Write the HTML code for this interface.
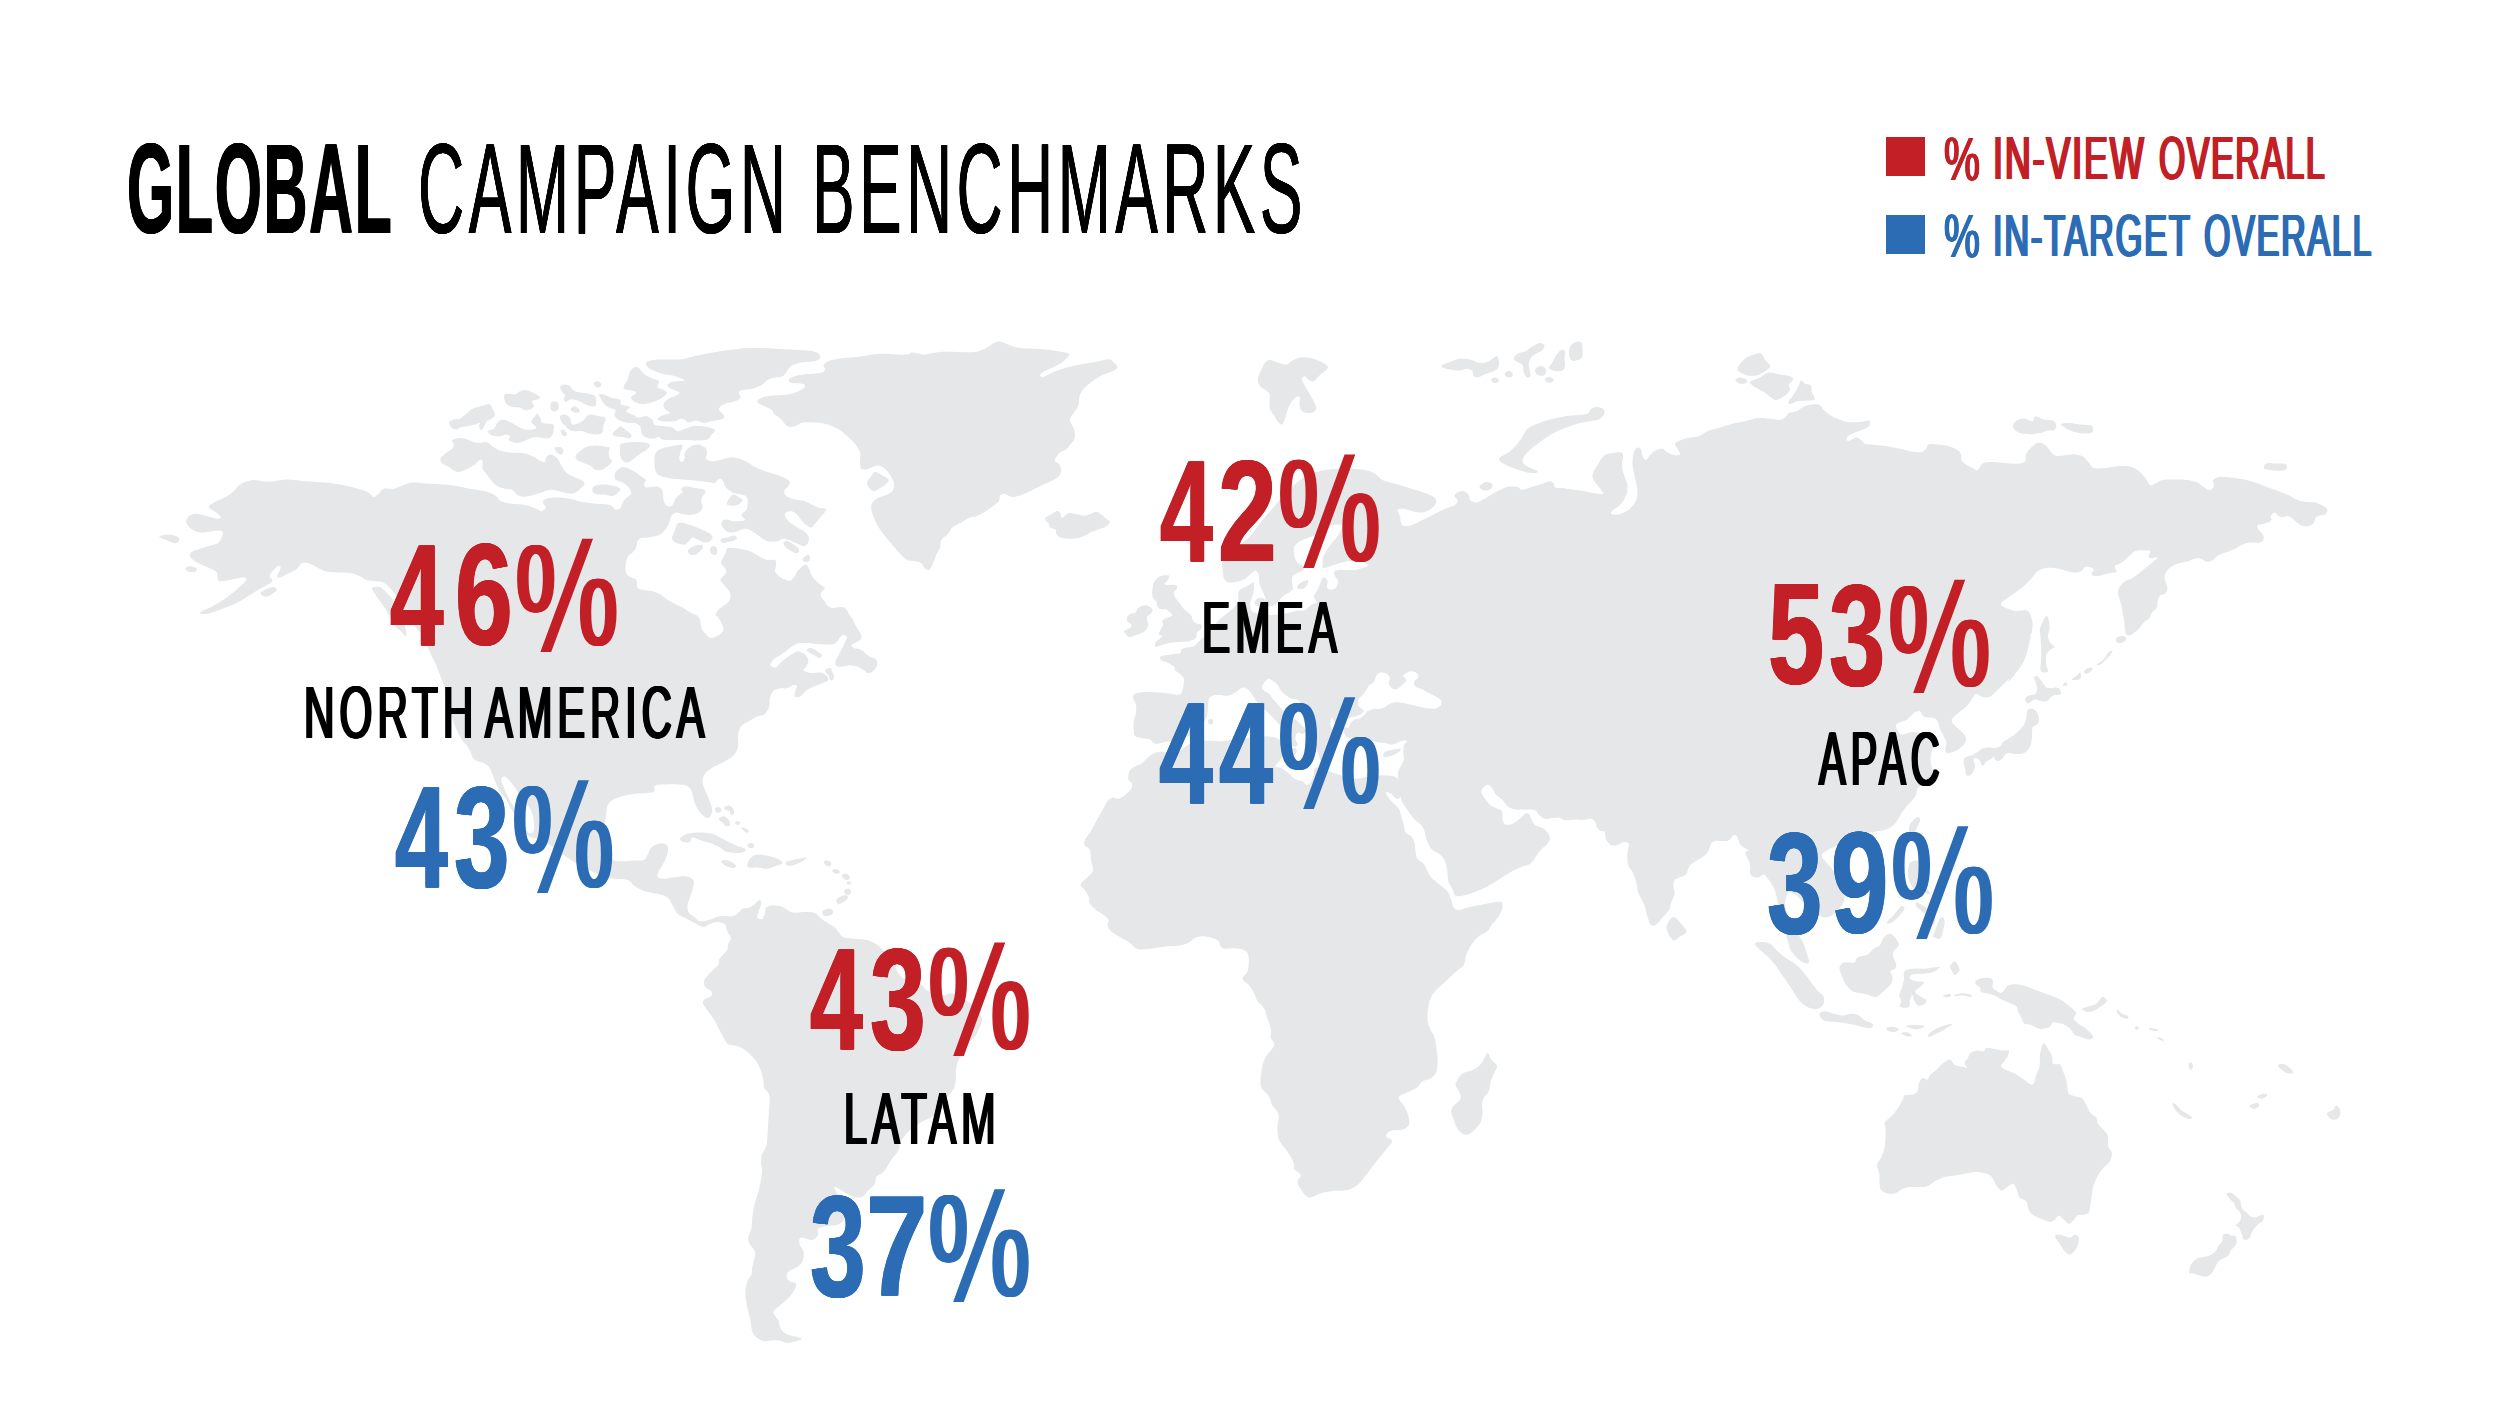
<!DOCTYPE html>
<html lang="en"><head><meta charset="utf-8"><title>Global Campaign Benchmarks</title>
<style>
html,body{margin:0;padding:0;background:#fff;}
body{width:2500px;height:1408px;position:relative;overflow:hidden;font-family:"Liberation Sans",sans-serif;}
svg.map{position:absolute;left:0;top:0;}
h1,ul,li,section{margin:0;padding:0;list-style:none;font-size:0;font-weight:normal;}
.t{position:absolute;display:block;font-family:"Liberation Sans",sans-serif;font-size:200px;line-height:1;white-space:nowrap;transform-origin:0 0;}
.t.b{font-weight:700} .t.r{font-weight:400}

.pc{position:absolute;display:block;width:98.9px;height:113.9px;transform-origin:0 0;font-size:0;white-space:nowrap;}
.pc>span,.pc::before,.pc::after{position:absolute;left:0;top:0;display:block;font:400 200px/1 "Liberation Sans",sans-serif;white-space:nowrap;transform-origin:0 0;}
.pc::before,.pc::after{content:"%";text-shadow:3.5px 0 0 currentColor,-3.5px 0 0 currentColor,1.75px 0 0 currentColor,-1.75px 0 0 currentColor;}
.pc::before{transform:matrix(0.5362,0,0,0.777,-1.877,-17.11);clip-path:polygon(0px 25px,78px 25px,78px 95px,60px 122px,0px 122px);}
.pc::after{transform:matrix(0.5261,0,0,0.7761,7.10,-23.64);clip-path:polygon(118px 78px,178px 78px,178px 175px,100px 175px,100px 105px);}
.pc>span{transform:matrix(0.7067,0,0.1609,0.8254,-29.73,-25.59);clip-path:polygon(123px 28px,144px 28px,55px 172px,34px 172px);}
.sw{position:absolute;display:block;width:39px;height:39px;}
</style></head><body>
<svg class="map" width="2500" height="1408" viewBox="0 0 2500 1408"><path fill="#e6e7e8" d="M160.0,536.2C161.2,535.8 164.8,534.5 167.5,534.5C170.2,534.5 174.2,535.4 176.2,536.2C178.2,537.1 179.5,538.3 179.5,539.5C179.5,540.7 177.6,542.8 176.2,543.2C174.9,543.7 173.1,542.6 171.2,542.0C169.4,541.4 166.9,540.2 165.0,539.5C163.1,538.8 160.8,538.0 160.0,537.5C159.2,537.0 158.8,536.8 160.0,536.2ZM185.8,567.5C186.7,567.0 189.4,566.0 191.2,566.2C193.1,566.5 196.2,567.8 196.8,568.8C197.3,569.7 195.8,571.5 194.5,572.0C193.2,572.5 190.2,572.4 188.8,572.0C187.3,571.6 186.2,570.2 185.8,569.5C185.2,568.8 184.8,568.0 185.8,567.5ZM260.8,592.5C261.6,591.4 265.3,589.7 267.5,588.8C269.7,587.8 272.2,586.8 273.8,587.0C275.3,587.2 277.0,588.9 276.8,590.0C276.5,591.1 274.1,592.6 272.5,593.8C270.9,594.9 268.7,596.5 267.0,596.8C265.3,597.0 263.5,596.2 262.5,595.5C261.5,594.8 259.9,593.6 260.8,592.5ZM449.2,422.0C449.7,420.7 452.0,420.0 453.8,419.5C455.5,419.0 457.9,419.7 460.0,418.8C462.1,417.8 464.2,415.4 466.2,413.8C468.3,412.1 469.8,410.1 472.5,408.8C475.2,407.4 479.7,406.5 482.5,405.8C485.3,405.0 487.8,403.8 489.5,404.2C491.2,404.8 491.6,407.0 492.5,408.8C493.4,410.5 495.2,413.3 495.0,415.0C494.8,416.7 492.7,417.6 491.2,418.8C489.8,419.9 487.5,420.5 486.2,422.0C485.0,423.5 484.6,426.2 483.8,427.5C482.9,428.8 482.1,430.2 481.2,430.0C480.4,429.8 479.0,427.4 478.8,426.2C478.5,425.1 480.6,423.3 480.0,423.0C479.4,422.7 477.1,424.0 475.0,424.5C472.9,425.0 469.8,425.8 467.5,426.2C465.2,426.7 463.1,426.5 461.2,427.0C459.4,427.5 457.9,429.4 456.2,429.5C454.6,429.6 452.4,428.8 451.2,427.5C450.1,426.2 448.8,423.3 449.2,422.0ZM452.5,440.0C453.8,438.9 458.5,438.0 461.2,438.0C464.0,438.0 466.0,439.2 468.8,440.0C471.5,440.8 474.6,442.7 477.5,443.0C480.4,443.3 483.8,441.5 486.2,442.0C488.8,442.5 490.2,444.8 492.5,446.2C494.8,447.7 497.1,449.5 500.0,450.5C502.9,451.5 506.2,452.1 510.0,452.5C513.8,452.9 518.8,452.4 522.5,453.0C526.2,453.6 529.6,455.0 532.5,456.2C535.4,457.5 537.9,459.5 540.0,460.5C542.1,461.5 544.0,462.6 545.0,462.0C546.0,461.4 545.2,458.2 546.2,457.0C547.3,455.8 549.5,454.3 551.2,454.5C553.0,454.7 555.3,456.2 557.0,458.0C558.7,459.8 559.9,462.8 561.2,465.0C562.6,467.2 563.1,469.4 565.0,471.2C566.9,473.1 569.8,474.8 572.5,476.2C575.2,477.7 579.2,478.8 581.2,480.0C583.2,481.2 584.5,482.4 584.5,483.8C584.5,485.1 582.6,486.6 581.2,488.0C579.9,489.4 577.9,491.0 576.2,492.0C574.6,493.0 573.3,493.7 571.2,493.8C569.2,493.8 566.2,493.0 563.8,492.5C561.2,492.0 558.8,490.9 556.2,490.5C553.8,490.1 551.5,489.6 548.8,490.0C546.0,490.4 542.9,492.1 540.0,493.0C537.1,493.9 534.0,494.9 531.2,495.5C528.5,496.1 526.0,496.8 523.8,496.8C521.5,496.7 519.4,496.1 517.5,495.0C515.6,493.9 514.6,491.0 512.5,490.0C510.4,489.0 507.5,489.4 505.0,488.8C502.5,488.1 499.8,487.6 497.5,486.2C495.2,484.9 493.1,482.6 491.2,480.5C489.4,478.4 487.7,475.8 486.2,473.8C484.8,471.7 483.1,470.3 482.5,468.2C481.9,466.2 483.0,462.6 482.5,461.2C482.0,459.9 480.8,459.5 479.5,460.0C478.2,460.5 477.0,463.0 475.0,464.5C473.0,466.0 470.2,467.5 467.5,468.8C464.8,470.0 461.0,471.7 458.8,472.0C456.5,472.3 455.6,471.5 453.8,470.5C451.9,469.5 449.6,467.6 447.5,466.2C445.4,464.9 442.4,463.9 441.2,462.5C440.1,461.1 439.9,459.6 440.8,458.0C441.6,456.4 444.3,454.5 446.2,453.0C448.2,451.5 451.2,450.2 452.5,448.8C453.8,447.3 453.8,446.0 453.8,444.5C453.8,443.0 451.2,441.1 452.5,440.0ZM487.5,431.2C487.7,430.1 492.1,430.2 493.8,428.8C495.4,427.3 496.0,424.0 497.5,422.5C499.0,421.0 500.4,419.6 502.5,419.5C504.6,419.4 507.5,420.9 510.0,422.0C512.5,423.1 515.0,425.0 517.5,426.2C520.0,427.5 522.5,429.0 525.0,429.5C527.5,430.0 530.6,429.8 532.5,429.5C534.4,429.2 536.5,428.8 536.2,427.5C536.0,426.2 531.5,423.9 531.2,422.0C531.0,420.1 534.0,417.6 535.0,416.2C536.0,414.9 536.7,413.5 537.5,413.8C538.3,414.0 539.2,416.0 540.0,417.5C540.8,419.0 541.0,422.0 542.5,423.0C544.0,424.0 546.9,423.4 548.8,423.8C550.6,424.1 553.0,423.5 553.8,425.0C554.5,426.5 553.6,430.3 553.0,432.5C552.4,434.7 551.8,437.1 550.0,438.0C548.2,438.9 545.0,438.2 542.5,438.0C540.0,437.8 537.5,436.8 535.0,437.0C532.5,437.2 530.0,438.6 527.5,439.5C525.0,440.4 522.3,442.0 520.0,442.5C517.7,443.0 515.6,442.9 513.8,442.5C511.9,442.1 509.4,441.0 508.8,440.0C508.1,439.0 510.4,437.2 510.0,436.2C509.6,435.3 507.9,434.5 506.2,434.5C504.6,434.5 502.3,436.1 500.0,436.2C497.7,436.4 494.6,436.3 492.5,435.5C490.4,434.7 487.3,432.4 487.5,431.2ZM504.5,394.5C505.4,393.5 508.2,393.8 510.0,393.8C511.8,393.8 513.3,394.9 515.0,394.5C516.7,394.1 518.3,392.0 520.0,391.2C521.7,390.5 522.9,389.8 525.0,390.0C527.1,390.2 530.0,391.3 532.5,392.5C535.0,393.7 539.2,395.8 540.0,397.0C540.8,398.2 538.3,398.8 537.0,399.5C535.7,400.2 532.5,400.1 532.0,401.2C531.5,402.4 534.1,404.9 533.8,406.2C533.4,407.6 531.7,408.9 530.0,409.5C528.3,410.1 525.4,410.3 523.8,410.0C522.1,409.7 521.9,408.0 520.0,407.5C518.1,407.0 514.7,407.5 512.5,407.0C510.3,406.5 508.3,405.8 507.0,404.5C505.7,403.2 504.9,401.2 504.5,399.5C504.1,397.8 503.6,395.5 504.5,394.5ZM550.8,403.8C551.4,402.4 553.2,401.2 554.5,401.2C555.8,401.2 557.6,402.5 558.2,403.8C558.9,405.0 558.8,407.5 558.2,408.8C557.7,410.0 556.2,411.4 555.0,411.5C553.8,411.6 551.5,410.8 550.8,409.5C550.0,408.2 550.1,405.1 550.8,403.8ZM560.0,387.0C560.5,385.9 563.3,384.6 565.0,384.5C566.7,384.4 568.5,385.2 570.0,386.2C571.5,387.2 572.1,389.5 573.8,390.5C575.4,391.5 577.5,392.0 580.0,392.5C582.5,393.0 586.2,393.1 588.8,393.8C591.2,394.4 593.8,395.0 595.0,396.2C596.2,397.5 596.2,399.6 596.2,401.2C596.2,402.9 596.2,405.5 595.0,406.2C593.8,407.0 590.8,406.3 588.8,405.8C586.7,405.2 584.6,404.0 582.5,403.0C580.4,402.0 578.3,400.6 576.2,400.0C574.2,399.4 571.7,399.2 570.0,399.5C568.3,399.8 567.3,402.0 566.2,402.0C565.2,402.0 564.0,400.6 563.8,399.5C563.5,398.4 565.3,396.9 565.0,395.5C564.7,394.1 562.8,392.7 562.0,391.2C561.2,389.8 559.5,388.1 560.0,387.0ZM571.2,408.0C571.9,407.3 573.8,406.1 575.0,406.2C576.2,406.4 578.0,407.8 578.8,408.8C579.5,409.7 580.1,411.4 579.5,412.0C578.9,412.6 576.4,412.8 575.0,412.5C573.6,412.2 571.9,411.2 571.2,410.5C570.6,409.8 570.6,408.7 571.2,408.0ZM593.8,383.0C594.0,382.0 596.2,381.1 597.5,381.2C598.8,381.4 600.8,382.8 601.2,383.8C601.7,384.7 600.9,386.5 600.0,387.0C599.1,387.5 596.8,387.7 595.8,387.0C594.7,386.3 593.5,384.0 593.8,383.0ZM560.0,416.2C560.6,415.1 563.4,414.3 565.0,414.5C566.6,414.7 568.2,415.8 569.5,417.5C570.8,419.2 571.0,423.6 572.5,424.5C574.0,425.4 576.9,423.8 578.8,423.0C580.6,422.2 582.3,421.2 583.8,420.0C585.2,418.8 586.0,416.4 587.5,415.5C589.0,414.6 590.6,414.4 592.5,414.5C594.4,414.6 596.8,415.8 598.8,416.2C600.8,416.7 603.4,416.3 604.5,417.0C605.6,417.7 605.8,419.0 605.5,420.5C605.2,422.0 603.5,424.2 603.0,426.2C602.5,428.2 603.4,431.1 602.5,432.5C601.6,433.9 599.6,434.3 597.5,434.5C595.4,434.7 592.5,434.3 590.0,433.8C587.5,433.2 585.0,431.7 582.5,431.2C580.0,430.8 577.2,431.5 575.0,431.2C572.8,431.0 571.2,431.0 569.5,430.0C567.8,429.0 566.4,427.0 565.0,425.5C563.6,424.0 562.1,422.8 561.2,421.2C560.4,419.7 559.4,417.4 560.0,416.2ZM560.8,430.5C561.0,429.8 562.8,429.5 563.8,430.0C564.8,430.5 566.5,432.7 566.8,433.8C567.0,434.8 565.8,436.1 565.0,436.2C564.2,436.4 562.7,435.5 562.0,434.5C561.3,433.5 560.5,431.2 560.8,430.5ZM554.5,448.0C554.8,447.0 558.0,446.8 559.5,447.0C561.0,447.2 562.8,448.3 563.2,449.5C563.7,450.7 563.0,453.7 562.0,454.2C561.0,454.8 558.8,454.0 557.5,453.0C556.2,452.0 554.2,449.0 554.5,448.0ZM598.8,394.5C599.2,393.8 601.5,393.9 603.8,394.5C606.0,395.1 609.8,397.2 612.5,398.0C615.2,398.8 618.5,398.4 620.0,399.5C621.5,400.6 619.6,403.2 621.2,404.5C622.9,405.8 629.2,405.9 630.0,407.0C630.8,408.1 625.6,409.9 626.2,411.2C626.9,412.6 631.9,414.0 633.8,415.0C635.6,416.0 635.4,417.3 637.5,417.5C639.6,417.7 643.8,415.8 646.2,416.2C648.8,416.7 651.0,418.5 652.5,420.0C654.0,421.5 652.9,424.0 655.0,425.0C657.1,426.0 662.1,425.8 665.0,426.2C667.9,426.7 670.4,426.7 672.5,427.5C674.6,428.3 675.4,431.0 677.5,431.2C679.6,431.5 682.5,429.6 685.0,428.8C687.5,427.9 689.6,426.7 692.5,426.2C695.4,425.8 699.4,426.0 702.5,426.2C705.6,426.5 709.2,427.3 711.2,428.0C713.3,428.7 715.0,429.3 715.0,430.5C715.0,431.7 712.5,433.5 711.2,435.0C710.0,436.5 709.8,438.6 707.5,439.5C705.2,440.4 701.2,440.4 697.5,440.5C693.8,440.6 689.2,440.1 685.0,440.0C680.8,439.9 676.2,440.1 672.5,440.0C668.8,439.9 664.8,440.0 662.5,439.5C660.2,439.0 660.4,437.1 658.8,437.0C657.1,436.9 654.6,438.7 652.5,438.8C650.4,438.8 648.0,438.3 646.2,437.5C644.5,436.7 643.0,435.6 642.0,433.8C641.0,431.9 641.2,428.0 640.0,426.2C638.8,424.5 637.3,423.6 635.0,423.0C632.7,422.4 629.0,423.0 626.2,422.5C623.5,422.0 620.7,421.2 618.8,420.0C616.8,418.8 615.0,416.7 614.5,415.0C614.0,413.3 616.5,411.2 615.5,410.0C614.5,408.8 610.7,408.5 608.8,407.5C606.8,406.5 605.0,405.2 603.8,403.8C602.5,402.3 602.1,400.3 601.2,398.8C600.4,397.2 598.3,395.2 598.8,394.5ZM623.8,386.2C624.2,384.7 626.5,382.3 627.5,380.0C628.5,377.7 628.5,374.6 629.5,372.5C630.5,370.4 632.2,368.2 633.8,367.5C635.3,366.8 637.1,367.0 638.8,368.0C640.4,369.0 641.7,372.1 643.8,373.8C645.8,375.4 648.8,376.8 651.2,378.0C653.8,379.2 657.7,379.8 658.8,381.2C659.8,382.8 656.7,385.5 657.5,387.0C658.3,388.5 662.2,389.0 663.8,390.0C665.3,391.0 667.2,391.8 667.0,393.0C666.8,394.2 664.5,396.1 662.5,397.5C660.5,398.9 657.7,400.2 655.0,401.2C652.3,402.3 648.8,403.3 646.2,403.8C643.8,404.2 642.1,404.2 640.0,403.8C637.9,403.3 635.2,402.4 633.8,401.2C632.3,400.1 630.8,398.4 631.2,397.0C631.7,395.6 636.0,394.1 636.2,393.0C636.5,391.9 634.4,391.1 632.5,390.5C630.6,389.9 626.5,390.2 625.0,389.5C623.5,388.8 623.3,387.8 623.8,386.2ZM620.5,444.5C621.8,443.5 624.7,442.9 627.5,442.5C630.3,442.1 634.4,441.9 637.5,442.0C640.6,442.1 644.2,442.4 646.2,443.0C648.3,443.6 650.0,444.3 650.0,445.5C650.0,446.7 647.9,448.6 646.2,450.0C644.6,451.4 642.1,452.3 640.0,453.8C637.9,455.2 635.8,457.3 633.8,458.8C631.7,460.2 629.4,462.2 627.5,462.5C625.6,462.8 623.8,461.8 622.5,460.5C621.2,459.2 620.4,457.0 620.0,455.0C619.6,453.0 619.9,450.5 620.0,448.8C620.1,447.0 619.2,445.5 620.5,444.5ZM575.8,455.5C576.2,454.0 578.2,452.7 580.0,451.2C581.8,449.8 584.0,448.0 586.2,447.0C588.5,446.0 591.0,445.6 593.8,445.5C596.5,445.4 599.9,445.9 602.5,446.2C605.1,446.6 608.5,446.5 609.5,447.5C610.5,448.5 608.8,450.8 608.8,452.5C608.8,454.2 609.0,456.0 609.5,457.5C610.0,459.0 612.3,459.8 612.0,461.2C611.7,462.7 609.3,464.8 607.5,466.2C605.7,467.7 603.3,469.5 601.2,470.0C599.2,470.5 596.9,470.2 595.0,469.5C593.1,468.8 592.1,466.7 590.0,465.5C587.9,464.3 584.7,463.4 582.5,462.5C580.3,461.6 578.1,461.2 577.0,460.0C575.9,458.8 575.2,457.0 575.8,455.5ZM612.5,433.8C612.8,432.5 616.2,430.0 617.5,428.8C618.8,427.5 619.2,426.1 620.5,426.2C621.8,426.4 623.2,428.1 625.0,429.5C626.8,430.9 630.4,433.1 631.2,434.5C632.1,435.9 631.5,437.6 630.0,438.0C628.5,438.4 624.9,437.3 622.5,437.0C620.1,436.7 617.2,436.8 615.5,436.2C613.8,435.7 612.2,435.0 612.5,433.8ZM592.5,488.0C593.2,486.8 595.2,485.6 597.5,485.0C599.8,484.4 603.3,484.3 606.2,484.5C609.2,484.7 612.6,485.5 615.0,486.2C617.4,487.0 620.1,487.6 620.5,488.8C620.9,489.9 618.8,491.8 617.5,493.0C616.2,494.2 614.6,496.0 612.5,496.2C610.4,496.5 607.5,494.8 605.0,494.5C602.5,494.2 599.5,494.9 597.5,494.5C595.5,494.1 593.8,493.1 593.0,492.0C592.2,490.9 591.8,489.2 592.5,488.0ZM727.0,502.5C727.3,501.2 728.9,498.8 730.0,497.5C731.1,496.2 732.3,494.6 733.8,494.5C735.2,494.4 737.3,496.1 738.8,497.0C740.2,497.9 742.4,498.9 742.5,500.0C742.6,501.1 741.0,502.8 739.5,503.8C738.0,504.7 735.7,505.5 733.8,505.8C731.8,506.0 729.1,505.5 728.0,505.0C726.9,504.5 726.7,503.8 727.0,502.5ZM672.0,537.5C672.1,535.8 673.7,533.4 674.5,531.2C675.3,529.1 675.9,526.0 677.0,524.5C678.1,523.0 679.1,522.4 681.2,522.5C683.4,522.6 686.9,524.0 690.0,525.0C693.1,526.0 696.9,527.4 700.0,528.8C703.1,530.1 706.7,531.6 708.8,533.0C710.8,534.4 712.3,535.6 712.5,537.0C712.7,538.4 711.5,540.3 710.0,541.2C708.5,542.2 705.8,542.8 703.8,542.5C701.7,542.2 699.4,540.3 697.5,539.5C695.6,538.7 694.0,537.2 692.5,537.5C691.0,537.8 690.0,540.1 688.8,541.2C687.5,542.4 686.7,544.1 685.0,544.5C683.3,544.9 680.6,544.3 678.8,543.8C676.9,543.2 674.9,542.3 673.8,541.2C672.6,540.2 671.9,539.2 672.0,537.5ZM688.0,550.0C688.7,548.8 691.8,547.1 693.8,546.2C695.8,545.4 698.5,544.9 700.0,545.0C701.5,545.1 703.2,546.0 703.0,547.0C702.8,548.0 700.2,550.0 698.8,551.2C697.3,552.5 696.0,554.1 694.5,554.5C693.0,554.9 690.6,554.5 689.5,553.8C688.4,553.0 687.3,551.2 688.0,550.0ZM710.8,547.5C711.4,546.7 713.5,546.1 714.5,546.5C715.5,546.9 716.7,548.7 717.0,550.0C717.3,551.3 717.0,553.8 716.2,554.5C715.5,555.2 713.4,555.0 712.5,554.5C711.6,554.0 711.0,552.4 710.8,551.2C710.5,550.1 710.1,548.3 710.8,547.5ZM721.2,538.8C722.4,538.1 725.4,538.0 727.5,537.5C729.6,537.0 732.2,535.4 733.8,535.5C735.3,535.6 737.0,537.2 737.0,538.0C737.0,538.8 735.3,539.8 733.8,540.5C732.2,541.2 729.2,541.6 727.5,542.0C725.8,542.4 724.9,543.1 723.8,543.0C722.6,542.9 721.2,542.0 720.8,541.2C720.3,540.5 720.1,539.4 721.2,538.8ZM646.2,362.5C647.0,361.2 649.4,360.5 652.5,360.0C655.6,359.5 660.4,359.6 665.0,359.5C669.6,359.4 676.2,359.8 680.0,359.5C683.8,359.2 684.2,358.8 687.5,358.0C690.8,357.2 693.8,356.2 700.0,355.0C706.2,353.8 716.7,351.7 725.0,350.5C733.3,349.3 741.7,348.3 750.0,348.0C758.3,347.7 766.7,348.4 775.0,348.8C783.3,349.1 793.8,349.6 800.0,350.0C806.2,350.4 809.4,350.6 812.5,351.2C815.6,351.9 817.5,352.6 818.8,353.8C820.0,354.9 820.6,356.8 820.0,358.0C819.4,359.2 817.5,360.6 815.0,361.2C812.5,361.9 808.1,361.6 805.0,362.0C801.9,362.4 798.8,362.9 796.2,363.8C793.8,364.6 791.7,365.5 790.0,367.0C788.3,368.5 787.5,371.0 786.2,372.5C785.0,374.0 784.4,375.4 782.5,376.2C780.6,377.1 777.5,376.9 775.0,377.5C772.5,378.1 769.6,378.8 767.5,380.0C765.4,381.2 765.0,383.0 762.5,384.5C760.0,386.0 755.8,387.8 752.5,388.8C749.2,389.7 744.8,389.4 742.5,390.0C740.2,390.6 739.1,391.2 738.8,392.5C738.4,393.8 741.1,396.0 740.5,397.5C739.9,399.0 737.6,400.2 735.0,401.2C732.4,402.3 727.7,402.5 725.0,403.8C722.3,405.0 719.2,407.1 718.8,408.8C718.3,410.4 721.5,412.3 722.5,413.8C723.5,415.2 725.1,416.5 724.5,417.5C723.9,418.5 721.0,419.4 718.8,420.0C716.5,420.6 713.8,420.8 711.2,421.2C708.8,421.8 706.2,423.1 703.8,423.0C701.2,422.9 698.8,420.6 696.2,420.5C693.8,420.4 690.6,422.6 688.8,422.5C686.9,422.4 686.5,420.6 685.0,420.0C683.5,419.4 681.7,418.5 680.0,418.8C678.3,419.0 677.9,420.8 675.0,421.2C672.1,421.7 665.4,421.7 662.5,421.2C659.6,420.8 657.5,419.7 657.5,418.8C657.5,417.8 660.4,416.5 662.5,415.5C664.6,414.5 669.6,414.1 670.0,413.0C670.4,411.9 666.0,410.3 665.0,408.8C664.0,407.2 663.1,405.4 663.8,403.8C664.4,402.1 666.7,400.1 668.8,398.8C670.8,397.4 674.5,396.5 676.2,395.5C678.0,394.5 679.9,393.4 679.5,392.5C679.1,391.6 675.8,391.0 673.8,390.0C671.8,389.0 668.1,387.5 667.5,386.2C666.9,385.0 668.3,383.3 670.0,382.5C671.7,381.7 675.0,381.6 677.5,381.2C680.0,380.9 685.4,381.3 685.0,380.5C684.6,379.7 678.3,377.2 675.0,376.2C671.7,375.2 668.3,375.3 665.0,374.5C661.7,373.7 657.8,372.4 655.0,371.2C652.2,370.1 649.5,369.0 648.0,367.5C646.5,366.0 645.5,363.8 646.2,362.5ZM823.8,365.0C824.6,363.6 826.5,361.7 830.0,360.5C833.5,359.3 839.6,358.7 845.0,358.0C850.4,357.3 856.7,357.0 862.5,356.2C868.3,355.5 874.6,354.0 880.0,353.8C885.4,353.5 890.4,354.4 895.0,354.5C899.6,354.6 904.6,354.8 907.5,354.5C910.4,354.2 909.6,352.5 912.5,352.5C915.4,352.5 920.4,354.6 925.0,354.5C929.6,354.4 934.6,352.4 940.0,352.0C945.4,351.6 951.7,352.0 957.5,352.0C963.3,352.0 970.2,352.7 975.0,352.0C979.8,351.3 982.9,349.6 986.2,348.0C989.6,346.4 992.5,343.5 995.0,342.5C997.5,341.5 998.8,341.2 1001.2,341.8C1003.8,342.2 1006.9,344.5 1010.0,345.5C1013.1,346.5 1015.8,347.5 1020.0,348.0C1024.2,348.5 1030.0,348.4 1035.0,348.8C1040.0,349.1 1045.4,349.5 1050.0,350.0C1054.6,350.5 1059.2,351.3 1062.5,352.0C1065.8,352.7 1068.9,353.1 1069.5,354.2C1070.1,355.4 1067.8,357.2 1066.2,358.8C1064.7,360.3 1062.7,362.1 1060.0,363.8C1057.3,365.4 1052.9,367.3 1050.0,368.8C1047.1,370.2 1044.2,371.4 1042.5,372.5C1040.8,373.6 1039.8,374.8 1040.0,375.5C1040.2,376.2 1041.7,377.2 1043.8,376.8C1045.8,376.2 1049.0,374.0 1052.5,372.5C1056.0,371.0 1060.4,369.3 1065.0,368.0C1069.6,366.7 1075.0,365.5 1080.0,364.5C1085.0,363.5 1090.2,362.9 1095.0,362.0C1099.8,361.1 1105.6,359.2 1108.8,359.2C1111.9,359.3 1112.3,361.1 1113.8,362.5C1115.2,363.9 1117.7,366.0 1117.5,367.5C1117.3,369.0 1115.0,370.0 1112.5,371.2C1110.0,372.5 1105.8,373.3 1102.5,375.0C1099.2,376.7 1095.6,379.0 1092.5,381.2C1089.4,383.5 1085.9,386.2 1083.8,388.8C1081.6,391.2 1080.3,393.8 1079.5,396.2C1078.7,398.8 1079.5,401.2 1078.8,403.8C1078.0,406.2 1076.5,408.8 1075.0,411.2C1073.5,413.8 1070.6,416.7 1070.0,418.8C1069.4,420.8 1070.5,421.9 1071.2,423.8C1072.0,425.6 1073.7,427.5 1074.2,430.0C1074.8,432.5 1075.2,436.2 1074.5,438.8C1073.8,441.2 1071.4,443.2 1070.0,445.0C1068.6,446.8 1067.9,448.2 1066.2,449.5C1064.6,450.8 1061.9,450.8 1060.0,452.5C1058.1,454.2 1055.2,458.1 1055.0,460.0C1054.8,461.9 1057.7,462.1 1058.8,463.8C1059.8,465.4 1061.2,467.9 1061.2,470.0C1061.2,472.1 1060.2,474.5 1058.8,476.2C1057.3,478.0 1055.2,479.0 1052.5,480.5C1049.8,482.0 1045.8,483.4 1042.5,485.0C1039.2,486.6 1035.8,488.4 1032.5,490.0C1029.2,491.6 1025.8,493.3 1022.5,494.5C1019.2,495.7 1015.6,497.1 1012.5,497.0C1009.4,496.9 1005.8,493.9 1003.8,493.8C1001.7,493.6 1000.8,495.0 1000.0,496.2C999.2,497.5 1000.2,499.4 998.8,501.2C997.3,503.1 993.8,505.6 991.2,507.5C988.8,509.4 986.2,511.0 983.8,512.5C981.2,514.0 978.5,515.4 976.2,516.2C974.0,517.1 972.5,516.5 970.0,517.5C967.5,518.5 964.2,520.8 961.2,522.5C958.3,524.2 954.4,526.0 952.5,527.5C950.6,529.0 951.0,529.9 950.0,531.2C949.0,532.6 947.7,534.0 946.2,535.5C944.8,537.0 942.3,538.0 941.2,540.0C940.2,542.0 940.8,545.0 940.0,547.5C939.2,550.0 937.3,552.7 936.2,555.0C935.2,557.3 934.6,559.2 933.8,561.2C932.9,563.3 932.1,566.0 931.2,567.5C930.4,569.0 929.8,569.8 928.8,570.0C927.7,570.2 926.2,569.9 925.0,568.8C923.8,567.6 922.9,564.2 921.2,563.0C919.6,561.8 917.3,561.8 915.0,561.2C912.7,560.8 910.0,561.2 907.5,560.0C905.0,558.8 902.5,556.2 900.0,553.8C897.5,551.2 895.0,547.9 892.5,545.0C890.0,542.1 887.3,539.2 885.0,536.2C882.7,533.3 880.6,530.6 878.8,527.5C876.9,524.4 875.0,520.6 873.8,517.5C872.5,514.4 871.5,511.2 871.2,508.8C871.0,506.2 871.2,504.4 872.5,502.5C873.8,500.6 876.2,498.8 878.8,497.5C881.2,496.2 885.1,495.8 887.5,494.5C889.9,493.2 892.0,492.0 893.0,490.0C894.0,488.0 894.2,485.0 893.8,482.5C893.2,480.0 891.5,477.3 890.0,475.0C888.5,472.7 886.9,470.3 885.0,468.8C883.1,467.2 880.8,465.8 878.8,465.5C876.7,465.2 874.6,466.3 872.5,467.0C870.4,467.7 868.1,469.2 866.2,469.5C864.4,469.8 862.3,469.9 861.2,468.8C860.2,467.6 860.2,465.2 860.0,462.5C859.8,459.8 860.8,455.6 860.0,452.5C859.2,449.4 857.1,446.5 855.0,443.8C852.9,441.0 850.2,438.6 847.5,436.2C844.8,433.9 842.1,431.5 838.8,429.5C835.4,427.5 831.2,425.7 827.5,424.5C823.8,423.3 820.4,422.8 816.2,422.5C812.1,422.2 806.0,421.9 802.5,422.5C799.0,423.1 797.5,425.6 795.0,426.2C792.5,426.9 789.8,427.4 787.5,426.2C785.2,425.1 783.5,421.6 781.2,419.5C779.0,417.4 775.2,415.2 773.8,413.8C772.3,412.2 773.8,411.6 772.5,410.5C771.2,409.4 768.5,408.1 766.2,407.0C764.0,405.9 760.2,404.8 758.8,403.8C757.3,402.7 756.7,401.6 757.5,400.5C758.3,399.4 760.8,397.8 763.8,397.0C766.7,396.2 771.0,395.9 775.0,395.5C779.0,395.1 783.5,395.2 787.5,394.5C791.5,393.8 795.8,392.6 798.8,391.2C801.7,389.9 804.4,387.5 805.0,386.2C805.6,385.0 804.4,384.2 802.5,383.8C800.6,383.2 796.0,383.7 793.8,383.2C791.5,382.8 789.2,382.2 788.8,381.2C788.3,380.3 789.0,378.6 791.2,377.5C793.5,376.4 799.0,375.1 802.5,374.5C806.0,373.9 809.2,374.1 812.5,373.8C815.8,373.4 820.4,373.3 822.5,372.5C824.6,371.7 824.8,370.0 825.0,368.8C825.2,367.5 822.9,366.4 823.8,365.0ZM867.0,482.5C867.4,480.6 869.9,478.0 871.2,476.2C872.6,474.5 873.1,472.1 875.0,472.0C876.9,471.9 880.2,474.2 882.5,475.5C884.8,476.8 888.3,478.4 888.8,480.0C889.2,481.6 886.7,483.5 885.0,485.0C883.3,486.5 880.6,487.7 878.8,488.8C876.9,489.8 875.4,491.5 873.8,491.2C872.1,491.0 869.9,489.0 868.8,487.5C867.6,486.0 866.6,484.4 867.0,482.5ZM1045.0,518.8C1045.2,517.3 1048.1,516.2 1050.0,515.0C1051.9,513.8 1054.6,511.7 1056.2,511.2C1057.9,510.8 1059.0,511.4 1060.0,512.5C1061.0,513.6 1061.0,517.7 1062.0,518.0C1063.0,518.3 1064.9,515.3 1066.2,514.5C1067.6,513.7 1068.1,513.0 1070.0,513.0C1071.9,513.0 1075.0,514.1 1077.5,514.5C1080.0,514.9 1082.7,515.6 1085.0,515.5C1087.3,515.4 1089.4,514.4 1091.2,513.8C1093.1,513.1 1094.6,511.6 1096.2,511.8C1097.9,511.9 1099.6,513.3 1101.2,514.5C1102.9,515.7 1104.8,517.5 1106.2,518.8C1107.7,520.0 1110.0,520.8 1110.0,522.0C1110.0,523.2 1108.1,525.0 1106.2,526.2C1104.4,527.5 1101.2,528.3 1098.8,529.2C1096.2,530.2 1093.5,531.0 1091.2,532.0C1089.0,533.0 1087.3,534.5 1085.0,535.5C1082.7,536.5 1080.4,537.7 1077.5,538.2C1074.6,538.8 1070.4,538.9 1067.5,538.8C1064.6,538.6 1061.9,538.3 1060.0,537.5C1058.1,536.7 1057.0,535.1 1056.2,533.8C1055.5,532.4 1056.5,530.5 1055.5,529.5C1054.5,528.5 1051.1,528.5 1050.0,527.5C1048.9,526.5 1049.6,525.2 1048.8,523.8C1047.9,522.3 1044.8,520.2 1045.0,518.8ZM655.0,455.0C655.7,452.5 656.7,451.3 658.8,450.0C660.8,448.7 664.8,447.8 667.5,447.0C670.2,446.2 672.5,445.8 675.0,445.5C677.5,445.2 681.7,443.6 682.5,445.0C683.3,446.4 680.5,451.2 680.0,453.8C679.5,456.2 679.1,458.6 679.5,460.0C679.9,461.4 681.7,462.2 682.5,462.0C683.3,461.8 684.1,460.3 684.5,458.8C684.9,457.2 684.1,454.5 685.0,452.5C685.9,450.5 687.9,448.3 690.0,447.0C692.1,445.7 695.0,444.4 697.5,444.5C700.0,444.6 703.4,446.2 705.0,447.5C706.6,448.8 706.8,450.6 707.0,452.5C707.2,454.4 705.5,457.3 706.2,458.8C707.0,460.2 709.0,461.0 711.2,461.2C713.5,461.5 716.9,460.6 720.0,460.0C723.1,459.4 726.7,457.7 730.0,457.5C733.3,457.3 736.7,457.7 740.0,458.8C743.3,459.8 747.7,462.5 750.0,463.8C752.3,465.0 751.2,465.0 753.8,466.2C756.2,467.5 761.0,469.8 765.0,471.2C769.0,472.7 774.0,473.8 777.5,475.0C781.0,476.2 784.2,477.5 786.2,478.8C788.3,480.0 789.8,481.1 790.0,482.5C790.2,483.9 788.4,485.8 787.5,487.0C786.6,488.2 784.9,488.8 784.5,490.0C784.1,491.2 784.1,493.2 785.0,494.5C785.9,495.8 787.9,497.1 790.0,498.0C792.1,498.9 795.0,499.5 797.5,500.0C800.0,500.5 802.5,500.4 805.0,501.2C807.5,502.1 810.0,503.9 812.5,505.0C815.0,506.1 817.8,507.4 820.0,508.0C822.2,508.6 825.0,508.0 825.8,508.8C826.5,509.5 825.5,511.0 824.5,512.5C823.5,514.0 821.6,515.6 820.0,517.5C818.4,519.4 816.5,522.1 815.0,523.8C813.5,525.4 812.7,527.3 811.2,527.5C809.8,527.7 807.9,526.2 806.2,525.0C804.6,523.8 802.9,521.9 801.2,520.0C799.6,518.1 797.9,515.2 796.2,513.8C794.6,512.3 792.9,511.5 791.2,511.2C789.6,511.0 787.3,511.7 786.2,512.5C785.2,513.3 784.4,514.6 785.0,516.2C785.6,517.9 787.9,520.6 790.0,522.5C792.1,524.4 795.0,525.9 797.5,527.5C800.0,529.1 803.1,530.3 805.0,532.0C806.9,533.7 808.3,535.5 808.8,537.5C809.2,539.5 808.3,542.3 807.5,543.8C806.7,545.2 805.4,546.2 803.8,546.2C802.1,546.2 800.0,544.8 797.5,543.8C795.0,542.7 791.2,540.8 788.8,540.0C786.2,539.2 784.4,538.5 782.5,538.8C780.6,539.0 780.0,540.8 777.5,541.2C775.0,541.7 770.8,542.3 767.5,541.2C764.2,540.2 760.4,536.9 757.5,535.0C754.6,533.1 752.3,531.0 750.0,530.0C747.7,529.0 745.8,528.5 743.8,528.8C741.7,529.0 739.8,530.6 737.5,531.2C735.2,531.9 732.1,532.7 730.0,532.5C727.9,532.3 726.5,531.5 725.0,530.0C723.5,528.5 721.2,525.5 721.2,523.8C721.2,522.0 722.7,519.9 725.0,519.5C727.3,519.1 731.7,521.2 735.0,521.2C738.3,521.3 744.0,521.0 745.0,520.0C746.0,519.0 741.0,516.7 741.2,515.0C741.5,513.3 745.2,511.7 746.2,510.0C747.3,508.3 747.5,507.3 747.5,505.0C747.5,502.7 748.8,498.3 746.2,496.2C743.8,494.2 736.0,494.2 732.5,492.5C729.0,490.8 726.5,487.9 725.0,486.2C723.5,484.6 724.4,483.7 723.8,482.5C723.1,481.3 722.3,479.7 721.2,479.2C720.2,478.8 718.5,479.4 717.5,480.0C716.5,480.6 716.7,482.7 715.0,483.0C713.3,483.3 710.8,482.4 707.5,482.0C704.2,481.6 699.2,480.9 695.0,480.5C690.8,480.1 686.2,479.8 682.5,479.5C678.8,479.2 676.0,479.3 672.5,478.8C669.0,478.2 664.0,477.3 661.2,476.2C658.5,475.2 657.4,474.4 656.2,472.5C655.1,470.6 654.7,467.9 654.5,465.0C654.3,462.1 654.3,457.5 655.0,455.0ZM783.8,542.5C784.2,541.7 785.9,540.6 788.0,541.2C790.1,541.9 794.4,544.8 796.2,546.2C798.1,547.7 799.0,548.8 799.2,550.0C799.5,551.2 798.8,553.0 797.5,553.2C796.2,553.5 793.3,552.4 791.2,551.2C789.2,550.1 786.2,547.7 785.0,546.2C783.8,544.8 783.2,543.3 783.8,542.5ZM807.1,649.2C807.5,648.6 809.0,647.9 810.2,647.9C811.3,647.9 812.6,648.5 814.0,649.2C815.3,649.9 817.0,651.1 818.3,652.1C819.7,653.1 821.7,654.3 822.1,655.2C822.5,656.1 821.5,656.9 820.8,657.3C820.2,657.7 819.4,658.0 818.3,657.7C817.3,657.4 815.9,656.2 814.6,655.4C813.2,654.7 811.4,654.0 810.2,653.3C809.0,652.6 808.0,652.1 807.4,651.4C806.9,650.7 806.6,649.8 807.1,649.2ZM825.2,670.2C825.4,669.4 826.8,668.6 827.7,668.3C828.7,668.0 830.1,667.7 830.9,668.3C831.6,669.0 831.6,670.9 832.1,672.1C832.6,673.2 833.7,674.2 834.0,675.2C834.3,676.3 834.2,677.5 833.7,678.3C833.3,679.2 832.2,680.4 831.5,680.5C830.8,680.6 830.0,679.7 829.6,679.0C829.2,678.2 829.5,676.8 829.0,675.8C828.5,674.9 827.1,674.3 826.5,673.3C825.8,672.4 825.0,671.0 825.2,670.2ZM802.3,559.4C802.4,558.6 803.7,557.7 804.6,556.9C805.5,556.1 806.9,554.9 807.7,554.8C808.5,554.7 809.2,555.4 809.6,556.3C809.9,557.1 810.1,558.8 809.8,559.8C809.5,560.7 808.6,561.6 807.7,561.9C806.8,562.2 805.1,562.0 804.2,561.5C803.3,561.1 802.2,560.2 802.3,559.4ZM710.4,548.8C710.9,547.8 712.2,546.5 713.2,546.3C714.1,546.0 715.7,546.4 716.3,547.3C716.9,548.1 717.0,550.0 716.9,551.3C716.9,552.5 716.8,554.3 716.0,554.8C715.3,555.3 713.5,554.9 712.5,554.4C711.6,553.9 710.8,552.8 710.4,551.9C710.1,551.0 709.9,549.7 710.4,548.8ZM690.0,548.8C690.8,547.4 693.1,546.6 695.0,546.0C696.9,545.4 699.9,544.9 701.3,545.0C702.6,545.2 703.3,545.9 703.1,546.9C703.0,547.8 701.8,549.4 700.6,550.6C699.5,551.9 697.6,553.7 696.3,554.4C694.9,555.1 693.5,555.0 692.5,555.0C691.5,555.0 690.4,555.4 690.0,554.4C689.6,553.4 689.2,550.2 690.0,548.8ZM680.0,838.8C680.6,837.4 684.2,834.8 687.5,833.8C690.8,832.7 695.8,832.5 700.0,832.5C704.2,832.5 708.8,832.7 712.5,833.8C716.2,834.8 718.8,836.9 722.5,838.8C726.2,840.6 731.2,843.3 735.0,845.0C738.8,846.7 743.5,847.6 745.0,848.8C746.5,849.9 745.4,851.3 743.8,852.0C742.1,852.7 738.1,853.1 735.0,853.0C731.9,852.9 727.5,852.2 725.0,851.2C722.5,850.3 722.5,848.9 720.0,847.5C717.5,846.1 713.3,844.2 710.0,843.0C706.7,841.8 702.9,840.9 700.0,840.0C697.1,839.1 694.2,837.2 692.5,837.5C690.8,837.8 691.5,841.2 690.0,842.0C688.5,842.8 685.4,842.5 683.8,842.0C682.1,841.5 679.4,840.1 680.0,838.8ZM747.5,863.8C747.9,862.1 749.6,859.0 751.2,857.5C752.9,856.0 754.4,854.7 757.5,854.5C760.6,854.3 766.2,855.3 770.0,856.2C773.8,857.2 778.0,858.8 780.0,860.0C782.0,861.2 782.8,862.7 782.0,863.8C781.2,864.8 777.4,865.4 775.0,866.2C772.6,867.1 770.4,868.5 767.5,868.8C764.6,869.0 760.6,867.7 757.5,867.5C754.4,867.3 750.4,868.1 748.8,867.5C747.1,866.9 747.1,865.4 747.5,863.8ZM721.2,861.2C721.5,860.3 724.4,859.8 726.2,860.0C728.1,860.2 730.8,861.5 732.5,862.5C734.2,863.5 736.2,865.3 736.2,866.2C736.2,867.2 734.4,868.1 732.5,868.0C730.6,867.9 726.9,866.6 725.0,865.5C723.1,864.4 721.0,862.2 721.2,861.2ZM786.2,862.0C787.6,861.1 791.7,860.2 795.0,859.5C798.3,858.8 805.2,857.1 806.2,857.5C807.3,857.9 803.8,860.6 801.2,862.0C798.8,863.4 793.6,865.2 791.2,865.8C788.9,866.2 787.8,865.6 787.0,865.0C786.2,864.4 784.9,862.9 786.2,862.0ZM715.0,808.8C715.2,807.8 717.0,807.0 718.0,807.0C719.0,807.0 720.8,807.9 721.2,808.8C721.7,809.6 721.2,811.4 720.5,812.0C719.8,812.6 717.9,813.0 717.0,812.5C716.1,812.0 714.8,809.7 715.0,808.8ZM724.5,807.0C725.0,806.2 727.3,805.2 728.8,805.5C730.2,805.8 732.4,807.4 733.2,808.8C734.1,810.1 734.2,812.7 733.8,813.8C733.3,814.8 731.1,815.4 730.5,815.0C729.9,814.6 730.8,812.1 730.0,811.2C729.2,810.4 726.4,810.7 725.5,810.0C724.6,809.3 724.0,807.8 724.5,807.0ZM718.8,818.8C719.0,817.7 722.1,816.0 723.8,816.2C725.4,816.5 727.7,818.5 728.8,820.0C729.8,821.5 730.4,824.0 730.0,825.0C729.6,826.0 727.5,826.7 726.2,826.2C725.0,825.8 723.8,823.8 722.5,822.5C721.2,821.2 718.5,819.8 718.8,818.8ZM735.0,822.0C735.3,821.4 737.9,821.0 738.8,821.2C739.6,821.5 740.3,823.1 740.0,823.8C739.7,824.4 737.8,825.3 737.0,825.0C736.2,824.7 734.7,822.6 735.0,822.0ZM741.2,828.0C741.0,827.2 743.8,827.5 745.0,828.0C746.2,828.5 748.5,830.5 748.8,831.2C749.0,832.0 747.5,833.0 746.2,832.5C745.0,832.0 741.5,828.8 741.2,828.0ZM747.5,844.5C747.9,843.8 750.1,842.8 751.2,843.0C752.4,843.2 754.3,844.7 754.5,845.5C754.7,846.3 753.5,847.7 752.5,848.0C751.5,848.3 749.6,848.1 748.8,847.5C747.9,846.9 747.1,845.2 747.5,844.5ZM823.8,861.2C824.1,860.5 826.2,860.2 827.5,860.5C828.8,860.8 830.9,862.3 831.2,863.2C831.6,864.2 830.5,866.0 829.5,866.2C828.5,866.5 826.5,865.8 825.5,865.0C824.5,864.2 823.4,862.0 823.8,861.2ZM832.5,870.0C833.0,869.4 835.8,869.2 837.0,869.5C838.2,869.8 839.9,871.3 840.0,872.0C840.1,872.7 838.5,873.6 837.5,873.8C836.5,873.9 834.6,873.6 833.8,873.0C832.9,872.4 832.0,870.6 832.5,870.0ZM842.0,875.0C842.4,874.2 844.9,873.4 846.2,873.8C847.6,874.1 849.7,876.0 850.0,877.0C850.3,878.0 849.0,879.7 848.0,880.0C847.0,880.3 844.8,879.6 843.8,878.8C842.8,877.9 841.6,875.8 842.0,875.0ZM846.8,882.0C847.1,881.5 849.2,881.0 850.0,881.2C850.8,881.5 851.6,883.2 851.2,883.8C850.9,884.3 848.8,884.8 848.0,884.5C847.2,884.2 846.4,882.5 846.8,882.0ZM844.5,890.0C845.1,889.2 847.6,888.4 848.8,888.8C849.9,889.1 851.2,891.0 851.2,892.0C851.2,893.0 849.8,894.7 848.8,895.0C847.7,895.3 845.7,894.6 845.0,893.8C844.3,892.9 843.9,890.8 844.5,890.0ZM836.2,900.0C836.8,898.8 839.5,897.0 841.2,896.2C843.0,895.5 846.0,895.1 847.0,895.5C848.0,895.9 848.2,897.6 847.5,898.8C846.8,899.9 844.1,901.7 842.5,902.5C840.9,903.3 839.0,904.2 838.0,903.8C837.0,903.3 835.7,901.2 836.2,900.0ZM822.5,911.2C823.2,910.3 825.8,909.0 827.5,908.8C829.2,908.5 831.8,909.0 832.5,910.0C833.2,911.0 833.0,913.5 832.0,914.5C831.0,915.5 827.8,916.2 826.2,916.2C824.8,916.2 823.6,915.3 823.0,914.5C822.4,913.7 821.8,912.2 822.5,911.2ZM200.0,612.5C200.8,611.2 208.3,608.5 212.5,606.2C216.7,604.0 220.8,601.7 225.0,598.8C229.2,595.8 234.0,591.9 237.5,588.8C241.0,585.6 245.4,581.9 246.2,580.0C247.1,578.1 245.2,577.5 242.5,577.5C239.8,577.5 233.8,579.4 230.0,580.0C226.2,580.6 222.1,581.7 220.0,581.2C217.9,580.8 217.9,578.8 217.5,577.5C217.1,576.2 218.1,575.0 217.5,573.8C216.9,572.5 215.8,571.2 213.8,570.0C211.7,568.8 208.1,567.7 205.0,566.2C201.9,564.8 197.5,562.9 195.0,561.2C192.5,559.6 190.6,557.7 190.0,556.2C189.4,554.8 189.6,553.8 191.2,552.5C192.9,551.2 196.5,550.0 200.0,548.8C203.5,547.5 209.4,546.0 212.5,545.0C215.6,544.0 217.1,544.2 218.8,542.5C220.4,540.8 222.1,537.0 222.5,535.0C222.9,533.0 222.9,531.4 221.2,530.8C219.6,530.1 216.0,531.0 212.5,531.2C209.0,531.5 203.5,532.9 200.0,532.5C196.5,532.1 193.5,530.4 191.2,528.8C189.0,527.1 186.7,524.6 186.2,522.5C185.8,520.4 187.1,517.7 188.8,516.2C190.4,514.8 193.1,513.8 196.2,513.8C199.4,513.8 204.0,515.4 207.5,516.2C211.0,517.1 215.3,518.6 217.5,518.8C219.7,518.9 221.0,518.0 220.8,517.0C220.5,516.0 218.2,514.2 216.2,512.5C214.2,510.8 208.8,508.6 208.8,506.8C208.8,504.9 213.5,502.8 216.2,501.2C219.0,499.7 222.1,499.2 225.0,497.5C227.9,495.8 231.2,493.4 233.8,491.2C236.2,489.1 236.9,486.4 240.0,484.5C243.1,482.6 247.9,480.5 252.5,480.0C257.1,479.5 261.9,481.8 267.5,481.8C273.1,481.7 280.0,479.6 286.2,479.5C292.5,479.4 298.5,480.8 305.0,481.2C311.5,481.8 318.3,481.8 325.0,482.5C331.7,483.2 338.8,484.2 345.0,485.5C351.2,486.8 358.3,488.6 362.5,490.0C366.7,491.4 368.1,492.6 370.0,493.8C371.9,494.9 372.3,497.0 373.8,497.0C375.2,497.0 377.1,495.1 378.8,493.8C380.4,492.4 381.2,489.6 383.8,488.8C386.2,487.9 390.6,489.3 393.8,488.8C396.9,488.2 399.4,486.5 402.5,485.5C405.6,484.5 407.9,482.8 412.5,482.5C417.1,482.2 423.8,483.3 430.0,483.8C436.2,484.2 443.3,484.2 450.0,485.0C456.7,485.8 463.8,487.6 470.0,488.8C476.2,489.9 483.1,490.8 487.5,492.0C491.9,493.2 494.0,494.7 496.2,496.2C498.5,497.8 498.5,500.0 501.2,501.2C504.0,502.5 508.5,503.1 512.5,503.8C516.5,504.4 521.0,504.2 525.0,505.0C529.0,505.8 533.5,507.7 536.2,508.8C539.0,509.8 539.7,511.4 541.2,511.2C542.8,511.1 545.5,509.5 545.8,508.0C546.0,506.5 542.9,504.0 543.0,502.5C543.1,501.0 543.8,499.6 546.2,498.8C548.7,497.9 553.5,497.5 557.5,497.5C561.5,497.5 565.8,498.0 570.0,498.8C574.2,499.5 577.9,501.2 582.5,502.0C587.1,502.8 592.9,503.2 597.5,503.8C602.1,504.2 607.0,504.0 610.0,505.0C613.0,506.0 613.8,509.0 615.5,509.5C617.2,510.0 619.3,509.2 620.5,508.0C621.7,506.8 621.5,504.2 622.5,502.5C623.5,500.8 624.8,499.5 626.2,498.0C627.7,496.5 630.8,495.5 631.2,493.8C631.7,492.0 630.2,489.4 628.8,487.5C627.3,485.6 624.6,483.8 622.5,482.5C620.4,481.2 617.6,481.2 616.2,480.0C614.9,478.8 614.3,476.7 614.5,475.0C614.7,473.3 616.0,471.3 617.5,470.0C619.0,468.7 621.2,466.9 623.8,467.0C626.2,467.1 629.6,469.0 632.5,470.5C635.4,472.0 639.0,474.7 641.2,476.2C643.5,477.8 645.3,478.5 645.8,480.0C646.2,481.5 643.5,483.8 643.8,485.0C644.0,486.2 645.4,487.3 647.5,487.5C649.6,487.7 654.0,486.0 656.2,486.2C658.5,486.5 660.1,487.5 661.2,488.8C662.4,490.0 662.6,491.7 663.0,493.8C663.4,495.8 663.0,499.2 663.8,501.2C664.5,503.3 666.0,505.6 667.5,506.2C669.0,506.9 671.0,506.5 672.5,505.0C674.0,503.5 674.6,499.6 676.2,497.5C677.9,495.4 681.7,494.0 682.5,492.5C683.3,491.0 680.6,489.8 681.2,488.8C681.9,487.7 684.0,486.4 686.2,486.2C688.5,486.1 692.1,487.5 695.0,488.0C697.9,488.5 702.0,488.8 703.8,489.5C705.5,490.2 705.7,491.4 705.5,492.5C705.3,493.6 703.2,494.8 702.5,496.2C701.8,497.7 701.2,499.4 701.2,501.2C701.2,503.1 702.9,505.6 702.5,507.5C702.1,509.4 700.8,511.2 698.8,512.5C696.7,513.8 692.9,514.8 690.0,515.0C687.1,515.2 683.5,514.2 681.2,513.8C679.0,513.3 677.9,512.1 676.2,512.5C674.6,512.9 672.5,514.4 671.2,516.2C670.0,518.1 669.8,521.5 668.8,523.8C667.7,526.0 666.7,528.1 665.0,530.0C663.3,531.9 661.5,533.8 658.8,535.0C656.0,536.2 651.7,537.0 648.8,537.5C645.8,538.0 643.1,537.4 641.2,538.0C639.4,538.6 638.3,539.7 637.5,541.2C636.7,542.8 637.1,545.6 636.2,547.5C635.4,549.4 633.9,551.0 632.5,552.5C631.1,554.0 629.1,554.4 628.0,556.2C626.9,558.1 626.1,561.2 625.8,563.8C625.4,566.2 625.2,569.2 625.8,571.2C626.2,573.3 627.2,575.0 628.8,576.2C630.3,577.5 633.6,577.7 635.0,578.8C636.4,579.8 636.6,581.0 637.0,582.5C637.4,584.0 636.6,586.2 637.5,587.5C638.4,588.8 640.0,589.4 642.5,590.0C645.0,590.6 649.4,590.4 652.5,591.2C655.6,592.1 658.3,593.3 661.2,595.0C664.2,596.7 666.5,599.2 670.0,601.2C673.5,603.3 678.8,605.4 682.5,607.5C686.2,609.6 690.2,612.5 692.5,613.8C694.8,615.0 695.0,614.3 696.3,615.1C697.5,616.0 699.0,617.4 699.8,618.9C700.5,620.3 700.3,622.2 700.6,623.9C701.0,625.6 701.2,627.3 701.9,628.9C702.6,630.5 703.9,631.9 705.0,633.3C706.2,634.6 707.6,636.3 708.8,637.0C709.9,637.8 710.8,638.0 711.9,637.9C713.1,637.8 714.2,637.1 715.7,636.4C717.1,635.7 719.4,634.8 720.7,633.9C721.9,633.0 722.8,631.8 723.2,630.8C723.6,629.7 723.5,629.0 723.2,627.6C722.9,626.3 722.1,624.3 721.3,622.6C720.5,621.0 719.1,619.0 718.2,617.6C717.2,616.3 715.6,615.9 715.7,614.5C715.8,613.1 717.4,610.7 718.8,609.2C720.2,607.8 722.2,606.9 723.8,605.7C725.4,604.5 727.1,603.3 728.2,602.0C729.3,600.6 730.0,599.1 730.3,597.6C730.6,596.1 730.6,594.8 730.1,593.2C729.5,591.6 728.2,589.9 726.9,588.2C725.7,586.5 723.7,584.7 722.6,583.2C721.4,581.7 720.0,580.8 720.3,579.4C720.6,578.1 723.4,576.4 724.4,575.1C725.4,573.7 726.2,572.4 726.3,571.3C726.4,570.2 725.8,569.2 725.1,568.2C724.3,567.1 722.6,566.1 721.9,565.0C721.3,564.0 720.8,563.2 721.1,561.9C721.3,560.7 722.4,559.1 723.2,557.5C724.0,556.0 725.0,554.1 725.7,552.5C726.4,551.0 726.2,548.9 727.6,548.1C728.9,547.4 731.3,547.9 733.8,548.1C736.3,548.3 739.9,548.9 742.6,549.4C745.3,549.9 747.8,550.4 750.1,551.3C752.4,552.1 754.3,553.3 756.4,554.4C758.4,555.5 760.7,557.2 762.6,558.2C764.5,559.1 766.0,559.8 767.6,560.0C769.3,560.3 771.3,559.7 772.6,559.8C774.0,559.9 775.2,559.5 775.8,560.7C776.3,561.8 775.9,565.2 775.8,566.9C775.6,568.6 774.8,569.5 774.9,570.7C775.0,571.8 775.5,572.8 776.4,573.8C777.3,574.8 778.7,576.0 780.1,576.9C781.6,577.9 783.7,578.8 785.2,579.4C786.6,580.1 787.8,580.7 788.9,580.7C790.1,580.7 791.1,580.2 792.0,579.4C793.0,578.7 793.7,577.6 794.5,576.3C795.4,575.1 796.1,573.3 797.0,571.9C798.0,570.6 799.1,569.2 800.2,568.2C801.2,567.1 802.3,566.2 803.3,565.7C804.4,565.1 805.4,564.1 806.4,564.8C807.5,565.5 808.8,568.5 809.6,570.0C810.3,571.6 810.1,572.3 810.8,573.8C811.6,575.3 812.8,577.4 814.0,578.8C815.1,580.3 816.4,581.4 817.7,582.6C819.1,583.7 820.9,584.8 822.1,585.7C823.3,586.6 824.9,587.4 825.0,588.2C825.1,589.0 823.4,589.8 822.7,590.7C822.0,591.6 821.0,592.7 820.8,593.8C820.6,595.0 820.8,596.3 821.5,597.6C822.1,598.8 823.6,600.0 824.6,601.3C825.6,602.7 826.6,604.6 827.7,605.7C828.9,606.8 830.0,607.5 831.5,607.9C832.9,608.2 834.7,607.8 836.5,607.6C838.3,607.5 840.6,606.8 842.1,607.0C843.7,607.2 844.7,607.7 845.9,608.9C847.0,610.0 847.9,612.1 849.0,613.9C850.2,615.6 851.7,617.6 852.8,619.5C853.8,621.4 854.3,623.4 855.3,625.1C856.2,626.9 857.4,628.5 858.4,630.1C859.4,631.8 860.9,633.7 861.3,635.2C861.7,636.6 861.5,637.9 860.9,638.9C860.3,640.0 858.9,640.7 857.8,641.4C856.6,642.1 855.1,642.7 854.0,643.3C853.0,643.9 851.4,644.3 851.5,645.2C851.6,646.0 853.4,647.7 854.6,648.3C855.9,648.9 857.6,648.4 859.0,648.9C860.5,649.4 861.9,650.4 863.4,651.4C864.9,652.5 866.4,654.1 867.8,655.2C869.1,656.2 870.3,657.1 871.5,657.7C872.8,658.3 874.4,658.2 875.3,658.9C876.2,659.7 877.0,660.8 877.2,662.1C877.4,663.3 877.1,665.1 876.6,666.5C876.0,667.8 875.1,669.2 874.0,670.2C873.0,671.3 871.4,672.3 870.3,672.7C869.1,673.2 868.2,673.4 867.2,673.0C866.1,672.5 865.3,671.1 864.0,670.2C862.8,669.3 861.3,668.4 859.7,667.7C858.0,667.0 855.8,666.2 854.0,665.8C852.2,665.4 850.7,665.1 849.0,665.2C847.3,665.3 845.7,666.0 844.0,666.2C842.3,666.5 840.3,666.9 839.0,666.7C837.6,666.5 836.5,666.0 835.9,665.2C835.2,664.4 835.0,663.3 835.2,662.1C835.4,660.8 836.3,659.4 837.1,657.7C837.9,656.0 839.2,654.0 840.2,652.1C841.3,650.1 842.4,647.8 843.4,645.8C844.3,643.8 845.3,641.6 845.9,640.2C846.5,638.7 847.5,637.9 847.1,637.0C846.7,636.2 844.5,634.9 843.4,634.9C842.2,634.9 841.3,635.9 840.2,637.0C839.2,638.1 838.2,640.3 837.1,641.4C836.1,642.6 835.3,643.4 834.0,643.9C832.6,644.4 831.1,644.5 829.0,644.5C826.9,644.6 824.0,644.3 821.5,644.2C819.0,644.0 816.5,643.9 814.0,643.7C811.4,643.5 808.9,643.0 806.4,642.9C803.9,642.9 800.8,643.0 798.9,643.3C797.0,643.6 796.6,643.8 795.2,644.5C793.7,645.3 791.8,646.5 790.2,647.7C788.5,648.9 786.8,650.6 785.2,651.8C783.5,653.1 781.8,654.1 780.1,655.2C778.5,656.3 776.5,657.3 775.1,658.3C773.8,659.4 772.8,660.3 772.0,661.4C771.2,662.6 769.9,664.2 770.4,665.2C770.9,666.2 773.8,667.7 775.1,667.7C776.5,667.7 777.0,666.4 778.3,665.2C779.5,664.1 781.1,662.2 782.7,660.8C784.2,659.5 786.0,658.3 787.7,657.1C789.3,655.9 791.0,654.7 792.7,653.7C794.3,652.7 796.1,651.3 797.7,651.2C799.2,651.0 800.7,652.0 802.1,652.7C803.4,653.4 804.8,654.0 805.8,655.2C806.9,656.3 808.0,658.1 808.3,659.6C808.6,661.0 808.2,662.6 807.7,664.0C807.2,665.3 805.9,666.7 805.2,667.7C804.5,668.8 802.5,669.3 803.3,670.2C804.1,671.1 808.0,672.5 810.2,673.0C812.4,673.4 814.6,672.8 816.5,672.7C818.3,672.7 820.0,672.4 821.5,672.7C822.9,673.0 824.2,673.9 825.2,674.6C826.3,675.3 827.2,676.2 827.7,677.1C828.2,678.0 828.8,679.4 828.3,680.2C827.9,681.1 826.6,681.5 825.2,682.1C823.9,682.7 822.1,683.3 820.2,684.0C818.3,684.7 816.0,685.5 814.0,686.5C811.9,687.4 809.5,688.5 807.7,689.6C805.9,690.8 804.6,692.2 803.3,693.4C802.1,694.5 801.6,696.0 800.2,696.5C798.7,697.0 795.3,697.4 794.5,696.3C793.8,695.1 795.4,691.4 795.8,689.6C796.2,687.9 797.6,686.6 797.0,685.9C796.5,685.1 794.0,685.0 792.7,685.2C791.3,685.5 790.2,687.0 788.9,687.5C787.7,688.0 786.6,688.2 785.2,688.4C783.7,688.5 781.7,688.2 780.1,688.4C778.6,688.6 777.1,688.9 775.8,689.6C774.4,690.3 772.9,691.5 772.0,692.7C771.1,694.0 770.5,695.7 770.1,697.1C769.7,698.6 769.6,700.2 769.5,701.5C769.4,702.9 769.8,703.8 769.5,705.3C769.2,706.7 768.6,708.7 767.6,710.3C766.7,711.8 765.6,713.7 763.9,714.7C762.2,715.7 760.0,715.2 757.5,716.2C755.0,717.3 751.5,719.6 748.8,721.2C746.0,722.9 743.0,724.0 741.2,726.2C739.5,728.5 738.5,731.5 738.0,735.0C737.5,738.5 738.9,744.0 738.0,747.5C737.1,751.0 735.1,753.8 732.5,756.2C729.9,758.8 725.8,760.6 722.5,762.5C719.2,764.4 715.4,765.6 712.5,767.5C709.6,769.4 706.7,771.5 705.0,773.8C703.3,776.0 702.5,778.5 702.5,781.2C702.5,784.0 704.0,787.1 705.0,790.0C706.0,792.9 707.6,795.8 708.8,798.8C709.9,801.7 711.3,804.8 711.8,807.5C712.2,810.2 712.0,813.2 711.2,815.0C710.5,816.8 709.0,818.0 707.5,818.0C706.0,818.0 704.2,816.5 702.5,815.0C700.8,813.5 699.0,811.2 697.5,808.8C696.0,806.2 694.8,803.1 693.8,800.0C692.7,796.9 692.5,792.4 691.2,790.0C690.0,787.6 688.5,786.4 686.2,785.5C684.0,784.6 681.0,784.7 677.5,784.5C674.0,784.3 668.8,784.3 665.0,784.5C661.2,784.7 656.8,784.4 655.0,785.5C653.2,786.6 655.8,790.0 654.5,791.2C653.2,792.5 650.8,792.6 647.5,793.0C644.2,793.4 639.2,793.2 635.0,793.8C630.8,794.3 626.2,795.2 622.5,796.2C618.8,797.3 615.0,798.3 612.5,800.0C610.0,801.7 608.5,803.8 607.5,806.2C606.5,808.8 606.7,811.9 606.2,815.0C605.8,818.1 605.0,821.2 605.0,825.0C605.0,828.8 605.6,833.3 606.2,837.5C606.9,841.7 607.5,846.2 608.8,850.0C610.0,853.8 611.5,858.1 613.8,860.0C616.0,861.9 619.0,861.2 622.5,861.2C626.0,861.3 631.5,860.7 635.0,860.5C638.5,860.3 641.7,860.9 643.8,860.0C645.8,859.1 646.2,857.1 647.5,855.0C648.8,852.9 649.4,849.4 651.2,847.5C653.1,845.6 656.2,844.2 658.8,843.8C661.2,843.2 664.7,843.5 666.2,844.5C667.8,845.5 668.0,847.8 668.0,850.0C668.0,852.2 667.2,855.0 666.2,857.5C665.3,860.0 663.8,862.7 662.5,865.0C661.2,867.3 659.6,869.4 658.8,871.2C657.9,873.1 656.9,875.0 657.5,876.2C658.1,877.5 660.0,878.5 662.5,878.8C665.0,879.0 669.2,877.9 672.5,877.5C675.8,877.1 679.6,876.2 682.5,876.2C685.4,876.2 688.1,876.7 690.0,877.5C691.9,878.3 693.3,879.2 693.8,881.2C694.2,883.3 693.1,887.3 692.5,890.0C691.9,892.7 690.8,895.0 690.0,897.5C689.2,900.0 687.7,902.5 687.5,905.0C687.3,907.5 687.5,910.4 688.8,912.5C690.0,914.6 693.1,916.0 695.0,917.5C696.9,919.0 697.7,920.8 700.0,921.2C702.3,921.7 705.4,920.8 708.8,920.0C712.1,919.2 716.0,916.9 720.0,916.2C724.0,915.6 729.4,916.9 732.5,916.2C735.6,915.6 737.1,913.8 738.8,912.5C740.4,911.2 740.6,909.6 742.5,908.8C744.4,907.9 747.7,908.5 750.0,907.5C752.3,906.5 754.6,903.8 756.2,902.5C757.9,901.2 759.2,899.8 760.0,900.0C760.8,900.2 761.5,901.9 761.2,903.8C761.0,905.6 759.4,909.0 758.8,911.2C758.1,913.5 756.9,916.2 757.5,917.5C758.1,918.8 761.2,919.6 762.5,918.8C763.8,917.9 764.4,914.4 765.0,912.5C765.6,910.6 765.0,908.7 766.2,907.5C767.5,906.3 769.8,905.6 772.5,905.5C775.2,905.4 779.2,905.8 782.5,907.0C785.8,908.2 788.8,911.7 792.5,912.5C796.2,913.3 801.2,911.9 805.0,912.0C808.8,912.1 812.3,911.9 815.0,913.0C817.7,914.1 819.0,917.0 821.2,918.8C823.5,920.5 826.5,922.3 828.8,923.8C831.0,925.2 833.3,926.0 835.0,927.5C836.7,929.0 837.3,930.8 838.8,932.5C840.2,934.2 841.0,936.5 843.8,937.5C846.5,938.5 851.0,938.3 855.0,938.8C859.0,939.2 863.8,939.0 867.5,940.0C871.2,941.0 874.6,943.1 877.5,945.0C880.4,946.9 883.5,950.7 885.0,951.2C886.5,951.8 885.4,948.1 886.6,948.6C887.7,949.1 890.5,951.6 892.0,954.0C893.5,956.4 894.7,960.0 895.6,963.0C896.5,966.0 895.9,969.3 897.4,972.0C898.9,974.7 901.9,977.4 904.6,979.2C907.3,981.0 910.9,981.9 913.6,982.8C916.3,983.7 918.7,983.4 920.8,984.6C922.9,985.8 923.8,988.5 926.2,990.0C928.6,991.5 932.2,992.7 935.2,993.6C938.2,994.5 941.8,995.4 944.2,995.4C946.6,995.4 947.2,993.6 949.6,993.6C952.0,993.6 955.3,993.9 958.6,995.4C961.9,996.9 966.1,999.9 969.4,1002.6C972.7,1005.3 976.3,1008.9 978.4,1011.6C980.5,1014.3 981.7,1016.4 982.0,1018.8C982.3,1021.2 981.4,1023.0 980.2,1026.0C979.0,1029.0 976.6,1034.1 974.8,1036.8C973.0,1039.5 971.5,1039.2 969.4,1042.2C967.3,1045.2 964.1,1051.5 962.2,1054.8C960.2,1058.1 958.7,1059.3 957.7,1062.0C956.6,1064.7 956.2,1068.0 955.9,1071.0C955.6,1074.0 956.2,1077.1 955.9,1080.0C955.6,1082.8 955.1,1085.7 954.1,1088.1C953.0,1090.5 950.9,1092.7 949.6,1094.4C948.2,1096.0 947.2,1095.5 946.0,1098.0C944.8,1100.4 944.8,1105.8 942.4,1109.0C940.0,1112.2 935.2,1114.8 931.6,1117.1C928.0,1119.3 924.1,1120.5 920.8,1122.5C917.5,1124.4 914.5,1126.5 911.8,1128.8C909.1,1131.0 906.5,1133.6 904.6,1136.0C902.6,1138.4 901.0,1141.2 900.1,1143.2C899.2,1145.1 899.6,1146.2 899.2,1147.7C898.7,1149.2 898.4,1150.5 897.4,1152.2C896.3,1153.8 894.2,1155.8 892.9,1157.6C891.5,1159.4 890.5,1161.0 889.3,1163.0C888.1,1164.9 887.0,1167.5 885.7,1169.3C884.3,1171.1 882.7,1172.6 881.2,1173.8C879.7,1175.0 877.6,1175.3 876.7,1176.5C875.7,1177.7 875.9,1179.5 875.4,1181.0C875.0,1182.5 875.1,1184.0 874.0,1185.5C872.8,1187.0 870.2,1188.3 868.6,1190.0C866.9,1191.6 865.6,1194.1 864.1,1195.4C862.6,1196.7 861.5,1197.4 859.6,1197.6C857.6,1197.7 854.8,1197.1 852.4,1196.3C850.0,1195.5 847.6,1194.0 845.2,1192.7C842.8,1191.3 839.8,1189.1 838.0,1188.2C836.2,1187.3 834.4,1186.2 834.4,1187.3C834.4,1188.3 836.3,1192.2 838.0,1194.5C839.6,1196.7 843.1,1197.9 844.3,1200.8C845.5,1203.6 845.3,1208.3 845.2,1211.6C845.0,1214.9 844.9,1218.3 843.4,1220.6C841.9,1222.8 838.9,1224.2 836.2,1225.1C833.5,1226.0 830.2,1225.4 827.2,1226.0C824.2,1226.6 819.7,1227.3 818.2,1228.7C816.7,1230.0 818.6,1232.5 818.2,1234.1C817.7,1235.7 816.7,1237.2 815.5,1238.2C814.3,1239.2 812.5,1240.0 811.0,1240.0C809.5,1240.1 808.0,1239.0 806.5,1238.6C805.0,1238.2 803.2,1237.5 802.0,1237.7C800.8,1237.8 799.6,1238.1 799.3,1239.5C799.0,1240.8 799.6,1244.1 800.2,1245.8C800.8,1247.4 802.3,1248.0 802.9,1249.4C803.5,1250.7 803.8,1252.1 803.8,1253.9C803.8,1255.7 803.5,1258.4 802.9,1260.2C802.3,1262.0 801.5,1263.3 800.2,1264.7C798.8,1266.0 796.6,1267.2 794.8,1268.3C793.0,1269.3 790.7,1269.9 789.4,1271.0C788.0,1272.0 787.0,1273.2 786.7,1274.6C786.4,1275.9 787.0,1277.9 787.6,1279.1C788.2,1280.3 789.1,1281.2 790.3,1281.8C791.5,1282.4 793.8,1282.1 794.8,1282.7C795.8,1283.3 796.4,1284.0 796.2,1285.4C796.1,1286.7 794.9,1289.0 793.9,1290.8C792.9,1292.6 791.6,1294.5 790.3,1296.2C788.9,1297.8 787.4,1299.2 785.8,1300.7C784.1,1302.2 782.0,1303.8 780.4,1305.2C778.7,1306.5 777.0,1307.6 775.9,1308.8C774.7,1310.0 773.5,1311.0 773.5,1312.4C773.5,1313.7 775.0,1315.5 775.9,1316.9C776.7,1318.2 778.0,1319.1 778.6,1320.5C779.2,1321.8 779.0,1323.5 779.5,1325.0C779.9,1326.5 780.4,1328.1 781.3,1329.5C782.2,1330.8 783.2,1332.0 784.9,1333.1C786.5,1334.1 788.9,1335.1 791.2,1335.8C793.4,1336.5 796.6,1336.7 798.4,1337.2C800.2,1337.8 802.9,1338.2 802.0,1339.0C801.1,1339.8 795.5,1341.4 793.0,1342.1C790.4,1342.7 788.5,1343.1 786.7,1343.0C784.9,1342.8 784.4,1341.6 782.2,1341.2C779.9,1340.7 776.2,1340.3 773.2,1340.3C770.2,1340.3 766.7,1341.5 764.2,1341.2C761.6,1340.9 759.7,1339.7 757.9,1338.5C756.1,1337.3 754.4,1335.6 753.4,1334.0C752.3,1332.3 752.1,1331.0 751.6,1328.6C751.1,1326.2 750.8,1322.6 750.2,1319.6C749.6,1316.6 748.7,1313.6 748.0,1310.6C747.3,1307.6 746.6,1304.6 746.2,1301.6C745.7,1298.6 745.3,1295.3 745.3,1292.6C745.3,1289.9 745.7,1287.5 746.2,1285.4C746.6,1283.3 747.1,1281.8 748.0,1280.0C748.9,1278.2 750.9,1276.4 751.6,1274.6C752.3,1272.8 751.7,1271.3 752.0,1269.2C752.3,1267.1 752.9,1264.4 753.4,1262.0C753.9,1259.6 755.0,1256.7 755.2,1254.8C755.3,1252.8 755.2,1252.1 754.3,1250.3C753.4,1248.5 750.8,1245.9 749.8,1244.0C748.7,1242.0 748.0,1240.4 748.0,1238.6C748.0,1236.8 749.2,1235.0 749.8,1233.2C750.4,1231.4 751.2,1229.9 751.6,1227.8C752.0,1225.7 751.7,1223.6 752.0,1220.6C752.3,1217.6 752.7,1213.4 753.4,1209.8C754.1,1206.2 755.2,1202.3 756.1,1199.0C757.0,1195.7 758.0,1193.3 758.8,1190.0C759.6,1186.7 760.4,1182.5 761.0,1179.2C761.5,1175.9 762.0,1172.9 762.0,1170.2C762.0,1167.5 761.0,1165.4 761.0,1163.0C760.9,1160.6 761.0,1157.9 761.5,1155.8C762.0,1153.7 763.3,1152.5 764.2,1150.4C765.1,1148.3 766.3,1146.8 766.9,1143.2C767.5,1139.6 767.5,1133.6 767.8,1128.8C768.1,1124.0 768.4,1119.2 768.7,1114.4C769.0,1109.6 769.6,1103.5 769.6,1100.0C769.6,1096.5 769.6,1095.5 768.7,1093.5C767.8,1091.5 765.1,1090.3 764.2,1088.1C763.3,1085.8 763.9,1083.0 763.3,1080.0C762.7,1077.0 761.8,1073.2 760.6,1070.1C759.4,1066.9 757.9,1063.8 756.1,1061.1C754.3,1058.4 752.0,1056.0 749.8,1053.9C747.5,1051.8 745.0,1049.8 742.6,1048.5C740.2,1047.1 737.9,1046.5 735.4,1045.8C732.9,1045.0 729.8,1045.3 727.8,1044.0C725.9,1042.6 725.1,1040.1 723.7,1037.7C722.3,1035.3 720.7,1032.4 719.2,1029.6C717.7,1026.7 716.2,1023.1 714.7,1020.6C713.2,1018.0 711.7,1016.4 710.2,1014.3C708.7,1012.2 706.9,1009.8 705.7,1008.0C704.5,1006.2 703.1,1005.0 703.0,1003.5C702.8,1002.0 703.7,1000.0 704.8,999.0C705.8,997.9 708.1,997.9 709.3,997.2C710.5,996.4 711.7,995.5 712.0,994.5C712.3,993.4 712.0,991.9 711.1,990.9C710.2,989.8 707.8,989.4 706.6,988.2C705.4,987.0 704.2,985.2 703.9,983.7C703.6,982.2 703.9,980.8 704.8,979.2C705.7,977.5 707.8,975.4 709.3,973.8C710.8,972.1 712.3,970.8 713.8,969.3C715.3,967.8 717.4,966.4 718.3,964.8C719.2,963.1 718.3,961.2 719.2,959.4C720.1,957.6 722.3,955.6 723.7,954.0C725.0,952.3 726.5,951.1 727.3,949.5C728.0,947.8 727.6,945.9 728.2,944.1C728.8,942.3 730.7,940.3 730.9,938.7C731.0,937.0 729.8,935.7 729.1,934.2C728.3,932.7 727.0,931.2 726.4,929.7C725.8,928.2 726.4,926.4 725.5,925.2C724.6,924.0 722.9,922.9 721.0,922.5C719.0,922.0 716.0,922.0 713.8,922.5C711.5,922.9 709.3,924.4 707.5,925.2C705.7,925.9 705.2,927.4 703.0,927.0C700.7,926.5 697.0,924.0 694.0,922.5C691.0,921.0 687.7,919.5 685.0,918.0C682.2,916.5 679.6,915.9 677.5,913.8C675.4,911.6 674.2,907.7 672.5,905.0C670.8,902.3 670.0,899.4 667.5,897.5C665.0,895.6 661.2,894.8 657.5,893.8C653.8,892.7 648.8,892.5 645.0,891.2C641.2,890.0 637.9,888.1 635.0,886.2C632.1,884.4 631.0,881.2 627.5,880.0C624.0,878.8 618.3,879.6 613.8,878.8C609.2,877.9 606.5,877.7 600.0,875.0C593.5,872.3 583.3,867.5 575.0,862.5C566.7,857.5 555.6,848.6 550.0,845.0C544.4,841.4 543.8,841.9 541.5,840.8C539.1,839.7 537.7,838.9 535.8,838.3C534.0,837.7 532.0,838.2 530.2,837.0C528.4,835.9 526.9,833.7 525.2,831.4C523.5,829.1 521.9,826.0 520.2,823.3C518.5,820.5 516.9,817.7 515.2,815.1C513.5,812.5 511.7,810.3 510.2,807.6C508.6,804.9 507.3,801.1 505.8,798.8C504.3,796.6 502.8,795.7 501.4,793.8C500.1,792.0 498.8,789.9 497.7,787.6C496.5,785.3 495.5,782.5 494.5,780.1C493.6,777.7 493.0,775.4 492.0,773.2C491.1,771.0 490.3,768.6 488.9,766.9C487.5,765.2 485.8,764.1 483.9,763.2C482.0,762.2 479.4,762.1 477.6,761.3C475.9,760.4 474.5,759.8 473.2,758.2C472.0,756.5 471.3,753.5 470.1,751.3C469.0,749.1 467.7,746.9 466.4,745.0C465.0,743.1 463.7,742.7 462.0,740.0C460.3,737.3 458.0,732.9 456.2,728.8C454.5,724.6 452.7,719.8 451.2,715.0C449.8,710.2 448.8,705.0 447.5,700.0C446.2,695.0 445.0,689.2 443.8,685.0C442.5,680.8 441.5,678.8 440.0,675.0C438.5,671.2 436.7,666.2 435.0,662.5C433.3,658.8 431.8,656.2 430.0,652.5C428.2,648.8 425.8,643.0 424.5,640.0C423.2,637.0 423.6,636.5 422.0,634.2C420.4,632.0 417.8,630.5 415.0,626.5C412.2,622.5 408.2,615.2 405.0,610.0C401.8,604.8 398.0,598.7 395.8,595.2C393.5,591.8 392.9,591.3 391.2,589.5C389.6,587.7 387.9,585.6 386.0,584.2C384.1,582.9 382.8,582.1 379.8,581.5C376.7,580.9 370.9,581.4 367.5,580.5C364.1,579.6 362.2,577.2 359.2,576.0C356.3,574.8 353.6,573.6 350.0,573.0C346.4,572.4 341.7,572.8 337.5,572.5C333.3,572.2 328.3,572.1 325.0,571.2C321.7,570.4 320.0,568.8 317.5,567.5C315.0,566.2 312.3,564.6 310.0,563.8C307.7,562.9 305.4,562.3 303.8,562.5C302.1,562.7 301.2,563.8 300.0,565.0C298.8,566.2 298.3,568.0 296.2,569.5C294.2,571.0 290.2,572.4 287.5,573.8C284.8,575.1 281.8,577.1 280.0,577.5C278.2,577.9 277.0,577.5 277.0,576.2C277.0,575.0 279.4,571.7 280.0,570.0C280.6,568.3 280.9,566.9 280.5,566.2C280.1,565.6 278.8,565.4 277.5,566.2C276.2,567.1 273.8,569.6 272.5,571.2C271.2,572.9 269.5,574.8 269.5,576.2C269.5,577.7 272.5,578.8 272.5,580.0C272.5,581.2 271.6,582.3 269.5,583.8C267.4,585.2 263.2,586.9 260.0,588.8C256.8,590.6 253.8,592.7 250.0,595.0C246.2,597.3 242.1,600.2 237.5,602.5C232.9,604.8 227.5,606.9 222.5,608.8C217.5,610.6 211.2,613.1 207.5,613.8C203.8,614.4 199.2,613.8 200.0,612.5ZM1315.0,472.5C1315.8,472.3 1320.8,470.6 1325.0,470.0C1329.2,469.4 1335.4,469.0 1340.0,468.8C1344.6,468.5 1348.3,468.5 1352.5,468.8C1356.7,469.0 1361.2,469.2 1365.0,470.0C1368.8,470.8 1372.1,472.1 1375.0,473.8C1377.9,475.4 1379.2,478.3 1382.5,480.0C1385.8,481.7 1390.8,482.5 1395.0,483.8C1399.2,485.0 1403.3,486.2 1407.5,487.5C1411.7,488.8 1416.2,490.0 1420.0,491.2C1423.8,492.5 1427.5,493.9 1430.0,495.0C1432.5,496.1 1434.0,496.8 1435.0,498.0C1436.0,499.2 1436.9,500.7 1436.2,502.5C1435.6,504.3 1433.5,507.1 1431.2,508.8C1429.0,510.4 1425.6,512.1 1422.5,512.5C1419.4,512.9 1415.6,511.9 1412.5,511.2C1409.4,510.6 1406.2,509.0 1403.8,508.8C1401.2,508.5 1398.1,508.8 1397.5,510.0C1396.9,511.2 1399.4,514.0 1400.0,516.2C1400.6,518.5 1400.2,522.1 1401.2,523.8C1402.3,525.4 1404.0,526.2 1406.2,526.2C1408.5,526.2 1411.9,525.0 1415.0,523.8C1418.1,522.5 1421.7,520.4 1425.0,518.8C1428.3,517.1 1431.7,515.4 1435.0,513.8C1438.3,512.1 1441.7,510.2 1445.0,508.8C1448.3,507.3 1452.9,506.5 1455.0,505.0C1457.1,503.5 1457.6,501.5 1457.5,500.0C1457.4,498.5 1454.5,497.5 1454.5,496.2C1454.5,495.0 1456.0,493.3 1457.5,492.5C1459.0,491.7 1461.9,490.8 1463.8,491.2C1465.6,491.7 1467.7,493.5 1468.8,495.0C1469.8,496.5 1469.0,498.8 1470.0,500.0C1471.0,501.2 1473.3,502.3 1475.0,502.5C1476.7,502.7 1477.9,502.2 1480.0,501.2C1482.1,500.3 1485.0,498.5 1487.5,497.0C1490.0,495.5 1492.5,493.9 1495.0,492.5C1497.5,491.1 1500.0,489.8 1502.5,488.8C1505.0,487.7 1507.5,486.5 1510.0,486.2C1512.5,486.0 1515.4,486.4 1517.5,487.0C1519.6,487.6 1520.4,489.9 1522.5,490.0C1524.6,490.1 1527.1,488.4 1530.0,487.5C1532.9,486.6 1536.7,485.5 1540.0,484.5C1543.3,483.5 1547.7,481.4 1550.0,481.2C1552.3,481.1 1552.9,482.7 1553.8,483.8C1554.6,484.8 1553.5,486.8 1555.0,487.5C1556.5,488.2 1559.6,487.7 1562.5,488.0C1565.4,488.3 1568.8,489.0 1572.5,489.5C1576.2,490.0 1580.8,490.5 1585.0,491.2C1589.2,492.0 1594.5,493.3 1597.5,493.8C1600.5,494.2 1602.4,494.4 1603.0,493.8C1603.6,493.1 1602.4,491.7 1601.2,490.0C1600.1,488.3 1597.7,485.8 1596.2,483.8C1594.8,481.7 1592.9,479.6 1592.5,477.5C1592.1,475.4 1592.9,473.3 1593.8,471.2C1594.6,469.2 1596.2,467.1 1597.5,465.0C1598.8,462.9 1600.0,460.4 1601.2,458.8C1602.5,457.1 1603.1,456.0 1605.0,455.0C1606.9,454.0 1609.8,453.4 1612.5,453.0C1615.2,452.6 1619.5,452.0 1621.2,452.5C1623.0,453.0 1623.1,454.6 1623.2,456.2C1623.4,457.9 1622.1,460.2 1622.0,462.5C1621.9,464.8 1622.0,467.5 1622.5,470.0C1623.0,472.5 1624.2,475.0 1625.0,477.5C1625.8,480.0 1627.2,482.5 1627.5,485.0C1627.8,487.5 1627.6,490.0 1627.0,492.5C1626.4,495.0 1625.1,497.7 1623.8,500.0C1622.4,502.3 1620.6,504.5 1618.8,506.2C1616.9,508.0 1613.8,509.2 1612.5,510.5C1611.2,511.8 1610.4,513.1 1611.2,513.8C1612.1,514.4 1615.2,514.8 1617.5,514.5C1619.8,514.2 1622.7,513.2 1625.0,512.0C1627.3,510.8 1629.4,509.5 1631.2,507.5C1633.1,505.5 1635.2,502.5 1636.2,500.0C1637.3,497.5 1637.5,495.4 1637.5,492.5C1637.5,489.6 1636.9,485.8 1636.2,482.5C1635.6,479.2 1634.4,475.8 1633.8,472.5C1633.1,469.2 1632.5,465.8 1632.5,462.5C1632.5,459.2 1632.9,455.0 1633.8,452.5C1634.6,450.0 1636.2,447.9 1637.5,447.5C1638.8,447.1 1640.4,448.5 1641.2,450.0C1642.1,451.5 1641.7,454.6 1642.5,456.2C1643.3,457.9 1645.0,460.2 1646.2,460.0C1647.5,459.8 1648.3,456.7 1650.0,455.0C1651.7,453.3 1654.2,451.0 1656.2,450.0C1658.3,449.0 1660.6,448.3 1662.5,448.8C1664.4,449.2 1665.6,451.5 1667.5,452.5C1669.4,453.5 1671.7,454.7 1673.8,455.0C1675.8,455.3 1679.4,455.5 1680.0,454.5C1680.6,453.5 1678.3,450.5 1677.5,448.8C1676.7,447.0 1674.4,445.2 1675.0,443.8C1675.6,442.3 1678.8,441.0 1681.2,440.0C1683.8,439.0 1687.1,438.1 1690.0,437.5C1692.9,436.9 1695.8,437.3 1698.8,436.2C1701.7,435.2 1704.0,432.7 1707.5,431.2C1711.0,429.8 1715.8,428.8 1720.0,427.5C1724.2,426.2 1728.3,424.8 1732.5,423.8C1736.7,422.7 1740.8,422.2 1745.0,421.2C1749.2,420.3 1753.3,418.4 1757.5,418.0C1761.7,417.6 1766.2,418.4 1770.0,418.8C1773.8,419.1 1777.5,420.2 1780.0,420.0C1782.5,419.8 1783.5,418.7 1785.0,417.5C1786.5,416.3 1786.9,414.0 1788.8,413.0C1790.6,412.0 1794.0,412.2 1796.2,411.2C1798.5,410.3 1800.4,408.5 1802.5,407.5C1804.6,406.5 1806.0,405.5 1808.8,405.0C1811.5,404.5 1816.2,403.7 1818.8,404.5C1821.2,405.3 1821.9,408.2 1823.8,410.0C1825.6,411.8 1827.7,413.5 1830.0,415.0C1832.3,416.5 1834.6,417.6 1837.5,418.8C1840.4,419.9 1843.8,421.5 1847.5,422.0C1851.2,422.5 1856.5,422.2 1860.0,422.0C1863.5,421.8 1867.2,420.0 1868.8,420.5C1870.3,421.0 1870.1,423.6 1869.5,425.0C1868.9,426.4 1867.2,427.6 1865.0,428.8C1862.8,429.9 1859.0,430.9 1856.2,432.0C1853.5,433.1 1850.4,434.2 1848.8,435.5C1847.1,436.8 1846.0,439.2 1846.2,440.0C1846.5,440.8 1848.3,440.9 1850.0,440.5C1851.7,440.1 1854.4,437.6 1856.2,437.5C1858.1,437.4 1859.8,439.0 1861.2,440.0C1862.7,441.0 1862.7,442.9 1865.0,443.8C1867.3,444.6 1871.2,444.6 1875.0,445.0C1878.8,445.4 1883.3,445.6 1887.5,446.2C1891.7,446.9 1895.8,447.8 1900.0,448.8C1904.2,449.7 1909.0,451.2 1912.5,451.8C1916.0,452.3 1919.0,452.5 1921.2,452.0C1923.5,451.5 1925.0,450.0 1926.2,448.8C1927.5,447.5 1926.9,445.2 1928.8,444.5C1930.6,443.8 1934.2,444.2 1937.5,444.5C1940.8,444.8 1945.4,445.3 1948.8,446.2C1952.1,447.2 1955.4,448.5 1957.5,450.0C1959.6,451.5 1960.6,453.3 1961.2,455.0C1961.9,456.7 1960.4,458.4 1961.2,460.0C1962.1,461.6 1964.4,463.2 1966.2,464.5C1968.1,465.8 1970.7,467.0 1972.5,468.0C1974.3,469.0 1975.8,470.7 1977.0,470.5C1978.2,470.3 1978.9,468.2 1980.0,467.0C1981.1,465.8 1981.7,463.8 1983.8,463.0C1985.8,462.2 1989.0,462.0 1992.5,462.0C1996.0,462.0 2000.8,462.7 2005.0,463.0C2009.2,463.3 2014.2,464.0 2017.5,463.8C2020.8,463.5 2023.5,462.9 2025.0,461.2C2026.5,459.6 2025.2,456.0 2026.2,453.8C2027.3,451.5 2029.2,449.4 2031.2,447.5C2033.3,445.6 2036.5,442.9 2038.8,442.5C2041.0,442.1 2043.1,443.7 2045.0,445.0C2046.9,446.3 2048.3,448.8 2050.0,450.5C2051.7,452.2 2052.7,454.7 2055.0,455.5C2057.3,456.3 2060.6,455.7 2063.8,455.5C2066.9,455.3 2070.6,454.1 2073.8,454.2C2076.9,454.4 2080.0,454.9 2082.5,456.2C2085.0,457.6 2086.9,460.5 2088.8,462.5C2090.6,464.5 2091.0,467.1 2093.8,468.0C2096.5,468.9 2101.0,468.3 2105.0,468.0C2109.0,467.7 2113.5,466.5 2117.5,466.2C2121.5,466.0 2125.4,465.6 2128.8,466.2C2132.1,466.9 2134.8,468.1 2137.5,470.0C2140.2,471.9 2142.9,475.0 2145.0,477.5C2147.1,480.0 2148.3,484.0 2150.0,485.0C2151.7,486.0 2152.9,484.6 2155.0,483.8C2157.1,482.9 2159.2,480.7 2162.5,480.0C2165.8,479.3 2170.8,479.5 2175.0,479.5C2179.2,479.5 2183.8,479.5 2187.5,480.0C2191.2,480.5 2194.6,481.2 2197.5,482.5C2200.4,483.8 2202.9,486.8 2205.0,488.0C2207.1,489.2 2208.5,490.3 2210.0,490.0C2211.5,489.7 2213.2,487.9 2213.8,486.2C2214.3,484.6 2212.2,481.6 2213.1,480.1C2214.0,478.5 2216.6,477.3 2219.1,476.9C2221.6,476.4 2225.0,477.0 2228.1,477.3C2231.3,477.5 2234.8,478.0 2238.1,478.6C2241.5,479.1 2244.8,479.7 2248.2,480.6C2251.5,481.4 2254.8,482.4 2258.2,483.6C2261.5,484.7 2264.9,486.3 2268.2,487.6C2271.5,488.8 2274.9,489.8 2278.2,491.1C2281.5,492.3 2285.4,493.8 2288.2,495.1C2291.1,496.4 2293.1,498.1 2295.2,499.1C2297.4,500.1 2299.1,500.8 2301.2,501.3C2303.4,501.8 2305.9,501.7 2308.3,501.9C2310.6,502.1 2312.9,502.0 2315.3,502.6C2317.6,503.2 2320.3,504.5 2322.3,505.6C2324.3,506.7 2326.8,507.7 2327.3,509.1C2327.8,510.5 2326.4,513.0 2325.3,514.1C2324.1,515.2 2321.8,515.1 2320.3,515.6C2318.8,516.1 2317.2,516.4 2316.3,517.1C2315.3,517.9 2315.2,519.1 2314.8,520.1C2314.3,521.1 2314.5,522.2 2313.8,523.1C2313.0,524.1 2311.7,525.1 2310.3,525.6C2308.8,526.2 2306.9,526.5 2305.2,526.3C2303.6,526.2 2301.9,525.8 2300.2,524.9C2298.6,524.1 2296.7,522.3 2295.2,521.1C2293.7,519.9 2292.4,518.4 2291.2,517.6C2290.1,516.8 2289.6,516.4 2288.2,516.3C2286.9,516.2 2284.7,516.9 2283.2,516.9C2281.7,517.0 2280.3,517.1 2279.2,516.6C2278.1,516.2 2277.6,514.8 2276.7,514.1C2275.8,513.5 2274.7,512.2 2273.7,512.6C2272.7,513.0 2271.0,515.5 2270.7,516.6C2270.4,517.8 2271.9,518.7 2271.7,519.6C2271.4,520.5 2270.6,521.4 2269.2,522.1C2267.8,522.8 2265.1,523.4 2263.2,523.9C2261.3,524.4 2258.5,524.2 2257.7,525.1C2256.8,526.1 2257.5,528.3 2258.2,529.6C2258.8,531.0 2260.8,532.0 2261.7,533.1C2262.6,534.3 2263.4,535.5 2263.7,536.7C2263.9,537.8 2263.8,539.2 2263.2,540.2C2262.5,541.2 2261.2,542.3 2259.7,542.7C2258.2,543.0 2256.1,542.4 2254.2,542.4C2252.2,542.4 2250.2,542.3 2248.2,542.7C2246.2,543.0 2244.2,543.7 2242.1,544.7C2240.1,545.6 2238.3,547.1 2236.1,548.2C2234.0,549.3 2231.5,550.3 2229.1,551.2C2226.8,552.1 2224.1,552.8 2222.1,553.7C2220.1,554.5 2218.6,555.2 2217.1,556.2C2215.6,557.2 2214.4,558.8 2213.1,559.7C2211.8,560.6 2210.3,561.4 2209.1,561.7C2207.8,562.0 2206.8,561.8 2205.6,561.4C2204.4,561.0 2203.3,559.7 2202.1,559.2C2200.8,558.7 2199.6,558.2 2198.1,558.2C2196.6,558.2 2194.7,558.7 2193.1,559.2C2191.4,559.7 2189.9,560.7 2188.1,561.2C2186.2,561.7 2184.1,561.9 2182.1,562.4C2180.0,562.9 2178.0,563.3 2176.0,564.2C2174.0,565.1 2171.7,566.4 2170.0,567.7C2168.4,569.0 2166.9,570.6 2166.0,572.2C2165.1,573.8 2164.6,575.7 2164.5,577.2C2164.4,578.7 2165.0,579.3 2165.5,581.2C2166.0,583.2 2167.6,586.7 2167.5,588.8C2167.4,590.8 2166.2,592.6 2165.0,593.8C2163.8,594.9 2161.2,594.2 2160.0,595.5C2158.8,596.8 2158.0,599.2 2157.5,601.2C2157.0,603.2 2157.8,605.7 2157.0,607.5C2156.2,609.3 2153.9,610.1 2152.5,612.0C2151.1,613.9 2150.2,617.0 2148.8,618.8C2147.3,620.5 2145.4,620.8 2143.8,622.5C2142.1,624.2 2140.6,626.9 2138.8,628.8C2136.9,630.6 2134.4,632.7 2132.5,633.8C2130.6,634.8 2128.8,635.6 2127.5,635.0C2126.2,634.4 2125.5,632.1 2125.0,630.0C2124.5,627.9 2124.8,625.0 2124.5,622.5C2124.2,620.0 2123.5,617.9 2123.0,615.0C2122.5,612.1 2121.8,607.7 2121.2,605.0C2120.7,602.3 2120.0,600.8 2119.5,598.8C2119.0,596.7 2117.9,594.6 2118.0,592.5C2118.1,590.4 2118.8,588.1 2120.0,586.2C2121.2,584.4 2122.9,582.6 2125.0,581.2C2127.1,579.9 2130.0,579.5 2132.5,578.0C2135.0,576.5 2137.5,574.5 2140.0,572.5C2142.5,570.5 2145.2,568.1 2147.5,566.2C2149.8,564.4 2152.1,562.7 2153.8,561.2C2155.4,559.8 2158.1,558.0 2157.5,557.5C2156.9,557.0 2151.5,558.4 2150.0,558.0C2148.5,557.6 2148.7,556.1 2148.8,555.0C2148.8,553.9 2151.1,552.0 2150.5,551.2C2149.9,550.5 2147.2,550.6 2145.0,550.5C2142.8,550.4 2139.6,550.1 2137.5,550.5C2135.4,550.9 2134.4,551.6 2132.5,553.0C2130.6,554.4 2128.3,557.0 2126.2,558.8C2124.2,560.5 2121.9,562.6 2120.0,563.8C2118.1,564.9 2115.8,564.7 2115.0,565.5C2114.2,566.3 2115.3,567.7 2115.5,568.8C2115.7,569.8 2117.2,571.3 2116.2,572.0C2115.3,572.7 2112.3,572.5 2110.0,573.0C2107.7,573.5 2105.0,574.5 2102.5,575.0C2100.0,575.5 2096.9,576.5 2095.0,576.2C2093.1,576.0 2091.5,574.7 2091.2,573.8C2091.0,572.8 2093.8,571.5 2093.8,570.5C2093.8,569.5 2092.7,568.1 2091.2,567.5C2089.8,566.9 2086.7,566.4 2085.0,567.0C2083.3,567.6 2083.1,570.3 2081.2,571.2C2079.4,572.2 2076.5,572.6 2073.8,572.5C2071.0,572.4 2068.1,571.2 2065.0,570.5C2061.9,569.8 2058.3,568.4 2055.0,568.0C2051.7,567.6 2047.9,567.7 2045.0,568.2C2042.1,568.8 2039.8,569.5 2037.5,571.2C2035.2,573.0 2033.3,576.5 2031.2,578.8C2029.2,581.0 2027.5,582.8 2025.0,585.0C2022.5,587.2 2019.2,589.8 2016.2,592.0C2013.3,594.2 2010.0,596.2 2007.5,598.0C2005.0,599.8 2002.1,601.6 2001.2,603.0C2000.4,604.4 2001.0,605.2 2002.5,606.2C2004.0,607.3 2007.7,608.7 2010.0,609.5C2012.3,610.3 2013.8,611.2 2016.2,611.2C2018.8,611.3 2022.7,609.6 2025.0,610.0C2027.3,610.4 2028.8,611.7 2030.0,613.8C2031.2,615.8 2032.2,619.6 2032.5,622.5C2032.8,625.4 2032.5,628.8 2032.0,631.2C2031.5,633.8 2030.0,635.2 2029.5,637.5C2029.0,639.8 2029.3,642.1 2028.8,645.0C2028.2,647.9 2027.3,651.9 2026.2,655.0C2025.2,658.1 2024.2,660.8 2022.5,663.8C2020.8,666.7 2018.5,669.8 2016.2,672.5C2014.0,675.2 2006.5,685.8 2008.8,680.0C2011.0,674.2 2026.3,643.1 2029.6,637.5C2032.9,631.9 2029.1,643.1 2028.4,646.3C2027.6,649.4 2026.6,653.0 2025.2,656.3C2023.9,659.6 2022.3,663.2 2020.2,666.3C2018.1,669.4 2015.2,672.4 2012.7,675.1C2010.2,677.8 2007.7,680.1 2005.2,682.6C2002.7,685.1 2000.0,687.9 1997.7,690.1C1995.4,692.3 1993.3,694.5 1991.4,695.7C1989.6,697.0 1988.1,697.5 1986.4,697.6C1984.8,697.7 1983.1,696.9 1981.4,696.4C1979.7,695.8 1977.8,694.0 1976.4,694.1C1975.1,694.2 1974.3,695.7 1973.3,697.0C1972.2,698.3 1971.5,700.2 1970.1,702.0C1968.8,703.8 1967.0,705.9 1965.1,707.6C1963.3,709.4 1960.8,711.1 1958.9,712.6C1957.0,714.2 1955.1,715.8 1953.9,717.0C1952.7,718.3 1951.6,718.9 1951.6,720.1C1951.6,721.4 1952.7,723.1 1953.9,724.5C1955.1,726.0 1957.2,727.3 1958.9,728.9C1960.5,730.5 1962.7,732.2 1963.9,733.9C1965.1,735.6 1966.1,737.2 1966.1,738.9C1966.1,740.7 1965.1,742.9 1963.9,744.6C1962.7,746.2 1960.8,747.7 1958.9,748.9C1957.0,750.2 1954.5,751.3 1952.6,752.1C1950.7,752.8 1948.8,753.6 1947.6,753.3C1946.4,753.0 1945.6,752.0 1945.4,750.2C1945.1,748.4 1946.6,745.0 1946.4,742.7C1946.1,740.4 1944.9,738.7 1943.9,736.4C1942.8,734.1 1941.1,731.4 1940.1,728.9C1939.1,726.4 1938.6,723.2 1937.6,721.4C1936.6,719.6 1935.5,718.9 1933.8,718.3C1932.2,717.6 1929.5,718.1 1927.6,717.6C1925.7,717.2 1923.8,716.8 1922.6,715.8C1921.3,714.7 1921.4,711.9 1920.1,711.4C1918.7,710.9 1916.1,711.7 1914.4,712.6C1912.8,713.6 1911.6,715.7 1910.0,717.0C1908.5,718.4 1906.8,719.9 1905.0,720.8C1903.3,721.7 1900.9,721.7 1899.4,722.4C1897.9,723.1 1896.3,723.9 1896.0,725.2C1895.7,726.4 1896.7,728.6 1897.5,730.2C1898.4,731.7 1898.8,734.2 1901.3,734.5C1903.8,734.9 1908.8,732.1 1912.6,732.0C1916.3,731.9 1920.5,732.8 1923.8,733.9C1927.2,735.1 1930.7,737.3 1932.6,738.9C1934.5,740.6 1935.2,742.1 1935.1,743.9C1935.0,745.8 1932.7,747.9 1932.0,750.2C1931.2,752.5 1930.8,755.2 1930.7,757.7C1930.6,760.2 1931.0,762.9 1931.3,765.2C1931.6,767.5 1932.8,769.4 1932.6,771.5C1932.4,773.6 1931.5,775.7 1930.1,777.7C1928.6,779.8 1925.9,782.2 1923.8,784.0C1921.7,785.8 1918.9,786.5 1917.6,788.4C1916.2,790.3 1916.7,793.1 1915.7,795.3C1914.6,797.5 1912.8,799.8 1911.3,801.5C1909.8,803.3 1908.3,804.3 1906.9,805.9C1905.5,807.5 1904.1,809.3 1902.8,811.3C1901.4,813.2 1900.3,815.5 1899.0,817.5C1897.8,819.5 1896.7,821.5 1895.3,823.2C1893.8,824.8 1892.1,826.4 1890.2,827.5C1888.4,828.7 1886.1,829.4 1884.0,830.0C1881.9,830.7 1880.9,830.7 1877.7,831.3C1874.6,831.9 1869.4,832.8 1865.2,833.8C1861.0,834.8 1856.4,836.1 1852.7,837.6C1848.9,839.0 1845.6,841.1 1842.7,842.6C1839.7,844.0 1837.7,845.1 1835.2,846.3C1832.7,847.6 1829.7,848.8 1827.6,850.1C1825.6,851.3 1823.6,852.7 1822.6,853.8C1821.7,855.0 1821.4,855.5 1822.0,857.0C1822.6,858.4 1824.8,860.7 1826.4,862.6C1828.0,864.5 1829.5,865.7 1831.4,868.2C1833.3,870.7 1835.8,874.4 1837.7,877.6C1839.5,880.9 1841.5,884.3 1842.7,887.6C1843.8,891.0 1844.5,894.9 1844.5,897.7C1844.5,900.4 1843.8,901.8 1842.7,903.9C1841.5,906.0 1839.7,908.1 1837.7,910.2C1835.6,912.3 1832.7,915.3 1830.1,916.4C1827.6,917.6 1824.7,917.4 1822.6,917.1C1820.5,916.8 1819.7,916.1 1817.6,914.6C1815.5,913.0 1812.8,910.1 1810.1,907.7C1807.4,905.3 1803.6,902.2 1801.3,900.2C1799.1,898.1 1798.4,896.5 1796.3,895.2C1794.3,893.8 1790.5,891.8 1788.8,892.0C1787.2,892.2 1787.0,894.4 1786.3,896.4C1785.7,898.4 1785.0,901.2 1785.1,903.9C1785.2,906.6 1786.1,910.0 1787.0,912.7C1787.8,915.4 1788.7,917.7 1790.1,920.2C1791.4,922.7 1793.6,925.2 1795.1,927.7C1796.6,930.2 1797.6,932.9 1798.8,935.2C1800.1,937.5 1801.6,939.4 1802.6,941.5C1803.6,943.6 1804.4,945.7 1805.1,947.7C1805.8,949.8 1806.4,951.9 1807.0,954.0C1807.6,956.1 1808.7,958.7 1808.9,960.3C1809.1,961.8 1809.1,963.0 1808.2,963.4C1807.4,963.8 1805.4,963.4 1803.9,962.8C1802.3,962.1 1800.5,961.0 1798.8,959.6C1797.2,958.3 1795.3,956.4 1793.8,954.6C1792.4,952.9 1791.0,951.0 1790.1,949.0C1789.1,947.0 1788.8,944.8 1788.2,942.7C1787.6,940.6 1787.2,939.4 1786.3,936.5C1785.5,933.6 1784.2,929.2 1783.2,925.2C1782.2,921.2 1781.0,916.6 1780.1,912.7C1779.1,908.7 1778.2,904.3 1777.6,901.4C1776.9,898.5 1776.8,897.2 1776.3,895.2C1775.8,893.1 1775.4,891.0 1774.4,888.9C1773.5,886.8 1771.9,884.5 1770.7,882.6C1769.4,880.8 1768.1,879.0 1766.9,877.6C1765.8,876.3 1765.3,874.5 1763.8,874.5C1762.3,874.5 1759.8,877.1 1757.8,877.4C1755.9,877.7 1753.5,876.9 1752.2,876.2C1750.9,875.4 1750.4,874.1 1750.1,872.7C1749.7,871.2 1750.5,869.5 1750.3,867.6C1750.1,865.8 1749.7,863.3 1749.1,861.4C1748.4,859.5 1747.2,857.9 1746.6,856.4C1745.9,854.9 1745.0,853.4 1745.3,852.4C1745.6,851.3 1748.5,850.8 1748.4,850.1C1748.3,849.4 1746.0,849.2 1744.7,848.2C1743.3,847.3 1741.3,845.8 1740.3,844.5C1739.2,843.1 1739.0,841.6 1738.4,840.1C1737.8,838.6 1737.4,836.6 1736.5,835.7C1735.7,834.9 1734.3,834.7 1733.4,835.1C1732.5,835.5 1731.8,837.3 1730.9,838.2C1730.0,839.2 1729.3,840.2 1727.8,840.7C1726.2,841.2 1723.5,841.1 1721.5,841.1C1719.5,841.1 1717.4,840.5 1715.9,840.7C1714.3,841.0 1713.1,841.8 1712.1,842.6C1711.2,843.4 1710.9,844.4 1710.2,845.7C1709.6,847.1 1709.2,849.2 1708.4,850.7C1707.5,852.3 1706.6,853.8 1705.2,855.1C1703.9,856.4 1701.9,857.6 1700.2,858.6C1698.6,859.7 1696.8,860.4 1695.2,861.4C1693.7,862.4 1692.0,863.4 1690.8,864.5C1689.7,865.7 1689.0,866.9 1688.3,868.3C1687.7,869.6 1687.8,871.4 1687.1,872.7C1686.4,873.9 1685.3,874.9 1684.0,875.8C1682.6,876.6 1680.4,877.0 1678.9,877.7C1677.5,878.3 1676.1,878.5 1675.2,879.5C1674.2,880.6 1673.5,882.4 1673.3,883.9C1673.1,885.5 1673.7,887.3 1673.9,888.9C1674.1,890.6 1674.8,892.3 1674.6,893.9C1674.4,895.6 1673.3,897.3 1672.7,898.9C1672.1,900.6 1671.3,902.3 1670.8,904.0C1670.3,905.6 1670.3,907.4 1669.6,909.0C1668.8,910.5 1667.8,911.7 1666.4,913.3C1665.1,915.0 1663.0,917.2 1661.4,919.0C1659.8,920.7 1658.4,922.8 1657.0,924.0C1655.7,925.1 1654.4,925.9 1653.3,925.9C1652.1,925.9 1651.0,925.1 1650.1,924.0C1649.3,922.8 1648.9,920.9 1648.3,919.0C1647.6,917.1 1647.0,914.8 1646.4,912.7C1645.8,910.6 1645.5,908.3 1644.9,906.5C1644.3,904.6 1643.4,903.1 1642.6,901.4C1641.8,899.8 1640.9,898.1 1640.1,896.4C1639.3,894.8 1638.4,893.1 1637.9,891.4C1637.4,889.8 1637.4,888.3 1637.0,886.4C1636.6,884.5 1636.3,882.0 1635.7,880.2C1635.2,878.3 1634.6,876.8 1633.9,875.2C1633.1,873.5 1632.2,871.6 1631.4,870.1C1630.5,868.7 1629.2,867.6 1628.6,866.4C1628.0,865.1 1627.8,864.3 1627.6,862.6C1627.4,861.0 1627.3,858.5 1627.4,856.4C1627.4,854.3 1627.6,852.2 1627.9,850.1C1628.1,848.0 1629.5,845.2 1628.9,843.9C1628.2,842.5 1625.5,841.9 1623.9,842.0C1622.2,842.1 1620.5,843.9 1618.8,844.5C1617.2,845.1 1615.4,845.8 1613.8,845.7C1612.3,845.6 1610.7,844.8 1609.5,843.9C1608.2,842.9 1607.1,841.6 1606.3,840.1C1605.6,838.6 1605.4,836.6 1605.1,835.1C1604.8,833.6 1605.3,832.1 1604.4,831.3C1603.6,830.6 1601.3,831.3 1600.1,830.7C1598.8,830.1 1597.7,828.8 1596.9,827.6C1596.2,826.3 1596.3,824.5 1595.7,823.2C1595.1,821.9 1594.3,820.5 1593.2,819.8C1592.0,819.1 1590.6,818.8 1588.8,818.8C1587.0,818.9 1584.6,820.0 1582.5,820.1C1580.4,820.2 1578.4,819.4 1576.3,819.4C1574.2,819.4 1572.1,820.0 1570.0,820.1C1567.9,820.2 1565.6,820.5 1563.8,820.1C1561.9,819.6 1560.6,817.8 1558.8,817.5C1556.9,817.2 1554.8,817.8 1552.5,818.0C1550.2,818.2 1547.2,819.2 1545.0,818.8C1542.8,818.3 1541.2,817.0 1539.5,815.5C1537.8,814.0 1537.4,811.0 1535.0,810.0C1532.6,809.0 1528.3,809.6 1525.0,809.5C1521.7,809.4 1517.9,810.0 1515.0,809.5C1512.1,809.0 1509.6,807.8 1507.5,806.2C1505.4,804.7 1504.4,801.9 1502.5,800.0C1500.6,798.1 1497.9,796.9 1496.2,795.0C1494.6,793.1 1493.8,790.4 1492.5,788.8C1491.2,787.1 1490.0,785.4 1488.8,785.0C1487.5,784.6 1486.2,785.2 1485.0,786.2C1483.8,787.3 1481.2,789.2 1481.2,791.2C1481.2,793.3 1483.5,796.5 1485.0,798.8C1486.5,801.0 1487.9,803.3 1490.0,805.0C1492.1,806.7 1495.5,807.7 1497.5,808.8C1499.5,809.8 1501.2,809.6 1502.0,811.2C1502.8,812.9 1502.0,816.5 1502.5,818.8C1503.0,821.0 1503.3,823.7 1505.0,824.5C1506.7,825.3 1510.0,824.7 1512.5,823.8C1515.0,822.8 1517.9,820.4 1520.0,818.8C1522.1,817.1 1523.5,814.6 1525.0,813.8C1526.5,812.9 1527.7,812.9 1528.8,813.8C1529.8,814.6 1530.2,816.9 1531.2,818.8C1532.3,820.6 1533.1,823.5 1535.0,825.0C1536.9,826.5 1540.4,826.8 1542.5,828.0C1544.6,829.2 1546.2,830.7 1547.5,832.5C1548.8,834.3 1550.0,836.9 1550.0,838.8C1550.0,840.6 1548.8,842.1 1547.5,843.8C1546.2,845.4 1543.7,847.1 1542.0,848.8C1540.3,850.4 1538.9,851.9 1537.5,853.8C1536.1,855.6 1535.2,858.2 1533.8,860.0C1532.3,861.8 1531.0,863.2 1528.8,864.5C1526.5,865.8 1523.1,866.2 1520.0,867.5C1516.9,868.8 1513.3,870.6 1510.0,872.5C1506.7,874.4 1503.3,876.7 1500.0,878.8C1496.7,880.8 1493.3,883.1 1490.0,885.0C1486.7,886.9 1483.3,888.5 1480.0,890.0C1476.7,891.5 1473.3,892.7 1470.0,893.8C1466.7,894.8 1462.6,896.0 1460.0,896.2C1457.4,896.5 1455.7,896.0 1454.5,895.0C1453.3,894.0 1453.8,891.7 1453.0,890.0C1452.2,888.3 1450.8,886.7 1450.0,885.0C1449.2,883.3 1448.4,882.1 1448.0,880.0C1447.6,877.9 1447.8,875.0 1447.5,872.5C1447.2,870.0 1446.9,867.3 1446.2,865.0C1445.6,862.7 1445.0,860.6 1443.8,858.8C1442.5,856.9 1440.6,855.2 1438.8,853.8C1436.9,852.3 1434.2,851.5 1432.5,850.0C1430.8,848.5 1429.8,846.9 1428.8,845.0C1427.7,843.1 1427.0,841.0 1426.2,838.8C1425.5,836.5 1425.3,833.5 1424.5,831.2C1423.7,829.0 1422.8,826.9 1421.2,825.0C1419.7,823.1 1416.9,821.9 1415.0,820.0C1413.1,818.1 1411.7,816.0 1410.0,813.8C1408.3,811.5 1406.5,808.5 1405.0,806.2C1403.5,804.0 1402.1,802.7 1401.2,800.0C1400.4,797.3 1400.6,793.7 1400.1,790.2C1399.6,786.7 1398.5,782.1 1398.2,779.0C1397.9,775.8 1397.7,773.8 1398.2,771.5C1398.8,769.2 1400.4,767.3 1401.4,765.2C1402.3,763.1 1403.6,761.0 1403.9,758.9C1404.2,756.9 1403.2,755.0 1403.2,752.7C1403.2,750.4 1403.2,747.2 1403.9,745.2C1404.5,743.2 1407.6,741.4 1407.0,740.8C1406.4,740.2 1402.5,740.8 1400.1,741.4C1397.7,742.0 1395.1,744.2 1392.6,744.5C1390.1,744.9 1387.6,743.7 1385.1,743.3C1382.6,742.9 1380.5,742.6 1377.6,742.0C1374.7,741.5 1371.3,740.7 1367.6,740.2C1363.8,739.6 1358.6,739.5 1355.0,738.9C1351.5,738.3 1348.2,737.7 1346.3,736.4C1344.4,735.2 1344.4,733.3 1343.8,731.4C1343.1,729.5 1343.1,727.0 1342.5,725.1C1341.9,723.3 1341.2,720.6 1340.0,720.1C1338.8,719.7 1336.8,723.0 1335.4,722.6C1334.0,722.1 1332.5,717.1 1331.6,717.6C1330.8,718.0 1330.2,722.6 1330.4,725.1C1330.6,727.6 1332.7,730.1 1332.9,732.6C1333.1,735.1 1332.3,737.6 1331.6,740.1C1331.0,742.6 1330.0,745.1 1329.1,747.6C1328.3,750.1 1327.5,752.8 1326.6,755.1C1325.8,757.4 1325.2,760.5 1324.1,761.4C1323.1,762.2 1321.4,761.6 1320.4,760.1C1319.3,758.7 1318.9,755.5 1317.9,752.6C1316.8,749.7 1315.3,745.7 1314.1,742.6C1312.8,739.5 1311.6,736.6 1310.3,733.8C1309.1,731.1 1307.8,729.0 1306.6,726.3C1305.3,723.6 1303.9,720.5 1302.8,717.6C1301.8,714.6 1301.0,711.6 1300.3,708.8C1299.7,706.0 1300.5,702.3 1299.1,700.7C1297.6,699.0 1293.9,699.7 1291.6,698.8C1289.3,697.8 1287.2,696.5 1285.3,695.0C1283.4,693.6 1281.5,691.7 1280.3,690.0C1279.0,688.3 1279.2,686.7 1277.8,685.0C1276.3,683.3 1273.3,680.9 1271.5,680.0C1269.8,679.1 1268.7,678.3 1267.1,679.4C1265.6,680.4 1262.7,684.4 1262.1,686.3C1261.6,688.1 1262.9,689.4 1264.0,690.6C1265.2,691.9 1267.6,692.4 1269.0,693.8C1270.5,695.1 1271.5,697.2 1272.8,698.8C1274.0,700.3 1274.7,701.1 1276.5,703.2C1278.4,705.2 1281.3,708.9 1284.0,711.3C1286.8,713.7 1290.1,715.5 1292.8,717.6C1295.5,719.6 1298.2,721.7 1300.3,723.8C1302.4,725.9 1304.9,728.4 1305.3,730.1C1305.8,731.8 1304.1,733.4 1302.8,733.8C1301.6,734.3 1299.1,731.8 1297.8,732.6C1296.6,733.4 1295.3,736.8 1295.3,738.8C1295.3,740.9 1298.2,743.9 1297.8,745.1C1297.4,746.4 1294.5,747.8 1292.8,746.4C1291.1,744.9 1289.7,739.5 1287.8,736.3C1285.9,733.2 1283.6,730.3 1281.5,727.6C1279.5,724.9 1277.6,722.6 1275.3,720.1C1273.0,717.6 1270.1,714.8 1267.8,712.6C1265.5,710.3 1263.4,708.2 1261.5,706.3C1259.6,704.4 1257.9,703.0 1256.5,701.3C1255.1,699.6 1254.6,698.1 1253.4,696.3C1252.1,694.5 1250.3,692.1 1249.0,690.6C1247.6,689.2 1246.5,688.2 1245.2,687.8C1244.0,687.3 1243.1,687.3 1241.5,688.1C1239.8,688.9 1237.5,691.3 1235.2,692.5C1232.9,693.8 1230.2,695.2 1227.7,695.7C1225.2,696.1 1222.7,695.0 1220.2,695.0C1217.7,695.0 1214.6,695.0 1212.7,695.7C1210.8,696.3 1209.7,697.2 1208.9,698.8C1208.2,700.3 1208.5,703.0 1208.3,705.0C1208.1,707.1 1208.0,709.2 1207.7,711.3C1207.4,713.4 1207.7,714.8 1206.4,717.6C1205.2,720.3 1202.5,724.9 1200.2,727.6C1197.9,730.3 1195.2,732.2 1192.7,733.8C1190.1,735.5 1188.1,736.6 1185.1,737.6C1182.2,738.6 1178.5,739.4 1175.1,740.1C1171.8,740.8 1167.6,741.5 1165.1,742.0C1162.6,742.5 1161.6,742.9 1160.1,743.2C1158.6,743.5 1157.5,744.0 1156.3,743.9C1155.2,743.7 1154.3,743.3 1153.2,742.6C1152.2,741.9 1151.6,740.2 1150.1,739.5C1148.5,738.7 1145.9,738.5 1143.8,738.2C1141.7,737.9 1139.1,738.1 1137.6,737.6C1136.0,737.1 1135.1,736.3 1134.4,735.1C1133.8,733.8 1134.0,732.2 1133.8,730.1C1133.7,728.0 1133.3,724.9 1133.6,722.6C1133.8,720.3 1134.6,718.4 1135.1,716.3C1135.5,714.2 1136.2,712.1 1136.3,710.0C1136.4,708.0 1136.2,705.7 1135.7,703.8C1135.2,701.9 1133.5,700.3 1133.2,698.8C1132.9,697.2 1132.7,695.4 1133.8,694.4C1135.0,693.4 1137.4,692.9 1140.1,692.5C1142.8,692.1 1146.7,691.9 1150.1,691.9C1153.4,691.9 1156.8,692.2 1160.1,692.5C1163.4,692.8 1167.2,693.4 1170.1,693.8C1173.0,694.1 1175.7,694.9 1177.6,694.8C1179.5,694.7 1180.4,694.6 1181.4,693.1C1182.3,691.7 1182.8,688.6 1183.3,686.3C1183.7,683.9 1184.4,681.0 1183.9,678.9C1183.4,676.9 1181.6,675.4 1180.1,673.9C1178.7,672.5 1176.2,671.4 1175.1,670.2C1174.1,668.9 1175.1,667.7 1173.9,666.4C1172.6,665.2 1169.7,663.7 1167.6,662.7C1165.5,661.6 1162.5,661.2 1161.3,660.2C1160.2,659.1 1159.3,657.3 1160.7,656.4C1162.2,655.5 1166.9,655.1 1170.1,654.5C1173.3,654.0 1178.3,654.1 1180.1,653.3C1182.0,652.4 1180.3,650.5 1181.4,649.5C1182.4,648.6 1184.4,648.2 1186.4,647.6C1188.4,647.1 1191.2,647.4 1193.3,646.4C1195.4,645.3 1197.1,643.1 1198.9,641.4C1200.7,639.7 1202.0,638.3 1203.9,636.4C1205.8,634.5 1207.7,632.8 1210.2,630.1C1212.7,627.4 1216.2,622.8 1218.9,620.1C1221.7,617.4 1224.2,615.7 1226.5,613.8C1228.8,612.0 1230.8,610.7 1232.7,608.8C1234.6,607.0 1236.8,604.2 1237.7,602.6C1238.7,600.9 1238.2,600.5 1238.3,598.8C1238.5,597.1 1237.8,594.2 1238.3,592.6C1238.9,590.9 1239.9,589.9 1241.5,588.8C1243.0,587.6 1245.8,586.7 1247.7,585.7C1249.7,584.6 1252.3,582.3 1253.4,582.5C1254.4,582.8 1254.1,585.5 1254.0,587.3C1254.0,589.1 1253.6,591.5 1253.2,593.4C1252.7,595.3 1251.9,596.8 1251.4,598.7C1250.9,600.6 1250.1,603.0 1250.1,604.9C1250.1,606.8 1250.6,608.8 1251.4,610.2C1252.2,611.5 1253.0,612.1 1254.9,612.8C1256.8,613.5 1260.1,614.2 1262.8,614.6C1265.6,614.9 1268.7,615.0 1271.6,615.0C1274.6,615.0 1277.5,614.9 1280.5,614.6C1283.4,614.2 1286.3,613.5 1289.3,612.8C1292.2,612.2 1295.6,611.0 1298.1,610.6C1300.6,610.2 1302.6,611.1 1304.2,610.6C1305.8,610.2 1306.6,608.9 1307.8,608.0C1308.9,607.0 1309.8,605.8 1311.3,604.9C1312.7,603.9 1316.1,603.6 1316.6,602.2C1317.0,600.9 1314.1,598.4 1313.9,597.0C1313.7,595.5 1314.6,594.8 1315.2,593.4C1315.9,592.1 1317.1,590.6 1317.9,589.0C1318.7,587.4 1319.4,585.4 1320.1,583.7C1320.7,582.1 1321.1,580.4 1321.8,579.3C1322.6,578.3 1323.5,577.3 1324.5,577.6C1325.4,577.9 1327.1,579.8 1327.6,581.1C1328.0,582.4 1327.1,584.2 1327.1,585.5C1327.2,586.8 1326.8,588.4 1328.0,589.0C1329.2,589.6 1332.6,589.6 1334.2,589.0C1335.7,588.4 1336.6,586.8 1337.3,585.5C1337.9,584.2 1338.4,582.4 1338.1,581.1C1337.9,579.8 1336.6,578.8 1335.9,577.6C1335.2,576.4 1334.1,575.2 1334.0,574.1C1333.9,573.0 1334.0,571.7 1335.1,571.0C1336.1,570.2 1338.3,569.8 1340.3,569.7C1342.4,569.5 1345.0,570.0 1347.4,570.1C1349.7,570.2 1352.1,570.4 1354.4,570.1C1356.8,569.8 1359.3,569.0 1361.5,568.3C1363.7,567.7 1367.2,567.1 1367.6,566.1C1368.1,565.2 1366.9,563.4 1364.1,562.6C1361.3,561.8 1354.6,561.3 1350.9,561.3C1347.2,561.3 1345.0,561.8 1342.1,562.4C1339.2,563.1 1336.4,564.1 1333.3,565.1C1330.2,566.1 1325.4,568.7 1323.6,568.3C1321.8,567.9 1322.7,564.9 1322.7,562.7C1322.8,560.5 1322.7,558.1 1324.0,555.2C1325.2,552.2 1328.1,548.1 1330.2,545.2C1332.3,542.2 1334.8,539.9 1336.5,537.6C1338.2,535.3 1339.3,533.5 1340.2,531.4C1341.2,529.3 1343.6,526.2 1342.1,525.1C1340.7,524.1 1334.7,524.3 1331.5,525.1C1328.2,526.0 1325.4,528.5 1322.7,530.1C1320.0,531.8 1317.5,533.9 1315.2,535.1C1312.9,536.4 1311.0,536.8 1308.9,537.6C1306.9,538.5 1304.8,539.1 1302.7,540.1C1300.6,541.2 1297.9,542.4 1296.4,543.9C1295.0,545.4 1294.2,546.8 1293.9,548.9C1293.6,551.0 1293.9,554.1 1294.5,556.4C1295.2,558.7 1296.0,560.9 1297.7,562.7C1299.4,564.4 1303.9,565.6 1304.7,566.9C1305.5,568.2 1303.7,569.5 1302.5,570.5C1301.2,571.6 1298.7,572.4 1297.2,573.2C1295.6,574.0 1294.1,574.4 1293.2,575.4C1292.3,576.4 1292.0,577.8 1291.9,579.3C1291.8,580.9 1292.2,583.0 1292.3,584.6C1292.5,586.2 1293.1,587.9 1292.8,589.0C1292.4,590.2 1291.3,590.8 1290.1,591.7C1289.0,592.6 1287.2,593.3 1285.7,594.3C1284.3,595.3 1282.7,596.5 1281.3,597.8C1280.0,599.2 1279.1,600.9 1277.8,602.2C1276.5,603.6 1275.2,605.3 1273.4,605.8C1271.6,606.2 1268.6,606.1 1267.2,604.9C1265.9,603.7 1266.1,600.8 1265.5,598.7C1264.8,596.7 1264.0,594.3 1263.3,592.6C1262.5,590.8 1261.7,589.8 1261.1,588.2C1260.4,586.5 1259.7,584.6 1259.3,582.9C1259.0,581.1 1259.1,579.2 1258.9,577.6C1258.7,576.0 1258.6,574.4 1258.0,573.2C1257.4,572.0 1256.6,570.4 1255.4,570.5C1254.1,570.7 1252.1,572.8 1250.5,574.1C1249.0,575.3 1247.9,576.9 1246.1,578.0C1244.3,579.2 1242.1,580.4 1239.9,581.1C1237.7,581.8 1235.0,582.3 1232.9,582.4C1230.8,582.6 1229.1,582.6 1227.6,582.0C1226.1,581.3 1224.9,580.2 1224.1,578.5C1223.3,576.7 1223.1,574.4 1222.8,571.4C1222.5,568.5 1221.5,563.1 1222.3,560.9C1223.1,558.6 1225.4,559.5 1227.6,557.7C1229.7,555.9 1232.6,552.7 1235.1,550.2C1237.6,547.7 1240.1,544.9 1242.6,542.7C1245.1,540.4 1247.6,539.1 1250.1,536.4C1252.6,533.7 1255.5,529.1 1257.6,526.4C1259.7,523.7 1260.5,522.6 1262.6,520.1C1264.7,517.6 1267.6,514.3 1270.1,511.3C1272.6,508.4 1275.1,505.5 1277.6,502.6C1280.1,499.7 1282.7,496.5 1285.2,493.8C1287.7,491.1 1290.2,488.6 1292.7,486.3C1295.2,484.0 1297.3,482.1 1300.2,480.0C1303.1,478.0 1306.9,475.2 1310.2,473.8C1313.5,472.3 1319.4,471.5 1320.2,471.3C1321.0,471.1 1314.2,472.7 1315.0,472.5ZM1158.8,752.0C1160.9,751.7 1163.2,751.7 1165.1,752.0C1167.0,752.3 1168.0,753.8 1170.1,753.9C1172.2,754.0 1175.3,753.7 1177.6,752.6C1179.9,751.6 1181.8,749.1 1183.9,747.6C1186.0,746.1 1187.4,744.9 1190.1,743.9C1192.9,742.8 1196.8,741.9 1200.2,741.3C1203.5,740.8 1206.8,740.7 1210.2,740.7C1213.5,740.7 1216.9,741.5 1220.2,741.3C1223.5,741.2 1226.9,740.6 1230.2,740.1C1233.6,739.6 1236.9,738.5 1240.2,738.2C1243.6,737.9 1246.9,738.4 1250.2,738.2C1253.6,738.0 1257.3,737.3 1260.3,737.0C1263.2,736.7 1265.3,736.2 1267.8,736.3C1270.3,736.4 1273.0,736.8 1275.3,737.6C1277.6,738.4 1279.9,740.1 1281.5,741.3C1283.2,742.6 1284.9,743.2 1285.3,745.1C1285.7,747.0 1284.9,750.1 1284.0,752.6C1283.2,755.1 1281.8,757.8 1280.3,760.1C1278.8,762.4 1275.3,765.1 1275.3,766.4C1275.3,767.6 1278.2,766.6 1280.3,767.6C1282.4,768.7 1285.3,770.8 1287.8,772.7C1290.3,774.5 1292.8,777.5 1295.3,778.9C1297.8,780.4 1301.0,780.4 1302.8,781.4C1304.7,782.5 1305.3,785.0 1306.6,785.2C1307.8,785.4 1309.3,783.9 1310.3,782.7C1311.4,781.4 1312.2,779.5 1312.8,777.7C1313.5,775.8 1313.7,773.1 1314.1,771.4C1314.5,769.7 1313.9,768.1 1315.3,767.6C1316.8,767.2 1319.6,767.9 1322.5,768.8C1325.4,769.6 1328.8,771.2 1332.5,772.5C1336.2,773.8 1340.8,775.2 1345.0,776.2C1349.2,777.3 1352.9,778.9 1357.5,778.8C1362.1,778.6 1367.5,776.0 1372.5,775.5C1377.5,775.0 1383.5,775.2 1387.5,775.5C1391.5,775.8 1394.2,776.1 1396.2,777.5C1398.3,778.9 1399.2,781.7 1400.0,783.8C1400.8,785.8 1401.2,787.7 1401.2,790.0C1401.2,792.3 1400.8,796.0 1400.0,797.5C1399.2,799.0 1397.7,799.4 1396.2,798.8C1394.8,798.1 1392.9,794.9 1391.2,793.8C1389.6,792.6 1386.9,791.6 1386.2,792.0C1385.6,792.4 1386.2,794.3 1387.5,796.2C1388.8,798.2 1391.9,801.7 1393.8,803.8C1395.6,805.8 1397.5,806.7 1398.8,808.8C1400.0,810.8 1400.4,813.5 1401.2,816.2C1402.1,819.0 1403.0,822.3 1403.8,825.0C1404.5,827.7 1404.2,830.6 1405.5,832.5C1406.8,834.4 1409.8,834.6 1411.2,836.2C1412.8,837.9 1413.8,840.0 1414.5,842.5C1415.2,845.0 1415.0,848.5 1415.5,851.2C1416.0,854.0 1416.1,856.7 1417.5,858.8C1418.9,860.8 1422.2,861.9 1423.8,863.8C1425.3,865.6 1425.8,867.7 1427.0,870.0C1428.2,872.3 1429.1,875.0 1431.2,877.5C1433.4,880.0 1437.3,882.7 1440.0,885.0C1442.7,887.3 1445.6,888.8 1447.5,891.2C1449.4,893.8 1450.2,897.3 1451.2,900.0C1452.3,902.7 1452.5,905.8 1453.8,907.5C1455.0,909.2 1456.5,910.0 1458.8,910.0C1461.0,910.0 1464.0,908.3 1467.5,907.5C1471.0,906.7 1475.8,905.8 1480.0,905.0C1484.2,904.2 1489.0,903.0 1492.5,902.5C1496.0,902.0 1499.6,901.2 1501.2,902.0C1502.9,902.8 1502.9,905.1 1502.5,907.5C1502.1,909.9 1500.4,913.5 1498.8,916.2C1497.1,919.0 1494.4,921.2 1492.5,923.8C1490.6,926.2 1489.8,929.2 1487.5,931.2C1485.2,933.3 1481.5,934.0 1478.8,936.2C1476.0,938.5 1473.3,941.9 1471.2,945.0C1469.2,948.1 1467.5,951.7 1466.2,955.0C1465.0,958.3 1465.6,962.1 1463.8,965.0C1461.9,967.9 1458.1,969.7 1455.0,972.5C1451.9,975.3 1448.3,978.9 1445.0,982.0C1441.7,985.1 1437.5,988.2 1435.0,991.2C1432.5,994.2 1431.2,996.9 1430.0,1000.0C1428.8,1003.1 1428.4,1006.7 1428.0,1010.0C1427.6,1013.3 1427.2,1016.9 1427.5,1020.0C1427.8,1023.1 1428.8,1025.8 1430.0,1028.8C1431.2,1031.7 1433.3,1033.5 1434.5,1037.5C1435.7,1041.5 1436.5,1047.9 1437.0,1052.5C1437.5,1057.1 1437.8,1061.5 1437.5,1065.0C1437.2,1068.5 1436.8,1071.5 1435.5,1073.8C1434.2,1076.0 1432.2,1077.5 1430.0,1078.8C1427.8,1080.0 1424.6,1079.9 1422.5,1081.2C1420.4,1082.6 1419.6,1085.3 1417.5,1087.0C1415.4,1088.7 1412.7,1089.9 1410.0,1091.2C1407.3,1092.6 1403.1,1093.8 1401.2,1095.0C1399.4,1096.2 1398.5,1097.3 1398.8,1098.8C1399.0,1100.2 1401.2,1101.9 1402.5,1103.8C1403.8,1105.6 1405.2,1107.7 1406.2,1110.0C1407.3,1112.3 1408.2,1115.2 1408.8,1117.5C1409.2,1119.8 1409.7,1122.0 1409.2,1123.8C1408.8,1125.5 1407.8,1127.0 1406.2,1128.0C1404.7,1129.0 1402.4,1129.6 1400.0,1130.0C1397.6,1130.4 1394.1,1130.0 1392.0,1130.5C1389.9,1131.0 1388.5,1131.9 1387.5,1133.0C1386.5,1134.1 1385.8,1136.0 1386.2,1137.0C1386.8,1138.0 1389.5,1138.4 1390.5,1139.2C1391.5,1140.1 1392.7,1140.3 1392.0,1142.0C1391.3,1143.7 1388.7,1146.2 1386.2,1149.2C1383.8,1152.2 1380.4,1156.3 1377.5,1160.0C1374.6,1163.7 1371.5,1167.7 1368.8,1171.2C1366.0,1174.8 1363.8,1178.5 1361.2,1181.2C1358.8,1184.0 1356.5,1186.0 1353.8,1187.5C1351.0,1189.0 1348.1,1190.0 1345.0,1190.5C1341.9,1191.0 1338.5,1190.4 1335.0,1190.8C1331.5,1191.1 1327.1,1191.7 1323.8,1192.5C1320.4,1193.3 1317.4,1194.9 1315.0,1195.8C1312.6,1196.6 1311.2,1197.6 1309.5,1197.5C1307.8,1197.4 1306.4,1196.3 1305.0,1195.0C1303.6,1193.7 1302.4,1191.2 1301.2,1189.5C1300.1,1187.8 1298.5,1186.1 1298.0,1184.5C1297.5,1182.9 1297.5,1181.4 1298.0,1180.0C1298.5,1178.6 1300.6,1177.5 1300.8,1176.2C1300.9,1175.0 1299.8,1173.6 1298.8,1172.5C1297.7,1171.4 1295.3,1171.0 1294.5,1169.5C1293.7,1168.0 1294.3,1165.8 1293.8,1163.8C1293.2,1161.8 1292.5,1159.8 1291.2,1157.5C1290.0,1155.2 1287.9,1152.3 1286.2,1150.0C1284.6,1147.7 1282.6,1146.0 1281.2,1143.8C1279.9,1141.5 1278.6,1139.2 1278.0,1136.2C1277.4,1133.3 1277.4,1129.6 1277.5,1126.2C1277.6,1122.9 1279.0,1119.0 1278.8,1116.2C1278.5,1113.5 1277.4,1111.9 1276.2,1110.0C1275.1,1108.1 1273.0,1106.7 1272.0,1105.0C1271.0,1103.3 1271.3,1101.9 1270.5,1100.0C1269.7,1098.1 1268.4,1095.6 1267.0,1093.8C1265.6,1091.9 1263.1,1090.6 1262.0,1088.8C1260.9,1086.9 1260.6,1085.0 1260.5,1082.5C1260.4,1080.0 1260.8,1076.9 1261.2,1073.8C1261.7,1070.6 1262.2,1066.7 1263.0,1063.8C1263.8,1060.8 1264.9,1058.5 1266.2,1056.2C1267.6,1054.0 1269.9,1052.1 1271.2,1050.0C1272.6,1047.9 1274.6,1045.8 1274.5,1043.8C1274.4,1041.7 1271.0,1039.6 1270.5,1037.5C1270.0,1035.4 1271.3,1033.3 1271.2,1031.2C1271.2,1029.2 1270.7,1027.3 1270.0,1025.0C1269.3,1022.7 1267.8,1019.8 1267.0,1017.5C1266.2,1015.2 1266.2,1013.1 1265.5,1011.2C1264.8,1009.4 1263.8,1007.9 1262.5,1006.2C1261.2,1004.6 1259.0,1003.5 1257.5,1001.2C1256.0,999.0 1255.2,995.2 1253.8,992.5C1252.3,989.8 1250.6,987.3 1248.8,985.0C1246.9,982.7 1242.7,981.0 1242.5,978.8C1242.3,976.5 1246.5,974.4 1247.5,971.2C1248.5,968.1 1248.8,963.0 1248.8,960.0C1248.8,957.0 1248.5,954.8 1247.5,953.0C1246.5,951.2 1244.6,950.3 1242.5,949.5C1240.4,948.7 1237.9,948.4 1235.0,948.2C1232.1,948.1 1227.4,949.1 1225.0,948.8C1222.6,948.4 1221.5,947.5 1220.5,946.2C1219.5,945.0 1220.1,942.6 1218.8,941.2C1217.4,939.9 1215.2,938.8 1212.5,938.0C1209.8,937.2 1205.4,936.2 1202.5,936.2C1199.6,936.2 1197.3,937.0 1195.0,938.0C1192.7,939.0 1191.2,941.2 1188.8,942.5C1186.2,943.8 1183.5,944.9 1180.0,945.5C1176.5,946.1 1171.7,945.8 1167.5,946.2C1163.3,946.7 1159.2,947.5 1155.0,948.0C1150.8,948.5 1145.8,949.5 1142.5,949.5C1139.2,949.5 1136.7,948.8 1135.0,948.0C1133.3,947.2 1133.8,946.1 1132.5,945.0C1131.2,943.9 1129.6,942.6 1127.5,941.2C1125.4,939.9 1122.7,938.7 1120.0,937.0C1117.3,935.3 1113.3,933.2 1111.2,931.2C1109.2,929.2 1107.9,926.9 1107.5,925.0C1107.1,923.1 1109.4,921.7 1108.8,920.0C1108.1,918.3 1105.8,916.7 1103.8,915.0C1101.7,913.3 1098.5,911.9 1096.2,910.0C1094.0,908.1 1091.2,905.8 1090.0,903.8C1088.8,901.7 1089.6,899.8 1088.8,897.5C1087.9,895.2 1086.4,892.1 1085.0,890.0C1083.6,887.9 1080.5,886.8 1080.5,885.0C1080.5,883.2 1083.2,881.4 1085.0,879.5C1086.8,877.6 1089.9,875.5 1091.2,873.8C1092.6,872.0 1093.1,871.2 1093.0,868.8C1092.9,866.2 1091.2,861.9 1090.8,858.8C1090.2,855.6 1091.0,852.3 1090.0,850.0C1089.0,847.7 1085.3,846.7 1084.5,845.0C1083.7,843.3 1084.1,842.1 1085.0,840.0C1085.9,837.9 1088.1,835.6 1090.0,832.5C1091.9,829.4 1094.2,825.0 1096.2,821.2C1098.3,817.5 1100.6,813.3 1102.5,810.0C1104.4,806.7 1105.8,803.3 1107.5,801.2C1109.2,799.2 1110.6,797.9 1112.5,797.5C1114.4,797.1 1116.7,799.2 1118.8,798.8C1120.8,798.3 1122.9,796.7 1125.0,795.0C1127.1,793.3 1130.1,790.6 1131.2,788.8C1132.4,786.9 1132.4,785.2 1132.0,783.8C1131.6,782.3 1129.4,781.4 1128.8,780.2C1128.2,778.9 1128.0,778.1 1128.2,776.4C1128.4,774.7 1128.9,771.8 1130.0,770.1C1131.2,768.5 1133.2,767.4 1135.1,766.4C1136.9,765.3 1139.2,765.3 1141.3,763.9C1143.4,762.4 1145.7,759.3 1147.6,757.6C1149.5,756.0 1150.7,754.8 1152.6,753.9C1154.5,752.9 1156.8,752.3 1158.8,752.0ZM1487.5,1053.0C1488.6,1053.2 1489.7,1057.3 1491.2,1059.5C1492.8,1061.7 1496.6,1063.9 1497.0,1066.2C1497.4,1068.6 1494.8,1071.0 1493.8,1073.8C1492.7,1076.5 1491.3,1079.6 1490.5,1082.5C1489.7,1085.4 1489.9,1088.7 1488.8,1091.2C1487.6,1093.8 1484.9,1095.9 1483.8,1098.0C1482.6,1100.1 1482.2,1101.3 1482.0,1103.8C1481.8,1106.2 1482.8,1109.4 1482.5,1112.5C1482.2,1115.6 1481.8,1119.7 1480.5,1122.5C1479.2,1125.3 1477.1,1127.5 1475.0,1129.5C1472.9,1131.5 1470.1,1133.8 1468.0,1134.5C1465.9,1135.2 1464.3,1134.8 1462.5,1133.8C1460.7,1132.7 1458.5,1130.4 1457.0,1128.0C1455.5,1125.6 1454.7,1122.3 1453.8,1119.5C1452.8,1116.7 1451.2,1113.6 1451.2,1111.2C1451.2,1108.9 1452.3,1107.4 1453.8,1105.5C1455.2,1103.6 1458.9,1101.8 1460.0,1100.0C1461.1,1098.2 1460.9,1096.9 1460.5,1095.0C1460.1,1093.1 1458.3,1090.4 1457.5,1088.8C1456.7,1087.1 1455.4,1086.7 1455.5,1085.0C1455.6,1083.3 1456.8,1080.7 1458.0,1078.8C1459.2,1076.8 1460.6,1074.7 1463.0,1073.2C1465.4,1071.8 1469.7,1071.4 1472.5,1070.0C1475.3,1068.6 1478.0,1067.0 1480.0,1065.0C1482.0,1063.0 1483.2,1060.0 1484.5,1058.0C1485.8,1056.0 1486.4,1052.8 1487.5,1053.0ZM1160.1,576.3C1161.7,575.5 1163.5,575.3 1165.1,575.3C1166.7,575.2 1169.2,575.0 1169.5,576.0C1169.8,577.0 1167.8,580.0 1167.0,581.3C1166.1,582.6 1164.4,583.2 1164.5,583.8C1164.6,584.4 1166.0,584.9 1167.6,585.0C1169.2,585.2 1172.3,584.6 1173.9,584.8C1175.4,585.0 1176.6,585.5 1177.0,586.3C1177.4,587.1 1176.9,588.5 1176.4,589.4C1175.9,590.4 1174.2,590.8 1173.9,591.9C1173.6,593.1 1174.0,595.0 1174.5,596.3C1175.0,597.7 1176.1,598.8 1177.0,600.1C1177.9,601.3 1179.1,602.5 1180.1,603.8C1181.2,605.2 1182.0,606.8 1183.3,608.2C1184.5,609.6 1186.3,610.7 1187.6,612.0C1189.0,613.2 1190.6,614.4 1191.4,615.7C1192.2,617.1 1191.9,618.8 1192.7,620.1C1193.4,621.3 1194.5,622.6 1195.8,623.2C1197.0,623.9 1199.1,623.3 1200.2,623.9C1201.2,624.4 1202.0,625.3 1202.0,626.4C1202.0,627.4 1201.0,629.1 1200.2,630.1C1199.3,631.2 1197.7,631.6 1197.0,632.6C1196.4,633.7 1196.9,635.2 1196.4,636.4C1195.9,637.5 1195.4,638.7 1193.9,639.5C1192.4,640.3 1189.9,641.0 1187.6,641.4C1185.3,641.8 1182.6,641.8 1180.1,642.0C1177.6,642.2 1175.1,642.3 1172.6,642.6C1170.1,642.9 1167.4,643.4 1165.1,643.9C1162.8,644.4 1160.5,645.2 1158.8,645.8C1157.2,646.3 1155.6,647.6 1155.1,647.0C1154.6,646.4 1155.0,643.4 1155.7,642.0C1156.4,640.7 1158.4,639.9 1159.5,638.9C1160.5,637.8 1162.1,636.6 1162.0,635.7C1161.9,634.9 1158.9,635.1 1158.8,633.9C1158.7,632.6 1160.6,629.8 1161.3,628.2C1162.1,626.7 1163.1,625.6 1163.2,624.5C1163.3,623.3 1161.7,622.3 1162.0,621.3C1162.3,620.4 1163.9,619.6 1165.1,618.8C1166.4,618.1 1168.2,617.6 1169.5,617.0C1170.7,616.3 1172.6,615.9 1172.6,615.1C1172.6,614.3 1170.5,612.9 1169.5,612.0C1168.4,611.0 1167.5,609.9 1166.4,609.5C1165.2,609.0 1163.9,609.7 1162.6,609.5C1161.3,609.2 1159.8,608.9 1158.8,608.2C1157.9,607.5 1157.4,606.2 1157.0,605.1C1156.6,603.9 1157.0,602.5 1156.3,601.3C1155.7,600.2 1153.9,599.4 1153.2,598.2C1152.5,596.9 1152.1,595.4 1152.0,593.8C1151.9,592.2 1152.4,590.5 1152.6,588.8C1152.8,587.1 1152.7,585.2 1153.2,583.8C1153.7,582.3 1154.6,581.3 1155.7,580.0C1156.9,578.8 1158.5,577.1 1160.1,576.3ZM1127.5,616.3C1128.2,615.4 1129.3,614.5 1130.7,613.8C1132.0,613.2 1134.5,613.4 1135.7,612.6C1136.8,611.8 1136.6,609.9 1137.6,608.8C1138.5,607.7 1139.9,606.7 1141.3,606.1C1142.8,605.5 1144.9,605.2 1146.3,605.3C1147.8,605.5 1149.0,606.2 1150.1,607.0C1151.1,607.7 1152.5,608.9 1152.6,610.1C1152.7,611.2 1151.5,612.8 1150.7,613.8C1149.9,614.9 1148.2,615.4 1147.6,616.3C1147.0,617.3 1146.8,618.2 1147.0,619.5C1147.1,620.7 1148.1,622.5 1148.2,623.9C1148.3,625.2 1148.2,626.4 1147.6,627.6C1147.0,628.9 1145.8,630.3 1144.4,631.4C1143.1,632.4 1141.2,633.1 1139.4,633.9C1137.7,634.6 1135.6,635.2 1133.8,635.7C1132.0,636.3 1130.2,637.3 1128.8,637.0C1127.4,636.7 1126.5,634.8 1125.7,633.9C1124.8,632.9 1123.6,632.1 1123.8,631.4C1124.0,630.6 1125.8,630.1 1126.9,629.5C1128.1,628.9 1129.9,628.4 1130.7,627.6C1131.4,626.8 1131.7,625.3 1131.3,624.5C1130.9,623.6 1128.9,623.4 1128.2,622.6C1127.4,621.8 1127.0,620.5 1126.9,619.5C1126.8,618.4 1126.9,617.3 1127.5,616.3ZM1254.7,603.1C1254.7,602.1 1255.4,600.5 1256.2,599.6C1257.1,598.7 1258.5,597.8 1259.8,597.7C1261.0,597.5 1262.6,597.9 1263.7,598.5C1264.8,599.2 1265.3,600.5 1266.4,601.4C1267.4,602.2 1269.0,602.8 1269.9,603.6C1270.8,604.3 1272.1,605.2 1271.6,605.8C1271.2,606.4 1269.0,606.9 1267.2,607.1C1265.5,607.2 1262.8,606.9 1261.1,606.6C1259.3,606.4 1257.7,606.4 1256.7,605.8C1255.6,605.2 1254.8,604.2 1254.7,603.1ZM1297.2,587.3C1297.2,586.5 1297.9,585.1 1298.9,584.2C1300.0,583.2 1302.0,582.2 1303.4,581.5C1304.7,580.9 1306.5,580.0 1307.3,580.1C1308.1,580.1 1308.3,581.1 1308.2,582.0C1308.1,582.9 1307.7,584.4 1306.9,585.5C1306.1,586.6 1304.7,588.0 1303.4,588.6C1302.0,589.2 1300.0,589.3 1298.9,589.0C1297.9,588.8 1297.2,588.1 1297.2,587.3ZM1207.9,720.7C1208.2,719.9 1209.4,718.9 1210.2,718.8C1211.0,718.7 1212.2,719.4 1212.7,720.1C1213.2,720.7 1213.5,721.8 1213.3,722.6C1213.1,723.3 1212.2,724.2 1211.4,724.4C1210.7,724.7 1209.3,724.4 1208.7,723.8C1208.1,723.2 1207.7,721.5 1207.9,720.7ZM1281.5,750.7C1282.8,749.7 1287.8,748.5 1290.3,748.2C1292.8,748.0 1295.8,748.0 1296.6,749.1C1297.3,750.3 1296.2,754.0 1294.7,755.1C1293.2,756.3 1289.8,756.2 1287.8,756.1C1285.8,756.0 1283.8,755.4 1282.8,754.5C1281.8,753.6 1280.3,751.8 1281.5,750.7ZM1383.2,755.2C1383.2,754.4 1383.9,752.9 1385.1,752.1C1386.2,751.2 1388.2,750.7 1390.1,750.2C1392.0,749.7 1394.6,749.2 1396.4,748.9C1398.1,748.7 1400.2,748.3 1400.7,748.7C1401.3,749.1 1400.4,750.6 1399.5,751.4C1398.5,752.3 1396.7,753.1 1395.1,753.9C1393.5,754.7 1391.8,755.7 1390.1,756.2C1388.4,756.7 1386.2,757.2 1385.1,757.1C1383.9,756.9 1383.2,756.0 1383.2,755.2ZM1258.0,377.5C1258.5,375.6 1260.1,372.5 1261.2,370.0C1262.4,367.5 1263.5,364.2 1265.0,362.5C1266.5,360.8 1267.9,360.0 1270.0,360.0C1272.1,360.0 1274.8,361.8 1277.5,362.5C1280.2,363.2 1283.8,364.8 1286.2,364.5C1288.8,364.2 1290.2,361.7 1292.5,360.5C1294.8,359.3 1297.1,357.9 1300.0,357.5C1302.9,357.1 1306.7,357.4 1310.0,358.0C1313.3,358.6 1317.1,359.9 1320.0,361.2C1322.9,362.6 1326.5,364.8 1327.5,366.2C1328.5,367.7 1327.5,368.5 1326.2,370.0C1325.0,371.5 1322.1,373.1 1320.0,375.0C1317.9,376.9 1315.6,380.4 1313.8,381.2C1311.9,382.1 1310.2,380.8 1308.8,380.0C1307.3,379.2 1306.1,376.5 1305.0,376.2C1303.9,376.0 1302.2,377.5 1302.0,378.8C1301.8,380.0 1302.6,381.5 1303.8,383.8C1304.9,386.0 1307.1,389.6 1308.8,392.5C1310.4,395.4 1312.5,398.8 1313.8,401.2C1315.0,403.8 1316.2,405.7 1316.2,407.5C1316.2,409.3 1315.2,411.1 1313.8,412.0C1312.3,412.9 1309.6,413.2 1307.5,413.0C1305.4,412.8 1302.6,412.0 1301.2,410.5C1299.9,409.0 1299.7,405.9 1299.5,403.8C1299.3,401.6 1300.5,398.6 1300.0,397.5C1299.5,396.4 1297.7,396.2 1296.2,397.0C1294.8,397.8 1292.7,400.3 1291.2,402.5C1289.8,404.7 1288.5,407.3 1287.5,410.0C1286.5,412.7 1285.9,416.3 1285.0,418.8C1284.1,421.2 1283.2,424.1 1282.0,424.5C1280.8,424.9 1278.9,422.8 1277.5,421.2C1276.1,419.7 1275.0,417.1 1273.8,415.0C1272.5,412.9 1270.7,411.0 1270.0,408.8C1269.3,406.5 1269.5,403.6 1269.5,401.2C1269.5,398.9 1270.7,396.4 1270.0,394.5C1269.3,392.6 1267.2,391.4 1265.5,390.0C1263.8,388.6 1261.2,387.7 1260.0,386.2C1258.8,384.8 1258.3,382.7 1258.0,381.2C1257.7,379.8 1257.5,379.4 1258.0,377.5ZM1441.2,366.2C1441.2,365.0 1446.9,363.2 1450.0,362.0C1453.1,360.8 1456.7,359.2 1460.0,358.8C1463.3,358.3 1466.7,358.8 1470.0,359.5C1473.3,360.2 1476.9,362.7 1480.0,363.0C1483.1,363.3 1486.0,362.4 1488.8,361.2C1491.5,360.1 1494.6,356.5 1496.2,356.2C1497.9,356.0 1498.4,358.1 1498.8,360.0C1499.1,361.9 1499.1,365.6 1498.2,367.5C1497.4,369.4 1495.8,370.2 1493.8,371.2C1491.8,372.3 1488.8,372.8 1486.2,373.8C1483.8,374.7 1480.8,376.6 1478.8,377.0C1476.7,377.4 1474.8,377.2 1473.8,376.2C1472.7,375.3 1473.5,372.5 1472.5,371.2C1471.5,370.0 1469.6,368.9 1467.5,368.8C1465.4,368.6 1462.9,370.4 1460.0,370.5C1457.1,370.6 1453.1,370.2 1450.0,369.5C1446.9,368.8 1441.2,367.5 1441.2,366.2ZM1513.8,358.8C1513.8,357.4 1515.6,355.0 1517.5,353.8C1519.4,352.5 1522.5,352.5 1525.0,351.2C1527.5,350.0 1530.0,347.6 1532.5,346.2C1535.0,344.9 1538.0,343.1 1540.0,343.0C1542.0,342.9 1544.1,344.3 1544.5,345.5C1544.9,346.7 1543.9,348.6 1542.5,350.0C1541.1,351.4 1538.1,352.5 1536.2,353.8C1534.4,355.0 1532.5,355.8 1531.2,357.5C1530.0,359.2 1529.0,361.5 1528.8,363.8C1528.5,366.0 1529.7,369.2 1530.0,371.2C1530.3,373.3 1531.0,375.2 1530.5,376.2C1530.0,377.3 1528.1,378.1 1527.0,377.5C1525.9,376.9 1524.5,374.6 1523.8,372.5C1523.0,370.4 1523.5,366.8 1522.5,365.0C1521.5,363.2 1519.0,363.0 1517.5,362.0C1516.0,361.0 1513.8,360.1 1513.8,358.8ZM1548.8,367.5C1548.7,366.2 1551.2,364.6 1552.5,362.5C1553.8,360.4 1554.8,357.1 1556.2,355.0C1557.7,352.9 1559.8,350.6 1561.2,350.0C1562.7,349.4 1564.5,349.8 1565.0,351.2C1565.5,352.7 1564.5,356.5 1564.5,358.8C1564.5,361.0 1565.1,363.2 1565.0,365.0C1564.9,366.8 1564.8,368.5 1563.8,369.5C1562.7,370.5 1560.5,371.1 1558.8,371.2C1557.0,371.4 1554.7,371.1 1553.0,370.5C1551.3,369.9 1548.8,368.8 1548.8,367.5ZM1568.8,352.5C1568.8,350.0 1570.0,346.8 1571.2,345.0C1572.5,343.2 1574.6,342.4 1576.2,342.0C1577.9,341.6 1580.2,341.2 1581.2,342.5C1582.3,343.8 1582.4,347.5 1582.5,350.0C1582.6,352.5 1583.0,355.8 1582.0,357.5C1581.0,359.2 1578.0,360.1 1576.2,360.5C1574.5,360.9 1572.5,361.3 1571.2,360.0C1570.0,358.7 1568.8,355.0 1568.8,352.5ZM1505.0,373.0C1505.6,372.2 1507.5,370.8 1508.8,370.8C1510.0,370.8 1512.0,372.0 1512.5,373.0C1513.0,374.0 1512.8,376.0 1512.0,376.8C1511.2,377.5 1509.1,377.7 1508.0,377.5C1506.9,377.3 1505.8,376.5 1505.2,375.8C1504.8,375.0 1504.4,373.8 1505.0,373.0ZM1491.2,379.2C1491.6,378.4 1493.8,377.5 1495.0,377.5C1496.2,377.5 1498.3,378.7 1498.8,379.5C1499.2,380.3 1498.5,382.0 1497.5,382.5C1496.5,383.0 1494.0,383.0 1493.0,382.5C1492.0,382.0 1490.9,380.1 1491.2,379.2ZM1535.0,370.0C1535.1,368.5 1537.3,366.8 1538.8,366.2C1540.2,365.8 1542.5,366.2 1543.8,367.0C1545.0,367.8 1546.2,369.8 1546.2,371.2C1546.2,372.7 1545.1,374.9 1543.8,375.5C1542.4,376.1 1539.5,375.9 1538.0,375.0C1536.5,374.1 1534.9,371.5 1535.0,370.0ZM1545.0,378.8C1545.4,377.9 1548.0,376.9 1549.5,377.0C1551.0,377.1 1553.5,378.6 1553.8,379.5C1554.0,380.4 1552.4,382.1 1551.2,382.5C1550.1,382.9 1548.0,382.6 1547.0,382.0C1546.0,381.4 1544.6,379.6 1545.0,378.8ZM1500.0,457.5C1501.7,455.8 1507.1,453.5 1510.0,451.2C1512.9,449.0 1515.4,446.2 1517.5,443.8C1519.6,441.2 1520.8,438.8 1522.5,436.2C1524.2,433.8 1525.0,430.8 1527.5,428.8C1530.0,426.7 1533.8,425.3 1537.5,423.8C1541.2,422.2 1545.4,420.8 1550.0,419.5C1554.6,418.2 1560.4,417.0 1565.0,416.2C1569.6,415.5 1573.8,415.4 1577.5,415.0C1581.2,414.6 1585.2,414.8 1587.5,413.8C1589.8,412.7 1589.6,409.9 1591.2,408.8C1592.9,407.6 1595.4,406.9 1597.5,407.0C1599.6,407.1 1602.7,408.2 1603.8,409.5C1604.8,410.8 1604.6,413.3 1603.8,415.0C1602.9,416.7 1601.0,418.5 1598.8,419.5C1596.5,420.5 1593.1,420.7 1590.0,421.2C1586.9,421.8 1583.3,422.2 1580.0,423.0C1576.7,423.8 1573.3,425.1 1570.0,426.2C1566.7,427.4 1563.3,428.5 1560.0,430.0C1556.7,431.5 1553.1,433.1 1550.0,435.0C1546.9,436.9 1544.2,439.2 1541.2,441.2C1538.3,443.3 1535.0,445.4 1532.5,447.5C1530.0,449.6 1527.9,451.7 1526.2,453.8C1524.6,455.8 1522.7,458.1 1522.5,460.0C1522.3,461.9 1523.3,463.5 1525.0,465.0C1526.7,466.5 1530.4,467.7 1532.5,468.8C1534.6,469.8 1537.1,470.5 1537.5,471.2C1537.9,472.0 1537.1,472.9 1535.0,473.0C1532.9,473.1 1528.3,472.7 1525.0,472.0C1521.7,471.3 1518.1,469.9 1515.0,468.8C1511.9,467.6 1508.8,466.2 1506.2,465.0C1503.8,463.8 1501.0,462.5 1500.0,461.2C1499.0,460.0 1498.3,459.2 1500.0,457.5ZM1480.0,485.5C1481.0,484.4 1484.2,482.3 1486.2,482.0C1488.2,481.7 1491.2,482.6 1492.0,483.8C1492.8,484.9 1492.4,487.6 1491.2,488.8C1490.1,489.9 1486.8,490.5 1485.0,490.5C1483.2,490.5 1481.3,489.6 1480.5,488.8C1479.7,487.9 1479.0,486.6 1480.0,485.5ZM1737.5,368.8C1737.7,367.2 1739.6,364.5 1741.2,362.5C1742.9,360.5 1744.6,358.5 1747.5,357.0C1750.4,355.5 1756.2,353.6 1758.8,353.2C1761.2,352.9 1761.2,353.7 1762.5,355.0C1763.8,356.3 1764.9,359.4 1766.2,361.2C1767.6,363.1 1770.7,364.6 1770.5,366.2C1770.3,367.9 1767.4,369.7 1765.0,371.2C1762.6,372.8 1759.2,374.8 1756.2,375.5C1753.3,376.2 1750.2,376.1 1747.5,375.5C1744.8,374.9 1741.7,373.1 1740.0,372.0C1738.3,370.9 1737.3,370.3 1737.5,368.8ZM1735.5,380.0C1735.5,379.0 1738.2,377.6 1740.0,377.5C1741.8,377.4 1745.2,378.6 1746.2,379.5C1747.3,380.4 1747.3,382.3 1746.2,383.0C1745.2,383.7 1741.8,384.2 1740.0,383.8C1738.2,383.2 1735.5,381.0 1735.5,380.0ZM1750.0,382.0C1750.8,380.4 1756.9,379.1 1760.0,377.5C1763.1,375.9 1765.4,373.0 1768.8,372.5C1772.1,372.0 1776.5,373.9 1780.0,374.5C1783.5,375.1 1787.8,375.4 1790.0,376.2C1792.2,377.1 1793.2,378.0 1793.0,379.5C1792.8,381.0 1789.2,383.2 1788.8,385.0C1788.2,386.8 1790.6,388.2 1790.0,390.0C1789.4,391.8 1787.3,393.8 1785.0,395.5C1782.7,397.2 1778.5,399.7 1776.2,400.0C1774.0,400.3 1773.3,398.8 1771.2,397.5C1769.2,396.2 1766.5,393.8 1763.8,392.0C1761.0,390.2 1757.3,388.7 1755.0,387.0C1752.7,385.3 1749.2,383.6 1750.0,382.0ZM1788.0,402.5C1788.3,401.1 1791.4,397.9 1793.0,395.5C1794.6,393.1 1796.1,390.5 1797.5,388.0C1798.9,385.5 1800.0,381.2 1801.2,380.5C1802.5,379.8 1803.4,382.9 1805.0,383.8C1806.6,384.6 1809.6,384.0 1810.8,385.5C1811.9,387.0 1811.3,390.2 1812.0,392.5C1812.7,394.8 1815.8,398.2 1815.0,399.5C1814.2,400.8 1810.4,400.2 1807.5,400.5C1804.6,400.8 1800.2,400.7 1797.5,401.2C1794.8,401.8 1792.8,403.5 1791.2,403.8C1789.7,404.0 1787.7,403.9 1788.0,402.5ZM2013.2,425.0C2013.8,423.4 2015.5,421.0 2017.5,420.0C2019.5,419.0 2022.5,418.5 2025.0,418.8C2027.5,419.0 2030.8,421.7 2032.5,421.2C2034.2,420.8 2033.6,416.5 2035.5,416.2C2037.4,416.0 2040.9,418.8 2043.8,419.5C2046.6,420.2 2050.4,419.7 2052.5,420.5C2054.6,421.3 2055.9,422.9 2056.2,424.5C2056.6,426.1 2056.0,429.0 2054.5,430.0C2053.0,431.0 2049.9,430.0 2047.5,430.5C2045.1,431.0 2042.9,432.4 2040.0,433.0C2037.1,433.6 2033.3,434.2 2030.0,434.2C2026.7,434.2 2022.6,433.8 2020.0,433.0C2017.4,432.2 2015.6,430.8 2014.5,429.5C2013.4,428.2 2012.8,426.6 2013.2,425.0ZM2061.2,423.8C2062.3,423.1 2066.9,422.9 2070.0,423.0C2073.1,423.1 2076.5,424.1 2080.0,424.5C2083.5,424.9 2089.1,424.7 2091.2,425.5C2093.4,426.3 2093.0,428.2 2093.0,429.5C2093.0,430.8 2093.4,432.4 2091.2,433.0C2089.1,433.6 2083.5,433.7 2080.0,433.2C2076.5,432.8 2072.7,431.5 2070.0,430.5C2067.3,429.5 2065.2,428.1 2063.8,427.0C2062.3,425.9 2060.2,424.4 2061.2,423.8ZM2040.0,628.8C2040.4,626.0 2042.0,623.4 2043.0,621.2C2044.0,619.1 2045.3,616.0 2046.2,615.8C2047.2,615.5 2048.2,617.8 2048.8,620.0C2049.3,622.2 2049.6,626.0 2049.5,628.8C2049.4,631.5 2047.9,634.0 2048.0,636.2C2048.1,638.5 2048.9,640.7 2050.0,642.5C2051.1,644.3 2054.5,645.8 2054.5,647.0C2054.5,648.2 2051.4,648.7 2050.0,650.0C2048.6,651.3 2046.9,652.5 2046.2,655.0C2045.6,657.5 2046.0,662.3 2046.2,665.0C2046.5,667.7 2048.4,670.0 2048.0,671.2C2047.6,672.5 2045.0,672.7 2043.8,672.5C2042.5,672.3 2040.9,672.1 2040.5,670.0C2040.1,667.9 2041.1,663.8 2041.2,660.0C2041.4,656.2 2041.4,651.2 2041.2,647.5C2041.1,643.8 2040.7,640.6 2040.5,637.5C2040.3,634.4 2039.6,631.5 2040.0,628.8ZM2116.2,640.0C2116.9,639.0 2119.6,636.5 2121.2,636.2C2122.9,636.0 2126.0,637.7 2126.2,638.8C2126.5,639.8 2124.0,641.9 2122.5,642.5C2121.0,643.1 2118.5,642.9 2117.5,642.5C2116.5,642.1 2115.6,641.0 2116.2,640.0ZM2263.7,467.0C2263.8,466.4 2264.4,465.2 2265.2,464.5C2265.9,463.9 2266.4,463.2 2268.2,463.0C2270.0,462.9 2273.5,463.4 2276.2,463.5C2278.9,463.7 2282.4,463.4 2284.2,463.8C2286.0,464.3 2286.8,465.1 2287.0,466.0C2287.3,466.9 2286.5,468.5 2285.7,469.2C2284.9,470.0 2284.1,470.3 2282.2,470.5C2280.3,470.8 2276.8,470.7 2274.2,470.5C2271.6,470.4 2268.4,469.9 2266.7,469.5C2265.0,469.2 2264.7,469.0 2264.2,468.5C2263.7,468.1 2263.5,467.7 2263.7,467.0ZM2025.2,699.5C2025.1,698.3 2026.1,697.1 2027.1,696.4C2028.2,695.6 2030.1,695.5 2031.5,695.1C2032.9,694.7 2034.3,694.7 2035.3,693.9C2036.2,693.0 2036.9,691.6 2037.1,690.1C2037.3,688.6 2036.9,686.8 2036.5,685.1C2036.1,683.4 2035.0,681.4 2034.6,680.1C2034.3,678.7 2033.8,677.6 2034.3,677.0C2034.7,676.3 2036.1,675.7 2037.1,676.1C2038.1,676.5 2039.2,678.2 2040.3,679.5C2041.3,680.7 2042.3,682.5 2043.4,683.8C2044.4,685.2 2045.2,686.9 2046.5,687.6C2047.9,688.3 2049.9,688.2 2051.5,688.2C2053.2,688.2 2055.2,687.4 2056.5,687.6C2057.9,687.8 2058.9,688.4 2059.7,689.5C2060.4,690.5 2061.6,692.9 2060.9,693.9C2060.2,694.8 2057.0,694.6 2055.3,695.1C2053.6,695.6 2052.1,696.1 2050.9,697.0C2049.8,697.8 2049.3,699.3 2048.4,700.1C2047.5,700.9 2046.6,701.5 2045.3,701.6C2043.9,701.7 2041.9,701.1 2040.3,700.7C2038.6,700.4 2036.6,699.5 2035.3,699.5C2033.9,699.5 2033.4,700.1 2032.1,700.7C2030.9,701.4 2028.9,703.8 2027.7,703.6C2026.6,703.4 2025.3,700.7 2025.2,699.5ZM2027.7,710.1C2028.5,709.3 2030.1,708.5 2031.5,708.6C2032.9,708.7 2034.8,709.7 2035.9,710.8C2037.0,711.8 2037.5,713.6 2038.0,715.1C2038.5,716.7 2039.2,718.6 2039.0,720.1C2038.9,721.7 2038.2,723.4 2037.1,724.5C2036.1,725.7 2033.6,725.7 2032.7,727.0C2031.9,728.4 2032.3,730.5 2032.1,732.7C2032.0,734.9 2032.1,737.9 2031.7,740.2C2031.4,742.5 2031.1,744.6 2030.2,746.4C2029.4,748.3 2027.9,750.2 2026.5,751.4C2025.0,752.7 2023.4,753.3 2021.5,753.7C2019.6,754.1 2017.3,754.0 2015.2,754.0C2013.1,753.9 2010.6,753.2 2009.0,753.3C2007.3,753.4 2006.2,753.7 2005.2,754.6C2004.2,755.4 2003.7,757.3 2002.7,758.3C2001.7,759.4 2000.1,760.5 1998.9,760.8C1997.8,761.2 1996.8,760.9 1995.8,760.2C1994.9,759.5 1994.0,756.7 1993.3,756.5C1992.6,756.2 1992.6,758.1 1991.4,759.0C1990.3,759.8 1987.9,760.3 1986.4,761.5C1985.0,762.6 1983.8,766.1 1982.7,765.8C1981.5,765.6 1980.6,761.5 1979.5,760.2C1978.5,758.9 1977.5,758.2 1976.4,758.0C1975.4,757.7 1973.6,758.2 1973.3,759.0C1973.0,759.8 1974.2,761.5 1974.5,762.7C1974.8,764.0 1975.4,765.0 1975.2,766.5C1974.9,767.9 1974.1,770.0 1973.3,771.5C1972.4,772.9 1971.3,774.6 1970.1,775.2C1969.0,775.9 1967.2,776.1 1966.4,775.5C1965.6,774.9 1965.6,772.8 1965.4,771.5C1965.2,770.2 1965.4,769.2 1965.1,767.7C1964.8,766.3 1963.8,764.2 1963.6,762.7C1963.5,761.3 1963.5,760.0 1964.1,759.0C1964.8,757.9 1966.2,757.1 1967.6,756.5C1969.1,755.8 1971.0,755.7 1972.7,755.0C1974.3,754.2 1976.0,753.2 1977.7,752.1C1979.3,751.0 1980.8,749.1 1982.7,748.3C1984.5,747.5 1986.8,747.5 1988.9,747.4C1991.0,747.3 1993.3,747.9 1995.2,747.7C1997.1,747.5 1998.8,747.4 2000.2,746.4C2001.6,745.5 2001.9,743.4 2003.3,742.1C2004.8,740.7 2007.0,739.7 2009.0,738.3C2010.9,736.9 2013.3,735.4 2015.2,733.9C2017.1,732.5 2018.8,731.1 2020.2,729.5C2021.7,728.0 2023.0,726.3 2024.0,724.5C2025.0,722.8 2025.8,720.7 2026.2,718.9C2026.7,717.1 2026.5,715.3 2026.7,713.9C2027.0,712.4 2026.9,711.0 2027.7,710.1ZM2116.0,638.8C2116.1,637.8 2117.8,636.9 2119.1,636.5C2120.5,636.1 2122.9,635.9 2124.1,636.3C2125.4,636.6 2126.5,637.6 2126.4,638.5C2126.3,639.4 2124.8,640.9 2123.5,641.5C2122.2,642.2 2119.8,643.0 2118.5,642.5C2117.3,642.1 2115.9,639.8 2116.0,638.8ZM2126.0,632.5C2126.5,631.6 2128.6,630.4 2130.4,630.0C2132.2,629.6 2136.5,629.3 2136.7,630.0C2136.9,630.7 2133.2,633.5 2131.7,634.4C2130.1,635.3 2128.2,635.6 2127.3,635.3C2126.3,634.9 2125.5,633.4 2126.0,632.5ZM2096.6,664.4C2097.2,663.8 2100.1,662.6 2101.6,661.3C2103.1,660.0 2104.2,658.4 2105.4,656.9C2106.5,655.5 2107.3,653.6 2108.5,652.5C2109.7,651.4 2112.3,650.0 2112.6,650.3C2112.9,650.6 2111.4,653.0 2110.4,654.4C2109.4,655.8 2108.0,657.3 2106.6,658.8C2105.3,660.3 2103.7,662.1 2102.2,663.2C2100.8,664.3 2098.8,665.1 2097.9,665.3C2096.9,665.5 2096.0,665.1 2096.6,664.4ZM2084.1,671.3C2084.6,670.4 2086.5,668.8 2087.8,668.2C2089.2,667.6 2091.6,667.1 2092.2,667.6C2092.8,668.0 2092.3,669.8 2091.6,670.7C2090.9,671.6 2089.0,672.7 2087.8,673.2C2086.7,673.7 2085.3,673.9 2084.7,673.6C2084.1,673.3 2083.6,672.2 2084.1,671.3ZM2071.6,679.5C2071.4,678.8 2075.1,676.8 2076.6,675.7C2078.0,674.6 2079.6,672.3 2080.3,672.6C2081.1,672.9 2081.4,676.4 2081.0,677.6C2080.5,678.8 2079.4,679.5 2077.8,679.8C2076.3,680.1 2071.8,680.1 2071.6,679.5ZM2063.0,685.7C2062.7,685.2 2064.5,682.1 2065.3,682.0C2066.1,681.9 2067.9,684.5 2067.6,685.1C2067.2,685.7 2063.4,686.2 2063.0,685.7ZM1666.4,927.1C1666.6,924.9 1668.4,921.9 1669.6,920.2C1670.7,918.6 1672.1,917.3 1673.3,917.1C1674.6,916.9 1675.7,917.8 1677.1,919.0C1678.4,920.1 1680.0,922.2 1681.4,924.0C1682.9,925.8 1685.1,928.2 1685.8,929.6C1686.6,931.1 1686.8,931.6 1685.8,932.7C1684.9,933.9 1682.1,935.3 1680.2,936.5C1678.3,937.8 1676.0,939.9 1674.6,940.3C1673.1,940.6 1672.5,939.5 1671.4,938.4C1670.4,937.2 1669.1,935.3 1668.3,933.4C1667.5,931.5 1666.2,929.3 1666.4,927.1ZM1909.0,828.2C1909.2,826.8 1909.3,825.4 1910.3,823.8C1911.2,822.2 1913.4,819.9 1914.7,818.8C1915.9,817.6 1916.8,816.9 1917.8,816.9C1918.7,816.9 1920.1,817.7 1920.3,818.8C1920.5,819.8 1919.7,821.6 1919.0,823.2C1918.4,824.7 1917.3,826.6 1916.5,828.2C1915.8,829.7 1915.5,831.5 1914.7,832.6C1913.8,833.6 1912.4,834.5 1911.5,834.4C1910.6,834.3 1909.7,833.0 1909.3,831.9C1908.9,830.9 1908.9,829.5 1909.0,828.2ZM1907.8,873.9C1907.6,871.6 1908.0,869.5 1908.4,867.6C1908.8,865.7 1909.3,863.7 1910.3,862.6C1911.2,861.5 1912.6,860.9 1914.0,860.7C1915.5,860.5 1917.8,860.6 1919.0,861.3C1920.3,862.1 1921.2,863.4 1921.5,865.1C1921.9,866.8 1921.3,869.3 1920.9,871.4C1920.5,873.5 1919.1,875.5 1919.0,877.6C1918.9,879.7 1919.5,882.2 1920.3,883.9C1921.1,885.6 1922.8,886.6 1924.0,887.6C1925.3,888.7 1926.8,889.1 1927.8,890.1C1928.8,891.2 1931.1,893.5 1930.3,893.9C1929.5,894.3 1924.9,893.3 1922.8,892.7C1920.7,892.0 1919.5,891.0 1917.8,890.1C1916.1,889.3 1914.1,889.1 1912.8,887.6C1911.4,886.2 1910.5,883.7 1909.7,881.4C1908.8,879.1 1908.0,876.2 1907.8,873.9ZM1915.9,902.7C1916.5,902.2 1918.5,903.1 1920.3,903.9C1922.1,904.8 1924.7,906.2 1926.6,907.7C1928.4,909.1 1930.9,911.2 1931.6,912.7C1932.2,914.1 1931.4,916.2 1930.3,916.4C1929.3,916.6 1927.0,915.0 1925.3,913.9C1923.6,912.9 1921.8,911.4 1920.3,910.2C1918.8,908.9 1917.3,907.7 1916.5,906.4C1915.8,905.2 1915.3,903.1 1915.9,902.7ZM1887.7,921.4C1888.2,920.5 1890.2,918.9 1891.5,917.7C1892.7,916.4 1894.0,915.4 1895.3,913.9C1896.5,912.5 1897.8,910.2 1899.0,908.9C1900.3,907.6 1901.9,906.2 1902.8,906.2C1903.6,906.2 1904.3,907.7 1904.0,908.9C1903.7,910.1 1902.1,911.8 1900.9,913.3C1899.6,914.8 1898.0,916.3 1896.5,917.7C1895.0,919.0 1893.4,920.5 1892.1,921.4C1890.9,922.4 1889.7,923.3 1889.0,923.3C1888.3,923.3 1887.3,922.4 1887.7,921.4ZM1932.8,936.5C1932.8,935.2 1934.3,932.9 1935.3,930.2C1936.4,927.5 1937.8,922.4 1939.1,920.2C1940.3,918.0 1941.9,916.8 1942.8,917.1C1943.8,917.4 1944.6,920.1 1944.7,922.1C1944.8,924.1 1944.0,926.6 1943.5,929.0C1942.9,931.4 1942.3,934.8 1941.6,936.5C1940.8,938.1 1940.1,938.8 1939.1,939.0C1938.0,939.2 1936.4,938.1 1935.3,937.7C1934.3,937.3 1932.8,937.7 1932.8,936.5ZM1927.8,920.2C1928.0,918.9 1930.3,917.9 1931.6,917.7C1932.8,917.5 1934.9,917.9 1935.3,918.9C1935.7,920.0 1934.9,922.9 1934.1,924.0C1933.2,925.0 1931.4,925.8 1930.3,925.2C1929.3,924.6 1927.6,921.4 1927.8,920.2ZM1755.0,943.8C1755.2,942.4 1758.8,942.0 1761.2,942.0C1763.8,942.0 1767.5,942.4 1770.0,943.8C1772.5,945.1 1773.8,947.7 1776.2,950.0C1778.8,952.3 1781.9,955.2 1785.0,957.5C1788.1,959.8 1791.9,961.2 1795.0,963.8C1798.1,966.2 1801.0,969.4 1803.8,972.5C1806.5,975.6 1809.0,979.5 1811.2,982.5C1813.5,985.5 1815.5,988.3 1817.5,990.5C1819.5,992.7 1821.9,993.7 1823.0,995.5C1824.1,997.3 1824.5,999.3 1824.2,1001.2C1824.0,1003.2 1822.8,1005.7 1821.2,1007.0C1819.7,1008.3 1817.3,1009.2 1815.0,1009.2C1812.7,1009.2 1810.0,1008.3 1807.5,1007.0C1805.0,1005.7 1802.3,1003.7 1800.0,1001.2C1797.7,998.8 1795.8,995.6 1793.8,992.5C1791.7,989.4 1789.6,985.6 1787.5,982.5C1785.4,979.4 1783.3,976.8 1781.2,973.8C1779.2,970.8 1777.3,967.4 1775.0,964.5C1772.7,961.6 1770.0,958.7 1767.5,956.2C1765.0,953.8 1762.1,952.1 1760.0,950.0C1757.9,947.9 1754.8,945.1 1755.0,943.8ZM1839.5,967.5C1839.8,965.2 1842.0,963.3 1843.8,962.5C1845.5,961.7 1848.1,962.5 1850.0,962.5C1851.9,962.5 1853.8,963.3 1855.0,962.5C1856.2,961.7 1855.4,958.8 1857.5,957.5C1859.6,956.2 1864.8,956.0 1867.5,954.5C1870.2,953.0 1871.7,950.3 1873.8,948.8C1875.8,947.2 1878.3,946.9 1880.0,945.0C1881.7,943.1 1882.1,939.4 1883.8,937.5C1885.4,935.6 1888.1,933.8 1890.0,933.8C1891.9,933.8 1893.5,935.6 1895.0,937.5C1896.5,939.4 1899.0,942.7 1898.8,945.0C1898.5,947.3 1894.7,949.4 1893.8,951.2C1892.8,953.1 1892.6,954.2 1893.0,956.2C1893.4,958.3 1895.9,961.7 1896.2,963.8C1896.6,965.8 1896.0,967.5 1895.0,968.8C1894.0,970.0 1890.9,969.8 1890.5,971.2C1890.1,972.7 1892.4,975.4 1892.5,977.5C1892.6,979.6 1892.3,981.9 1891.2,983.8C1890.2,985.6 1888.1,987.0 1886.2,988.8C1884.4,990.5 1881.9,993.1 1880.0,994.5C1878.1,995.9 1877.1,997.0 1875.0,997.0C1872.9,997.0 1870.0,995.2 1867.5,994.5C1865.0,993.8 1862.5,993.5 1860.0,993.0C1857.5,992.5 1854.8,992.6 1852.5,991.2C1850.2,989.9 1848.0,987.5 1846.2,985.0C1844.5,982.5 1843.1,979.2 1842.0,976.2C1840.9,973.3 1839.2,969.8 1839.5,967.5ZM1904.5,971.2C1906.0,969.4 1909.1,969.2 1912.5,968.8C1915.9,968.3 1921.5,969.0 1925.0,968.8C1928.5,968.5 1931.2,967.8 1933.8,967.5C1936.2,967.2 1939.8,966.4 1940.0,967.0C1940.2,967.6 1937.1,970.2 1935.0,971.2C1932.9,972.3 1930.4,972.8 1927.5,973.2C1924.6,973.7 1920.2,973.5 1917.5,973.8C1914.8,974.0 1912.5,974.2 1911.2,975.0C1910.0,975.8 1909.2,977.7 1910.0,978.8C1910.8,979.8 1914.0,980.7 1916.2,981.2C1918.5,981.8 1922.9,981.2 1923.8,982.0C1924.6,982.8 1922.7,984.7 1921.2,986.2C1919.8,987.8 1915.2,989.6 1915.0,991.2C1914.8,992.9 1918.1,994.8 1920.0,996.2C1921.9,997.7 1925.4,998.8 1926.2,1000.0C1927.1,1001.2 1926.2,1002.8 1925.0,1003.8C1923.8,1004.7 1920.5,1006.2 1918.8,1005.8C1917.0,1005.3 1915.5,1003.0 1914.5,1001.2C1913.5,999.5 1913.2,995.2 1912.5,995.0C1911.8,994.8 1910.6,998.0 1910.0,1000.0C1909.4,1002.0 1910.4,1005.8 1908.8,1007.0C1907.1,1008.2 1901.2,1008.0 1900.0,1007.0C1898.8,1006.0 1901.4,1003.2 1901.2,1001.2C1901.1,999.2 1899.1,997.3 1899.2,995.0C1899.4,992.7 1901.2,990.0 1902.0,987.5C1902.8,985.0 1903.3,982.7 1903.8,980.0C1904.2,977.3 1903.0,973.1 1904.5,971.2ZM1819.5,1013.8C1819.9,1012.4 1822.6,1011.2 1825.0,1011.2C1827.4,1011.2 1830.8,1013.0 1833.8,1013.8C1836.7,1014.5 1839.6,1015.5 1842.5,1015.5C1845.4,1015.5 1848.5,1013.8 1851.2,1013.8C1854.0,1013.8 1856.5,1014.4 1858.8,1015.5C1861.0,1016.6 1862.7,1019.1 1865.0,1020.5C1867.3,1021.9 1871.5,1022.5 1872.5,1023.8C1873.5,1025.0 1872.9,1027.5 1871.2,1028.0C1869.6,1028.5 1865.6,1027.6 1862.5,1027.0C1859.4,1026.4 1856.0,1025.2 1852.5,1024.5C1849.0,1023.8 1845.0,1023.0 1841.2,1022.5C1837.5,1022.0 1833.1,1022.2 1830.0,1021.8C1826.9,1021.2 1824.2,1020.8 1822.5,1019.5C1820.8,1018.2 1819.1,1015.1 1819.5,1013.8ZM1886.2,1028.0C1886.9,1027.3 1890.4,1026.9 1892.5,1027.0C1894.6,1027.1 1898.3,1027.9 1898.8,1028.8C1899.2,1029.6 1896.7,1031.6 1895.0,1032.0C1893.3,1032.4 1890.2,1031.9 1888.8,1031.2C1887.3,1030.6 1885.6,1028.7 1886.2,1028.0ZM1906.2,1025.8C1907.1,1025.2 1911.9,1024.9 1915.0,1025.0C1918.1,1025.1 1924.6,1025.5 1925.0,1026.2C1925.4,1027.0 1920.0,1029.0 1917.5,1029.2C1915.0,1029.5 1911.9,1028.6 1910.0,1028.0C1908.1,1027.4 1905.4,1026.2 1906.2,1025.8ZM1901.2,1033.0C1901.5,1032.4 1905.7,1032.0 1907.5,1032.5C1909.3,1033.0 1912.2,1035.1 1912.0,1035.8C1911.8,1036.4 1908.0,1036.7 1906.2,1036.2C1904.5,1035.8 1901.0,1033.6 1901.2,1033.0ZM1928.0,1035.0C1929.0,1033.7 1933.2,1030.4 1936.2,1028.8C1939.3,1027.1 1943.5,1025.8 1946.2,1025.0C1949.0,1024.2 1953.2,1023.0 1953.0,1023.8C1952.8,1024.5 1947.8,1027.6 1945.0,1029.2C1942.2,1030.9 1938.8,1032.5 1936.2,1033.8C1933.8,1035.0 1931.4,1036.5 1930.0,1036.8C1928.6,1037.0 1927.0,1036.3 1928.0,1035.0ZM1950.0,966.2C1950.5,964.6 1953.4,960.7 1955.0,961.2C1956.6,961.8 1959.5,967.2 1959.5,969.5C1959.5,971.8 1956.2,974.7 1955.0,975.0C1953.8,975.3 1952.8,972.7 1952.0,971.2C1951.2,969.8 1949.5,967.9 1950.0,966.2ZM1943.0,995.5C1943.2,994.9 1947.4,993.8 1948.8,993.8C1950.1,993.8 1951.5,994.9 1951.2,995.5C1951.0,996.1 1948.9,997.5 1947.5,997.5C1946.1,997.5 1942.8,996.1 1943.0,995.5ZM1955.0,994.5C1956.2,994.0 1960.0,993.2 1962.5,993.2C1965.0,993.2 1968.5,993.9 1970.0,994.5C1971.5,995.1 1972.5,996.8 1971.2,997.0C1970.0,997.2 1965.1,995.6 1962.5,995.5C1959.9,995.4 1956.8,996.4 1955.5,996.2C1954.2,996.1 1953.8,995.0 1955.0,994.5ZM1887.5,921.2C1888.5,919.8 1891.5,917.5 1893.8,915.0C1896.0,912.5 1899.5,907.3 1901.2,906.2C1903.0,905.2 1904.7,907.3 1904.5,908.8C1904.3,910.2 1901.8,912.9 1900.0,915.0C1898.2,917.1 1895.8,919.8 1893.8,921.2C1891.8,922.7 1889.0,923.8 1888.0,923.8C1887.0,923.8 1886.5,922.7 1887.5,921.2ZM1975.5,981.2C1976.3,980.2 1978.8,978.8 1981.2,978.2C1983.7,977.7 1988.0,977.5 1990.0,978.0C1992.0,978.5 1992.6,979.8 1993.0,981.2C1993.4,982.8 1992.0,985.5 1992.5,987.0C1993.0,988.5 1994.8,989.5 1996.2,990.5C1997.7,991.5 1999.8,993.3 2001.2,993.0C2002.7,992.7 2003.8,990.1 2005.0,988.8C2006.2,987.4 2006.7,985.8 2008.8,985.0C2010.8,984.2 2014.4,984.0 2017.5,984.2C2020.6,984.5 2024.2,985.7 2027.5,986.8C2030.8,987.8 2034.2,989.5 2037.5,990.8C2040.8,992.0 2044.2,993.3 2047.5,994.5C2050.8,995.7 2054.4,996.5 2057.5,998.0C2060.6,999.5 2063.5,1001.8 2066.2,1003.8C2069.0,1005.8 2072.1,1008.3 2073.8,1010.0C2075.4,1011.7 2076.2,1012.3 2076.2,1013.8C2076.2,1015.2 2073.5,1017.2 2073.8,1018.8C2074.0,1020.3 2075.6,1021.5 2077.5,1023.0C2079.4,1024.5 2082.7,1026.2 2085.0,1028.0C2087.3,1029.8 2089.9,1032.2 2091.2,1033.8C2092.6,1035.3 2093.4,1036.5 2093.0,1037.5C2092.6,1038.5 2090.7,1039.6 2088.8,1039.5C2086.8,1039.4 2083.5,1037.8 2081.2,1037.0C2079.0,1036.2 2076.9,1036.4 2075.0,1035.0C2073.1,1033.6 2071.9,1030.5 2070.0,1028.8C2068.1,1027.0 2066.0,1025.5 2063.8,1024.5C2061.5,1023.5 2058.2,1022.8 2056.2,1022.5C2054.3,1022.2 2053.0,1022.2 2052.0,1023.0C2051.0,1023.8 2051.4,1026.0 2050.0,1027.0C2048.6,1028.0 2045.8,1028.5 2043.8,1028.8C2041.7,1029.0 2039.6,1028.9 2037.5,1028.2C2035.4,1027.6 2033.4,1025.8 2031.2,1025.0C2029.1,1024.2 2026.2,1025.0 2024.5,1023.8C2022.8,1022.5 2022.3,1019.6 2021.2,1017.5C2020.2,1015.4 2018.8,1013.1 2018.0,1011.2C2017.2,1009.4 2017.6,1007.6 2016.2,1006.2C2014.9,1004.9 2012.3,1004.0 2010.0,1003.0C2007.7,1002.0 2004.8,1001.1 2002.5,1000.0C2000.2,998.9 1998.5,997.3 1996.2,996.2C1994.0,995.2 1991.2,994.5 1988.8,993.8C1986.2,993.0 1982.7,993.0 1981.2,992.0C1979.8,991.0 1980.8,988.8 1980.0,987.5C1979.2,986.2 1977.0,985.5 1976.2,984.5C1975.5,983.5 1974.7,982.3 1975.5,981.2ZM2082.0,1008.8C2082.4,1007.8 2086.4,1007.1 2088.8,1006.2C2091.1,1005.4 2094.0,1005.3 2096.2,1003.8C2098.5,1002.2 2100.8,997.4 2102.5,997.0C2104.2,996.6 2107.2,999.6 2106.8,1001.2C2106.3,1002.9 2102.4,1005.3 2100.0,1007.0C2097.6,1008.7 2094.8,1010.5 2092.5,1011.2C2090.2,1012.0 2088.0,1012.2 2086.2,1011.8C2084.5,1011.3 2081.6,1009.7 2082.0,1008.8ZM2117.0,1009.2C2117.8,1009.4 2120.7,1012.6 2122.5,1013.8C2124.3,1014.9 2127.2,1015.4 2128.0,1016.2C2128.8,1017.1 2128.6,1018.6 2127.5,1018.8C2126.4,1018.9 2122.9,1018.0 2121.2,1017.0C2119.6,1016.0 2118.2,1014.3 2117.5,1013.0C2116.8,1011.7 2116.2,1009.1 2117.0,1009.2ZM2134.5,1027.5C2134.5,1026.9 2136.2,1026.1 2137.0,1026.2C2137.8,1026.4 2139.0,1027.7 2139.0,1028.2C2139.0,1028.8 2137.5,1029.9 2136.8,1029.8C2136.0,1029.6 2134.5,1028.1 2134.5,1027.5ZM2149.5,1028.0C2150.8,1027.9 2156.2,1029.0 2157.5,1029.5C2158.8,1030.0 2158.2,1030.9 2157.0,1031.0C2155.8,1031.1 2151.2,1030.5 2150.0,1030.0C2148.8,1029.5 2148.2,1028.1 2149.5,1028.0ZM2158.0,1037.0C2158.9,1037.1 2163.0,1038.9 2163.8,1039.5C2164.5,1040.1 2163.4,1040.9 2162.5,1040.8C2161.6,1040.6 2159.0,1039.4 2158.2,1038.8C2157.5,1038.1 2157.1,1036.9 2158.0,1037.0ZM2188.8,1063.8C2189.1,1062.8 2190.5,1062.1 2191.2,1062.5C2192.0,1062.9 2193.0,1065.0 2193.0,1066.2C2193.0,1067.5 2191.9,1069.7 2191.2,1070.0C2190.6,1070.3 2189.4,1069.0 2189.0,1068.0C2188.6,1067.0 2188.4,1064.7 2188.8,1063.8ZM2172.5,1103.8C2172.5,1102.8 2173.5,1102.7 2175.0,1103.8C2176.5,1104.8 2179.0,1108.1 2181.2,1110.0C2183.5,1111.9 2187.0,1113.8 2188.8,1115.0C2190.5,1116.2 2192.0,1116.8 2192.0,1117.5C2192.0,1118.2 2190.5,1119.3 2188.8,1119.0C2187.0,1118.7 2183.5,1117.1 2181.2,1115.5C2179.0,1113.9 2176.5,1111.5 2175.0,1109.5C2173.5,1107.5 2172.5,1104.7 2172.5,1103.8ZM2278.0,1065.5C2278.2,1064.5 2280.5,1063.3 2282.5,1063.8C2284.5,1064.2 2288.2,1066.5 2290.0,1068.0C2291.8,1069.5 2293.7,1071.6 2293.2,1072.5C2292.8,1073.4 2289.5,1073.8 2287.5,1073.2C2285.5,1072.8 2282.8,1070.8 2281.2,1069.5C2279.7,1068.2 2277.8,1066.5 2278.0,1065.5ZM2257.5,1096.2C2258.3,1095.5 2262.1,1094.0 2263.8,1093.8C2265.4,1093.5 2267.7,1094.2 2267.5,1095.0C2267.3,1095.8 2264.0,1098.2 2262.5,1098.8C2261.0,1099.2 2259.6,1098.4 2258.8,1098.0C2257.9,1097.6 2256.7,1097.0 2257.5,1096.2ZM2249.5,1105.5C2250.1,1104.5 2256.0,1102.9 2257.5,1103.0C2259.0,1103.1 2259.4,1105.3 2258.8,1106.2C2258.1,1107.2 2255.3,1108.9 2253.8,1108.8C2252.2,1108.6 2248.9,1106.5 2249.5,1105.5ZM2327.5,1112.5C2328.5,1111.4 2332.5,1110.5 2333.8,1109.5C2335.0,1108.5 2334.2,1106.7 2335.0,1106.2C2335.8,1105.8 2337.8,1105.8 2338.8,1107.0C2339.7,1108.2 2340.7,1111.8 2340.5,1113.8C2340.3,1115.7 2338.9,1117.8 2337.5,1118.8C2336.1,1119.7 2333.6,1119.9 2332.0,1119.5C2330.4,1119.1 2328.8,1117.4 2328.0,1116.2C2327.2,1115.1 2326.5,1113.6 2327.5,1112.5ZM1885.0,1122.0C1886.0,1120.1 1889.2,1118.5 1891.2,1116.2C1893.3,1114.0 1895.6,1111.5 1897.5,1108.8C1899.4,1106.0 1901.3,1102.2 1902.5,1100.0C1903.7,1097.8 1902.8,1096.4 1904.5,1095.5C1906.2,1094.6 1910.3,1095.2 1912.5,1094.5C1914.7,1093.8 1916.5,1093.0 1917.5,1091.2C1918.5,1089.5 1917.9,1086.0 1918.8,1083.8C1919.6,1081.5 1921.0,1078.7 1922.5,1078.0C1924.0,1077.3 1926.2,1080.0 1927.5,1079.5C1928.8,1079.0 1928.5,1076.6 1930.0,1075.0C1931.5,1073.4 1934.0,1072.1 1936.2,1070.0C1938.5,1067.9 1941.5,1064.2 1943.8,1062.5C1946.0,1060.8 1948.1,1059.1 1950.0,1059.5C1951.9,1059.9 1952.7,1063.8 1955.0,1065.0C1957.3,1066.2 1961.8,1066.5 1963.8,1067.0C1965.8,1067.5 1966.9,1068.7 1967.0,1068.0C1967.1,1067.3 1964.4,1064.5 1964.5,1063.0C1964.6,1061.5 1966.5,1060.4 1967.5,1058.8C1968.5,1057.1 1969.0,1054.3 1970.5,1053.0C1972.0,1051.7 1974.0,1051.0 1976.2,1050.8C1978.5,1050.5 1982.1,1051.7 1983.8,1051.2C1985.4,1050.8 1984.6,1048.7 1986.2,1048.2C1987.9,1047.8 1991.2,1048.4 1993.8,1048.8C1996.2,1049.1 1998.8,1050.2 2001.2,1050.5C2003.8,1050.8 2007.7,1049.8 2008.8,1050.8C2009.8,1051.7 2008.3,1054.4 2007.5,1056.2C2006.7,1058.1 2004.8,1060.3 2003.8,1062.0C2002.7,1063.7 2000.8,1064.9 2001.2,1066.2C2001.7,1067.6 2004.0,1068.8 2006.2,1070.0C2008.5,1071.2 2012.1,1072.2 2015.0,1073.8C2017.9,1075.3 2020.8,1077.7 2023.8,1079.5C2026.7,1081.3 2030.4,1085.2 2032.5,1084.5C2034.6,1083.8 2035.1,1078.0 2036.2,1075.0C2037.4,1072.0 2038.9,1069.6 2039.5,1066.2C2040.1,1062.9 2039.6,1058.3 2040.0,1055.0C2040.4,1051.7 2041.3,1048.2 2042.0,1046.2C2042.7,1044.3 2043.1,1042.6 2044.2,1043.2C2045.4,1043.9 2047.5,1047.8 2048.8,1050.0C2050.0,1052.2 2051.3,1054.0 2052.0,1056.2C2052.7,1058.5 2051.7,1062.4 2053.0,1063.8C2054.3,1065.1 2058.3,1063.2 2060.0,1064.5C2061.7,1065.8 2062.0,1068.7 2063.0,1071.2C2064.0,1073.8 2065.5,1077.3 2066.2,1080.0C2067.0,1082.7 2067.1,1085.2 2067.5,1087.5C2067.9,1089.8 2067.5,1092.3 2068.8,1093.8C2070.0,1095.2 2072.7,1095.4 2075.0,1096.2C2077.3,1097.1 2080.4,1096.9 2082.5,1098.8C2084.6,1100.6 2086.0,1105.0 2087.5,1107.5C2089.0,1110.0 2089.8,1112.1 2091.2,1113.8C2092.7,1115.4 2095.1,1115.8 2096.2,1117.5C2097.4,1119.2 2096.8,1121.7 2098.0,1123.8C2099.2,1125.8 2102.1,1127.9 2103.8,1130.0C2105.4,1132.1 2107.2,1133.5 2108.0,1136.2C2108.8,1139.0 2107.6,1143.5 2108.2,1146.2C2108.9,1149.0 2111.5,1150.0 2111.8,1152.5C2112.0,1155.0 2111.3,1158.8 2110.0,1161.2C2108.7,1163.8 2105.8,1165.0 2103.8,1167.5C2101.7,1170.0 2099.3,1172.9 2097.5,1176.2C2095.7,1179.6 2094.0,1183.8 2093.0,1187.5C2092.0,1191.2 2091.8,1195.4 2091.2,1198.8C2090.8,1202.1 2090.4,1205.2 2090.0,1207.5C2089.6,1209.8 2089.6,1211.3 2088.8,1212.5C2087.9,1213.7 2086.9,1214.0 2085.0,1214.5C2083.1,1215.0 2079.4,1214.6 2077.5,1215.5C2075.6,1216.4 2075.2,1218.6 2073.8,1220.0C2072.3,1221.4 2070.4,1223.8 2068.8,1223.8C2067.1,1223.7 2065.4,1220.9 2063.8,1219.5C2062.1,1218.1 2060.2,1215.5 2058.8,1215.5C2057.3,1215.5 2056.5,1218.4 2055.0,1219.5C2053.5,1220.6 2052.3,1222.1 2050.0,1222.0C2047.7,1221.9 2044.0,1219.8 2041.2,1218.8C2038.5,1217.7 2035.8,1217.0 2033.8,1215.5C2031.7,1214.0 2030.0,1212.4 2028.8,1210.0C2027.5,1207.6 2027.8,1203.3 2026.2,1201.2C2024.7,1199.2 2021.0,1199.4 2019.5,1197.5C2018.0,1195.6 2018.1,1192.3 2017.0,1190.0C2015.9,1187.7 2014.6,1184.2 2013.0,1183.8C2011.4,1183.2 2009.5,1185.9 2007.5,1187.0C2005.5,1188.1 2003.1,1190.8 2001.2,1190.5C1999.4,1190.2 1997.9,1187.4 1996.2,1185.0C1994.6,1182.6 1993.3,1178.2 1991.2,1176.2C1989.2,1174.2 1986.5,1173.7 1983.8,1173.0C1981.0,1172.3 1978.1,1171.9 1975.0,1172.0C1971.9,1172.1 1968.3,1173.2 1965.0,1173.8C1961.7,1174.3 1958.3,1175.0 1955.0,1175.5C1951.7,1176.0 1948.3,1176.0 1945.0,1177.0C1941.7,1178.0 1937.9,1179.7 1935.0,1181.2C1932.1,1182.8 1930.0,1185.3 1927.5,1186.2C1925.0,1187.2 1922.9,1186.9 1920.0,1187.0C1917.1,1187.1 1912.9,1186.7 1910.0,1187.0C1907.1,1187.3 1904.8,1187.8 1902.5,1188.8C1900.2,1189.8 1898.5,1192.2 1896.2,1193.0C1894.0,1193.8 1891.2,1194.2 1888.8,1193.8C1886.2,1193.2 1882.8,1191.9 1881.2,1190.0C1879.7,1188.1 1879.8,1185.2 1879.5,1182.5C1879.2,1179.8 1879.7,1176.7 1879.2,1173.8C1878.8,1170.8 1876.7,1167.7 1877.0,1165.0C1877.3,1162.3 1880.0,1160.4 1881.2,1157.5C1882.5,1154.6 1883.8,1150.8 1884.5,1147.5C1885.2,1144.2 1885.3,1140.8 1885.5,1137.5C1885.7,1134.2 1885.6,1130.1 1885.5,1127.5C1885.4,1124.9 1884.0,1123.9 1885.0,1122.0ZM2055.1,1235.7C2055.4,1234.8 2057.4,1234.7 2058.8,1234.7C2060.3,1234.7 2062.3,1235.2 2063.9,1235.7C2065.4,1236.2 2067.0,1237.4 2068.2,1237.6C2069.5,1237.8 2070.2,1237.4 2071.4,1237.0C2072.5,1236.5 2073.9,1234.7 2075.1,1234.8C2076.4,1234.9 2078.4,1236.2 2078.9,1237.6C2079.4,1239.0 2078.7,1241.5 2078.3,1243.2C2077.8,1245.0 2077.2,1246.7 2076.4,1248.2C2075.5,1249.8 2074.3,1251.3 2073.2,1252.4C2072.2,1253.4 2071.2,1254.3 2070.1,1254.5C2069.1,1254.7 2068.1,1254.5 2067.0,1253.6C2065.8,1252.8 2064.4,1251.0 2063.2,1249.5C2062.1,1248.0 2061.1,1246.0 2060.1,1244.5C2059.1,1242.9 2057.8,1241.6 2057.0,1240.1C2056.1,1238.6 2054.8,1236.6 2055.1,1235.7ZM2226.4,1193.8C2226.6,1192.7 2229.9,1192.6 2231.6,1193.1C2233.3,1193.7 2235.2,1195.7 2236.6,1196.9C2238.1,1198.2 2239.7,1199.3 2240.4,1200.7C2241.1,1202.0 2240.6,1203.6 2241.0,1205.0C2241.4,1206.5 2242.0,1208.2 2242.9,1209.4C2243.8,1210.7 2245.4,1211.4 2246.7,1212.6C2247.9,1213.7 2248.9,1215.5 2250.4,1216.3C2251.9,1217.1 2253.9,1217.7 2255.4,1217.6C2257.0,1217.5 2258.4,1216.1 2259.8,1215.7C2261.2,1215.3 2263.0,1214.2 2263.6,1215.1C2264.1,1215.9 2263.9,1219.1 2262.9,1220.7C2262.0,1222.3 2259.4,1223.1 2257.9,1224.4C2256.5,1225.8 2255.2,1227.4 2254.2,1228.8C2253.1,1230.3 2252.1,1231.8 2251.4,1233.2C2250.7,1234.7 2250.6,1236.5 2249.8,1237.6C2249.0,1238.7 2247.8,1239.6 2246.7,1239.8C2245.5,1240.1 2243.9,1239.9 2243.1,1239.1C2242.4,1238.3 2242.7,1236.5 2242.3,1235.1C2241.8,1233.7 2241.0,1232.1 2240.4,1230.7C2239.8,1229.4 2239.3,1227.8 2238.5,1227.0C2237.7,1226.1 2235.5,1225.9 2235.4,1225.3C2235.3,1224.7 2237.1,1224.1 2237.9,1223.2C2238.7,1222.3 2239.9,1221.4 2240.4,1220.1C2240.9,1218.7 2241.2,1216.6 2241.0,1215.1C2240.8,1213.5 2240.0,1211.8 2239.1,1210.7C2238.3,1209.5 2236.8,1209.4 2236.0,1208.2C2235.2,1206.9 2235.1,1204.6 2234.1,1203.2C2233.2,1201.7 2231.7,1201.0 2230.4,1199.4C2229.1,1197.8 2226.2,1194.8 2226.4,1193.8ZM2223.1,1235.1C2224.1,1233.9 2226.6,1233.7 2227.9,1233.8C2229.2,1233.9 2229.7,1235.3 2231.0,1235.7C2232.3,1236.1 2234.4,1235.2 2235.4,1236.3C2236.3,1237.5 2236.8,1240.8 2236.6,1242.6C2236.4,1244.4 2235.1,1245.7 2234.1,1247.0C2233.2,1248.2 2231.8,1248.9 2231.0,1250.1C2230.2,1251.4 2230.1,1253.2 2229.1,1254.5C2228.2,1255.7 2226.8,1256.7 2225.4,1257.6C2223.9,1258.6 2221.7,1259.2 2220.4,1260.1C2219.0,1261.1 2218.2,1261.9 2217.2,1263.3C2216.3,1264.6 2215.7,1266.6 2214.7,1268.3C2213.8,1269.9 2212.7,1272.0 2211.6,1273.3C2210.4,1274.6 2209.2,1275.6 2207.8,1276.2C2206.5,1276.7 2205.1,1276.6 2203.5,1276.4C2201.8,1276.2 2199.6,1275.4 2197.8,1274.9C2196.0,1274.4 2194.3,1273.6 2192.8,1273.3C2191.4,1272.9 2189.5,1274.0 2189.1,1272.9C2188.6,1271.8 2189.6,1268.3 2190.3,1266.4C2191.0,1264.5 2192.2,1262.7 2193.4,1261.4C2194.7,1260.0 2196.0,1259.0 2197.8,1258.3C2199.6,1257.5 2202.0,1257.5 2204.1,1257.0C2206.2,1256.5 2208.5,1256.1 2210.3,1255.1C2212.2,1254.2 2214.0,1252.9 2215.3,1251.4C2216.7,1249.8 2217.3,1247.5 2218.5,1245.7C2219.6,1244.0 2221.5,1242.5 2222.2,1240.7C2223.0,1238.9 2222.2,1236.2 2223.1,1235.1ZM372.0,587.5C372.9,586.5 377.8,586.6 379.7,586.9C381.6,587.2 382.1,588.3 383.5,589.4C384.9,590.6 386.5,592.3 388.0,593.9C389.5,595.5 391.2,597.4 392.5,599.0C393.8,600.6 394.6,601.7 395.7,603.5C396.7,605.3 397.9,607.8 398.9,609.9C399.8,612.1 400.6,614.2 401.4,616.3C402.3,618.5 403.3,620.4 404.0,622.7C404.7,625.1 405.6,628.2 405.9,630.4C406.2,632.6 406.9,636.2 405.9,636.2C405.0,636.2 401.8,631.8 400.2,630.4C398.6,629.0 397.5,629.1 396.3,627.8C395.1,626.6 394.2,624.6 393.1,622.7C392.1,620.8 391.1,618.5 389.9,616.3C388.7,614.2 387.4,611.9 386.1,609.9C384.8,607.9 383.5,606.0 382.2,604.2C381.0,602.3 379.7,600.9 378.4,599.0C377.1,597.2 375.6,595.2 374.6,593.3C373.5,591.4 371.1,588.6 372.0,587.5Z"/><path fill="#fff" d="M1358.2,702.6C1358.2,701.5 1358.1,700.1 1358.8,698.8C1359.5,697.6 1361.3,696.6 1362.6,695.1C1363.8,693.6 1365.3,691.6 1366.3,690.1C1367.4,688.5 1367.6,687.1 1368.8,685.7C1370.1,684.3 1372.7,683.3 1373.8,681.9C1375.0,680.6 1375.1,678.9 1375.7,677.6C1376.3,676.2 1376.6,674.6 1377.6,673.8C1378.5,673.0 1379.9,672.6 1381.3,672.6C1382.8,672.6 1384.9,673.0 1386.3,673.8C1387.8,674.6 1389.4,676.1 1389.8,677.6C1390.3,679.0 1388.8,681.1 1388.8,682.6C1388.9,684.0 1389.2,685.2 1390.1,686.3C1391.0,687.5 1393.1,689.1 1394.5,689.5C1395.8,689.8 1396.9,689.0 1398.2,688.2C1399.6,687.4 1401.3,685.8 1402.6,684.4C1404.0,683.1 1406.3,681.4 1406.4,680.1C1406.5,678.7 1403.5,677.4 1403.2,676.3C1403.0,675.3 1404.0,674.6 1405.1,673.8C1406.3,673.0 1408.5,671.6 1410.1,671.3C1411.8,671.0 1413.8,671.3 1415.1,671.9C1416.5,672.6 1417.9,674.0 1418.3,675.1C1418.7,676.1 1418.3,677.1 1417.6,678.2C1417.0,679.2 1415.1,680.2 1414.5,681.3C1413.9,682.5 1413.7,684.0 1414.1,685.1C1414.6,686.1 1415.6,686.8 1417.0,687.6C1418.4,688.3 1420.9,688.6 1422.7,689.5C1424.4,690.3 1426.0,691.6 1427.7,692.6C1429.3,693.5 1431.0,694.3 1432.7,695.1C1434.3,695.9 1436.2,696.6 1437.7,697.6C1439.1,698.6 1440.9,700.1 1441.4,701.3C1442.0,702.6 1441.6,704.0 1440.8,705.1C1440.0,706.3 1438.2,707.7 1436.4,708.2C1434.6,708.8 1432.5,708.7 1430.2,708.6C1427.9,708.5 1425.2,708.1 1422.7,707.6C1420.1,707.1 1417.6,706.4 1415.1,705.7C1412.6,705.1 1410.1,704.4 1407.6,703.9C1405.1,703.3 1402.4,702.6 1400.1,702.4C1397.8,702.1 1395.7,702.2 1393.9,702.6C1392.0,703.0 1390.3,703.7 1388.8,704.5C1387.4,705.2 1386.6,706.3 1385.1,707.0C1383.6,707.7 1382.0,708.5 1380.1,708.9C1378.2,709.2 1375.7,708.5 1373.8,708.9C1371.9,709.2 1370.3,710.3 1368.8,710.7C1367.4,711.2 1366.3,711.8 1365.1,711.4C1363.8,710.9 1362.4,709.2 1361.3,708.2C1360.2,707.3 1359.1,706.7 1358.5,705.7C1358.0,704.8 1358.1,703.7 1358.2,702.6ZM1343.8,726.4C1343.1,725.3 1344.0,722.8 1345.0,721.4C1346.1,719.9 1348.4,718.5 1350.0,717.6C1351.7,716.8 1353.2,717.0 1355.0,716.4C1356.9,715.7 1359.7,714.7 1361.3,713.9C1362.9,713.0 1363.7,711.2 1364.4,711.1C1365.2,711.0 1366.4,712.1 1365.7,713.2C1365.0,714.4 1361.8,717.2 1360.0,718.3C1358.3,719.3 1356.6,718.8 1355.0,719.5C1353.5,720.2 1351.7,721.3 1350.7,722.6C1349.6,724.0 1349.9,727.0 1348.8,727.6C1347.6,728.3 1344.4,727.4 1343.8,726.4ZM502.0,777.6C502.7,776.8 504.0,776.3 505.2,776.7C506.3,777.1 507.5,778.5 508.9,780.1C510.4,781.7 512.1,783.8 513.9,786.3C515.8,788.8 518.1,792.3 520.2,795.1C522.3,797.9 524.7,800.7 526.5,803.2C528.2,805.7 529.7,807.7 530.8,810.1C532.0,812.5 532.8,814.9 533.3,817.6C533.9,820.3 534.0,824.1 534.0,826.4C534.0,828.7 533.9,830.2 533.3,831.4C532.8,832.6 531.8,833.4 530.8,833.5C529.9,833.6 528.6,833.0 527.7,832.0C526.8,831.0 525.9,829.4 525.2,827.6C524.5,825.9 524.4,823.7 523.3,821.4C522.3,819.1 520.7,816.6 518.9,813.9C517.2,811.2 514.6,808.0 512.7,805.1C510.8,802.2 509.1,799.3 507.7,796.3C506.2,793.4 505.0,790.1 503.9,787.6C502.9,785.1 501.7,783.0 501.4,781.3C501.1,779.6 501.4,778.3 502.0,777.6Z"/></svg>

<h1><span class="t b" style="left:127.38px;top:124.74px;transform:scale(0.3028,0.6401);color:#000;letter-spacing:0.03em;text-shadow:1.97px 0 0 #000,-1.97px 0 0 #000,0.99px 0 0 #000,-0.99px 0 0 #000;">GLOBAL</span> <span class="t r" style="left:417.92px;top:124.74px;transform:scale(0.3200,0.6401);color:#000;letter-spacing:0.07em;text-shadow:0.78px 0 0 #000,-0.78px 0 0 #000,0.39px 0 0 #000,-0.39px 0 0 #000;">CAMPAIGN</span> <span class="t r" style="left:812.20px;top:124.74px;transform:scale(0.3190,0.6401);color:#000;letter-spacing:0.07em;text-shadow:0.78px 0 0 #000,-0.78px 0 0 #000,0.39px 0 0 #000,-0.39px 0 0 #000;">BENCHMARKS</span></h1>
<ul class="legend">
<li><i class="sw" style="left:1886px;top:137px;background:#c21f26"></i><span class="t r" style="left:1944.39px;top:127.51px;transform:scale(0.2023,0.3099);color:#c21f26;text-shadow:4.24px 0 0 #c21f26,-4.24px 0 0 #c21f26,2.12px 0 0 #c21f26,-2.12px 0 0 #c21f26;">%</span> <span class="t r" style="left:1993.04px;top:128.13px;transform:scale(0.1800,0.3022);color:#c21f26;letter-spacing:0.05em;text-shadow:6.02px 0 0 #c21f26,-6.02px 0 0 #c21f26,3.01px 0 0 #c21f26,-3.01px 0 0 #c21f26;">IN-VIEW</span> <span class="t r" style="left:2158.59px;top:128.28px;transform:scale(0.1686,0.3007);color:#c21f26;letter-spacing:0.05em;text-shadow:6.44px 0 0 #c21f26,-6.44px 0 0 #c21f26,3.22px 0 0 #c21f26,-3.22px 0 0 #c21f26;">OVERALL</span></li>
<li><i class="sw" style="left:1886px;top:215px;background:#2b6cb5"></i><span class="t r" style="left:1944.39px;top:205.72px;transform:scale(0.2023,0.3028);color:#2b6cb5;text-shadow:4.24px 0 0 #2b6cb5,-4.24px 0 0 #2b6cb5,2.12px 0 0 #2b6cb5,-2.12px 0 0 #2b6cb5;">%</span> <span class="t r" style="left:1993.13px;top:206.16px;transform:scale(0.1723,0.2944);color:#2b6cb5;letter-spacing:0.05em;text-shadow:6.31px 0 0 #2b6cb5,-6.31px 0 0 #2b6cb5,3.16px 0 0 #2b6cb5,-3.16px 0 0 #2b6cb5;">IN-TARGET</span> <span class="t r" style="left:2204.19px;top:206.16px;transform:scale(0.1704,0.2944);color:#2b6cb5;letter-spacing:0.05em;text-shadow:6.38px 0 0 #2b6cb5,-6.38px 0 0 #2b6cb5,3.19px 0 0 #2b6cb5,-3.19px 0 0 #2b6cb5;">OVERALL</span></li>
</ul>
<section><span class="t b" style="left:390.14px;top:522.73px;transform:scale(0.4809,0.7217);color:#c21f26;text-shadow:1.62px 0 0 #c21f26,-1.62px 0 0 #c21f26,0.81px 0 0 #c21f26,-0.81px 0 0 #c21f26;">4</span><span class="t b" style="left:455.49px;top:522.91px;transform:scale(0.5182,0.7204);color:#c21f26;text-shadow:1.51px 0 0 #c21f26,-1.51px 0 0 #c21f26,0.76px 0 0 #c21f26,-0.76px 0 0 #c21f26;">6</span><span class="pc" style="left:516.80px;top:538.00px;transform:scale(1.0081,0.9965);color:#c21f26"><span>%</span></span> <span class="t r" style="left:303.98px;top:675.44px;transform:scale(0.2107,0.3746);color:#000;letter-spacing:0.12em;text-shadow:5.61px 0 0 #000,-5.61px 0 0 #000,2.81px 0 0 #000,-2.81px 0 0 #000;">NORTH</span> <span class="t r" style="left:484.54px;top:675.44px;transform:scale(0.2080,0.3746);color:#000;letter-spacing:0.12em;text-shadow:5.70px 0 0 #000,-5.70px 0 0 #000,2.85px 0 0 #000,-2.85px 0 0 #000;">AMERICA</span> <span class="t b" style="left:394.73px;top:764.70px;transform:scale(0.4739,0.7225);color:#2b6cb5;text-shadow:1.63px 0 0 #2b6cb5,-1.63px 0 0 #2b6cb5,0.81px 0 0 #2b6cb5,-0.81px 0 0 #2b6cb5;">4</span><span class="t b" style="left:453.71px;top:765.01px;transform:scale(0.4980,0.7204);color:#2b6cb5;text-shadow:1.56px 0 0 #2b6cb5,-1.56px 0 0 #2b6cb5,0.78px 0 0 #2b6cb5,-0.78px 0 0 #2b6cb5;">3</span><span class="pc" style="left:514.00px;top:780.00px;transform:scale(0.9939,0.9921);color:#2b6cb5"><span>%</span></span></section>
<section><span class="t b" style="left:1159.73px;top:438.83px;transform:scale(0.4739,0.7217);color:#c21f26;text-shadow:1.63px 0 0 #c21f26,-1.63px 0 0 #c21f26,0.81px 0 0 #c21f26,-0.81px 0 0 #c21f26;">4</span><span class="t b" style="left:1217.57px;top:438.88px;transform:scale(0.5270,0.7214);color:#c21f26;text-shadow:1.46px 0 0 #c21f26,-1.46px 0 0 #c21f26,0.73px 0 0 #c21f26,-0.73px 0 0 #c21f26;">2</span><span class="pc" style="left:1279.70px;top:454.00px;transform:scale(0.9990,0.9991);color:#c21f26"><span>%</span></span> <span class="t r" style="left:1202.07px;top:590.37px;transform:scale(0.2114,0.3719);color:#000;letter-spacing:0.12em;text-shadow:5.58px 0 0 #000,-5.58px 0 0 #000,2.79px 0 0 #000,-2.79px 0 0 #000;">EMEA</span> <span class="t b" style="left:1159.13px;top:680.41px;transform:scale(0.4836,0.7254);color:#2b6cb5;text-shadow:1.61px 0 0 #2b6cb5,-1.61px 0 0 #2b6cb5,0.80px 0 0 #2b6cb5,-0.80px 0 0 #2b6cb5;">4</span><span class="t b" style="left:1218.93px;top:680.41px;transform:scale(0.4845,0.7254);color:#2b6cb5;text-shadow:1.61px 0 0 #2b6cb5,-1.61px 0 0 #2b6cb5,0.80px 0 0 #2b6cb5,-0.80px 0 0 #2b6cb5;">4</span><span class="pc" style="left:1279.70px;top:697.00px;transform:scale(0.9990,0.9833);color:#2b6cb5"><span>%</span></span></section>
<section><span class="t b" style="left:1768.18px;top:562.37px;transform:scale(0.5049,0.7236);color:#c21f26;text-shadow:1.55px 0 0 #c21f26,-1.55px 0 0 #c21f26,0.78px 0 0 #c21f26,-0.78px 0 0 #c21f26;">5</span><span class="t b" style="left:1829.19px;top:562.79px;transform:scale(0.5049,0.7211);color:#c21f26;text-shadow:1.54px 0 0 #c21f26,-1.54px 0 0 #c21f26,0.77px 0 0 #c21f26,-0.77px 0 0 #c21f26;">3</span><span class="pc" style="left:1889.80px;top:578.50px;transform:scale(0.9980,0.9965);color:#c21f26"><span>%</span></span> <span class="t r" style="left:1818.50px;top:720.23px;transform:scale(0.2005,0.3817);color:#000;letter-spacing:0.12em;text-shadow:5.87px 0 0 #000,-5.87px 0 0 #000,2.93px 0 0 #000,-2.93px 0 0 #000;">APAC</span> <span class="t b" style="left:1766.91px;top:810.67px;transform:scale(0.4980,0.7218);color:#2b6cb5;text-shadow:1.56px 0 0 #2b6cb5,-1.56px 0 0 #2b6cb5,0.78px 0 0 #2b6cb5,-0.78px 0 0 #2b6cb5;">3</span><span class="t b" style="left:1831.02px;top:810.91px;transform:scale(0.5160,0.7204);color:#2b6cb5;text-shadow:1.50px 0 0 #2b6cb5,-1.50px 0 0 #2b6cb5,0.75px 0 0 #2b6cb5,-0.75px 0 0 #2b6cb5;">9</span><span class="pc" style="left:1892.50px;top:826.00px;transform:scale(1.0000,0.9921);color:#2b6cb5"><span>%</span></span></section>
<section><span class="t b" style="left:809.73px;top:926.83px;transform:scale(0.4739,0.7217);color:#c21f26;text-shadow:1.63px 0 0 #c21f26,-1.63px 0 0 #c21f26,0.81px 0 0 #c21f26,-0.81px 0 0 #c21f26;">4</span><span class="t b" style="left:869.70px;top:926.93px;transform:scale(0.5000,0.7197);color:#c21f26;text-shadow:1.55px 0 0 #c21f26,-1.55px 0 0 #c21f26,0.78px 0 0 #c21f26,-0.78px 0 0 #c21f26;">3</span><span class="pc" style="left:929.70px;top:942.00px;transform:scale(0.9990,0.9991);color:#c21f26"><span>%</span></span> <span class="t r" style="left:843.73px;top:1081.26px;transform:scale(0.2068,0.3714);color:#000;letter-spacing:0.12em;text-shadow:5.72px 0 0 #000,-5.72px 0 0 #000,2.86px 0 0 #000,-2.86px 0 0 #000;">LATAM</span> <span class="t b" style="left:809.70px;top:1173.93px;transform:scale(0.5000,0.7197);color:#2b6cb5;text-shadow:1.55px 0 0 #2b6cb5,-1.55px 0 0 #2b6cb5,0.78px 0 0 #2b6cb5,-0.78px 0 0 #2b6cb5;">3</span><span class="t b" style="left:866.33px;top:1173.99px;transform:scale(0.5526,0.7165);color:#2b6cb5;text-shadow:1.39px 0 0 #2b6cb5,-1.39px 0 0 #2b6cb5,0.69px 0 0 #2b6cb5,-0.69px 0 0 #2b6cb5;">7</span><span class="pc" style="left:929.80px;top:1189.00px;transform:scale(0.9980,0.9921);color:#2b6cb5"><span>%</span></span></section>

</body></html>
